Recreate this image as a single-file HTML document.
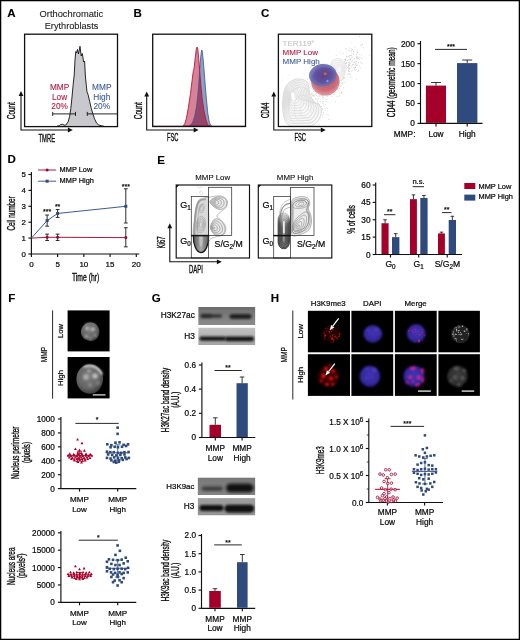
<!DOCTYPE html>
<html><head><meta charset="utf-8"><title>Figure</title>
<style>
html,body{margin:0;padding:0;background:#fff;}
body{width:520px;height:640px;overflow:hidden;font-family:"Liberation Sans", sans-serif;}
svg{display:block;font-family:"Liberation Sans", sans-serif;will-change:transform;}
</style></head><body>
<svg width="520" height="640" viewBox="0 0 520 640">
<defs>
<filter id="blur05" x="-10%" y="-10%" width="120%" height="120%"><feGaussianBlur stdDeviation="0.35"/></filter>
<filter id="blur06" x="-10%" y="-10%" width="120%" height="120%"><feGaussianBlur stdDeviation="0.55"/></filter>
<filter id="blur1" x="-20%" y="-20%" width="140%" height="140%"><feGaussianBlur stdDeviation="0.8"/></filter>
<filter id="blur2" x="-20%" y="-20%" width="140%" height="140%"><feGaussianBlur stdDeviation="1.4"/></filter>
<filter id="blur3" x="-30%" y="-30%" width="160%" height="160%"><feGaussianBlur stdDeviation="2.2"/></filter>
<filter id="blurb" x="-10%" y="-60%" width="120%" height="220%"><feGaussianBlur stdDeviation="1.0"/></filter>
<filter id="blurb2" x="-10%" y="-60%" width="120%" height="220%"><feGaussianBlur stdDeviation="1.5"/></filter>
<radialGradient id="nucg" cx="45%" cy="40%" r="60%">
 <stop offset="0" stop-color="#7c7c7c"/><stop offset="0.7" stop-color="#646464"/><stop offset="1" stop-color="#3c3c3c"/>
</radialGradient>
<radialGradient id="nucb" cx="50%" cy="45%" r="55%">
 <stop offset="0" stop-color="#4234b0"/><stop offset="0.75" stop-color="#3628a0"/><stop offset="1" stop-color="#1e1668"/>
</radialGradient>
<radialGradient id="nucgr" cx="50%" cy="45%" r="55%">
 <stop offset="0" stop-color="#3e3e3e"/><stop offset="0.8" stop-color="#2e2e2e"/><stop offset="1" stop-color="#161616"/>
</radialGradient>
</defs>
<rect x="0" y="0" width="520" height="640" fill="#fff"/>

<text transform="translate(7.20,17.00) scale(1.1,1)" font-size="10.5" fill="#000" stroke="#000" stroke-width="0.12" font-weight="bold">A</text><text x="71.40" y="16.90" font-size="9.3" text-anchor="middle" fill="#222" stroke="#222" stroke-width="0.1" font-weight="normal" >Orthochromatic</text><text x="71.50" y="28.90" font-size="9.2" text-anchor="middle" fill="#222" stroke="#222" stroke-width="0.1" font-weight="normal" >Erythroblasts</text><path d="M57,126.2 L59.5,125.6 L60.6,124.5 L62.7,124.2 L64.2,125.2 L65.8,125 L68.1,121.9 L69.6,116.5 L70.8,108.8 L71.9,98.1 L73.2,84.2 L74.2,75 L75,60 L75.8,51.5 L76.6,53 L77.5,49.5 L78.5,54 L80,46.3 L81.2,56 L82.3,53.5 L83.6,62 L84.6,61 L85.3,75 L86.2,84.2 L87,91.9 L88.1,94.7 L89.6,101.2 L91.2,108.1 L93,114.2 L94.5,118.8 L96.5,123 L98.8,125 L101.9,125.9 L104,126.2 L104,126.6 L57,126.6 Z" fill="#c9c9cd" stroke="none"/><path d="M57,126.2 L59.5,125.6 L60.6,124.5 L62.7,124.2 L64.2,125.2 L65.8,125 L68.1,121.9 L69.6,116.5 L70.8,108.8 L71.9,98.1 L73.2,84.2 L74.2,75 L75,60 L75.8,51.5 L76.6,53 L77.5,49.5 L78.5,54 L80,46.3 L81.2,56 L82.3,53.5 L83.6,62 L84.6,61 L85.3,75 L86.2,84.2 L87,91.9 L88.1,94.7 L89.6,101.2 L91.2,108.1 L93,114.2 L94.5,118.8 L96.5,123 L98.8,125 L101.9,125.9 L104,126.2" fill="none" stroke="#111" stroke-width="0.9" stroke-linejoin="round"/><rect x="24.60" y="34.20" width="92.90" height="92.40" fill="none" stroke="#111" stroke-width="1.3" /><line x1="52.70" y1="113.90" x2="75.50" y2="113.90" stroke="#111" stroke-width="0.9" /><line x1="52.70" y1="111.90" x2="52.70" y2="115.90" stroke="#111" stroke-width="0.9" /><line x1="75.50" y1="111.90" x2="75.50" y2="115.90" stroke="#111" stroke-width="0.9" /><line x1="87.30" y1="113.90" x2="117.50" y2="113.90" stroke="#111" stroke-width="0.9" /><line x1="87.30" y1="111.90" x2="87.30" y2="115.90" stroke="#111" stroke-width="0.9" /><text x="59.60" y="90.00" font-size="8.3" text-anchor="middle" fill="#b5173e" stroke="#b5173e" stroke-width="0.1" font-weight="normal" >MMP</text><text x="101.80" y="90.00" font-size="8.3" text-anchor="middle" fill="#3d5a96" stroke="#3d5a96" stroke-width="0.1" font-weight="normal" >MMP</text><text x="59.60" y="99.70" font-size="8.3" text-anchor="middle" fill="#b5173e" stroke="#b5173e" stroke-width="0.1" font-weight="normal" >Low</text><text x="101.80" y="99.70" font-size="8.3" text-anchor="middle" fill="#3d5a96" stroke="#3d5a96" stroke-width="0.1" font-weight="normal" >High</text><text x="59.60" y="109.40" font-size="8.3" text-anchor="middle" fill="#b5173e" stroke="#b5173e" stroke-width="0.1" font-weight="normal" >20%</text><text x="101.80" y="109.40" font-size="8.3" text-anchor="middle" fill="#3d5a96" stroke="#3d5a96" stroke-width="0.1" font-weight="normal" >20%</text><path d="M21.00,94.00 L21.00,130.00 L69.80,130.00" fill="none" stroke="#111" stroke-width="1.1"/><path d="M21.00,91.00 l-2.4,4.9 l4.8,0 z" fill="#111"/><path d="M72.80,130.00 l-4.9,-2.4 l0,4.8 z" fill="#111"/><text transform="translate(15.40,110.70) rotate(-90) scale(0.613,1)" font-size="10.4" text-anchor="middle" fill="#0a0a0a" stroke="#0a0a0a" stroke-width="0.34" font-weight="normal">Count</text><text transform="translate(46.80,141.60) rotate(0) scale(0.563,1)" font-size="10.4" text-anchor="middle" fill="#0a0a0a" stroke="#0a0a0a" stroke-width="0.34" font-weight="normal">TMRE</text>
<text transform="translate(133.60,17.00) scale(1.1,1)" font-size="10.5" fill="#000" stroke="#000" stroke-width="0.12" font-weight="bold">B</text><clipPath id="clipB"><path d="M189.1,126 L191,124.6 L192.7,122.3 L194.8,116 L196.6,106.1 L198,93.4 L199,80.8 L199.8,68.1 L200.7,56.9 L201.5,50.6 L201.9,50 L202.3,51.3 L202.9,56.9 L203.9,68.1 L205,82.2 L206.4,99.1 L207.8,113.1 L209.3,122.3 L210.7,125.3 L211.8,126 Z"/></clipPath><path d="M189.1,126 L191,124.6 L192.7,122.3 L194.8,116 L196.6,106.1 L198,93.4 L199,80.8 L199.8,68.1 L200.7,56.9 L201.5,50.6 L201.9,50 L202.3,51.3 L202.9,56.9 L203.9,68.1 L205,82.2 L206.4,99.1 L207.8,113.1 L209.3,122.3 L210.7,125.3 L211.8,126 Z" fill="#8ca0c3" stroke="none"/><path d="M183.3,126 L184.8,123.5 L186.3,118.8 L188.4,107.5 L190.5,93.4 L192.4,78 L193.4,70.4 L194,68.6 L195.2,58.3 L196.2,49.8 L196.7,47.4 L197.1,47 L197.5,47.6 L197.9,49.8 L198.7,58.3 L199.7,71 L200.8,85 L202.2,99 L203.9,110.3 L206,120.2 L207.4,124.2 L208.8,125.7 L209.5,126 Z" fill="#d78296" stroke="none"/><path d="M183.3,126 L184.8,123.5 L186.3,118.8 L188.4,107.5 L190.5,93.4 L192.4,78 L193.4,70.4 L194,68.6 L195.2,58.3 L196.2,49.8 L196.7,47.4 L197.1,47 L197.5,47.6 L197.9,49.8 L198.7,58.3 L199.7,71 L200.8,85 L202.2,99 L203.9,110.3 L206,120.2 L207.4,124.2 L208.8,125.7 L209.5,126 Z" fill="#964669" stroke="none" clip-path="url(#clipB)"/><path d="M189.1,126 L191,124.6 L192.7,122.3 L194.8,116 L196.6,106.1 L198,93.4 L199,80.8 L199.8,68.1 L200.7,56.9 L201.5,50.6 L201.9,50 L202.3,51.3 L202.9,56.9 L203.9,68.1 L205,82.2 L206.4,99.1 L207.8,113.1 L209.3,122.3 L210.7,125.3 L211.8,126 Z" fill="none" stroke="#3a5590" stroke-width="0.8" stroke-linejoin="round"/><path d="M183.3,126 L184.8,123.5 L186.3,118.8 L188.4,107.5 L190.5,93.4 L192.4,78 L193.4,70.4 L194,68.6 L195.2,58.3 L196.2,49.8 L196.7,47.4 L197.1,47 L197.5,47.6 L197.9,49.8 L198.7,58.3 L199.7,71 L200.8,85 L202.2,99 L203.9,110.3 L206,120.2 L207.4,124.2 L208.8,125.7 L209.5,126 Z" fill="none" stroke="#b5173e" stroke-width="0.9" stroke-linejoin="round"/><line x1="153.00" y1="126.20" x2="245.50" y2="126.20" stroke="#8a2040" stroke-width="0.8" /><rect x="152.70" y="34.20" width="92.80" height="92.30" fill="none" stroke="#111" stroke-width="1.3" /><path d="M146.70,94.50 L146.70,130.00 L195.60,130.00" fill="none" stroke="#111" stroke-width="1.1"/><path d="M146.70,91.50 l-2.4,4.9 l4.8,0 z" fill="#111"/><path d="M198.60,130.00 l-4.9,-2.4 l0,4.8 z" fill="#111"/><text transform="translate(141.50,110.70) rotate(-90) scale(0.613,1)" font-size="10.4" text-anchor="middle" fill="#0a0a0a" stroke="#0a0a0a" stroke-width="0.34" font-weight="normal">Count</text><text transform="translate(172.70,141.30) rotate(0) scale(0.553,1)" font-size="10.4" text-anchor="middle" fill="#0a0a0a" stroke="#0a0a0a" stroke-width="0.34" font-weight="normal">FSC</text>
<text transform="translate(261.00,17.00) scale(1.1,1)" font-size="10.5" fill="#000" stroke="#000" stroke-width="0.12" font-weight="bold">C</text><rect x="340.8" y="85.2" width="0.55" height="0.55" fill="#969696"/><rect x="322.6" y="84.0" width="0.55" height="0.55" fill="#969696"/><rect x="326.1" y="85.9" width="0.55" height="0.55" fill="#969696"/><rect x="341.4" y="74.6" width="0.55" height="0.55" fill="#969696"/><rect x="340.2" y="70.4" width="0.55" height="0.55" fill="#969696"/><rect x="322.5" y="68.2" width="0.55" height="0.55" fill="#969696"/><rect x="330.2" y="80.0" width="0.55" height="0.55" fill="#969696"/><rect x="330.5" y="81.9" width="0.55" height="0.55" fill="#969696"/><rect x="334.1" y="87.1" width="0.55" height="0.55" fill="#969696"/><rect x="353.8" y="68.6" width="0.55" height="0.55" fill="#969696"/><rect x="339.9" y="72.6" width="0.55" height="0.55" fill="#969696"/><rect x="331.7" y="87.6" width="0.55" height="0.55" fill="#969696"/><rect x="341.7" y="67.5" width="0.55" height="0.55" fill="#969696"/><rect x="338.7" y="69.8" width="0.55" height="0.55" fill="#969696"/><rect x="348.4" y="56.0" width="0.55" height="0.55" fill="#969696"/><rect x="331.1" y="66.2" width="0.55" height="0.55" fill="#969696"/><rect x="343.9" y="82.2" width="0.55" height="0.55" fill="#969696"/><rect x="320.8" y="89.8" width="0.55" height="0.55" fill="#969696"/><rect x="328.9" y="83.0" width="0.55" height="0.55" fill="#969696"/><rect x="346.8" y="56.2" width="0.55" height="0.55" fill="#969696"/><rect x="348.7" y="68.2" width="0.55" height="0.55" fill="#969696"/><rect x="338.0" y="64.1" width="0.55" height="0.55" fill="#969696"/><rect x="357.6" y="56.7" width="0.55" height="0.55" fill="#969696"/><rect x="354.6" y="69.5" width="0.55" height="0.55" fill="#969696"/><rect x="356.5" y="65.4" width="0.55" height="0.55" fill="#969696"/><rect x="327.8" y="85.2" width="0.55" height="0.55" fill="#969696"/><rect x="323.1" y="88.2" width="0.55" height="0.55" fill="#969696"/><rect x="339.1" y="88.4" width="0.55" height="0.55" fill="#969696"/><rect x="330.0" y="90.6" width="0.55" height="0.55" fill="#969696"/><rect x="357.9" y="62.1" width="0.55" height="0.55" fill="#969696"/><rect x="350.7" y="60.7" width="0.55" height="0.55" fill="#969696"/><rect x="350.8" y="65.8" width="0.55" height="0.55" fill="#969696"/><rect x="348.0" y="64.1" width="0.55" height="0.55" fill="#969696"/><rect x="332.5" y="87.4" width="0.55" height="0.55" fill="#969696"/><rect x="325.0" y="80.9" width="0.55" height="0.55" fill="#969696"/><rect x="340.1" y="79.3" width="0.55" height="0.55" fill="#969696"/><rect x="323.5" y="68.4" width="0.55" height="0.55" fill="#969696"/><rect x="338.4" y="63.6" width="0.55" height="0.55" fill="#969696"/><rect x="358.4" y="70.0" width="0.55" height="0.55" fill="#969696"/><rect x="357.0" y="52.6" width="0.55" height="0.55" fill="#969696"/><rect x="335.5" y="76.6" width="0.55" height="0.55" fill="#969696"/><rect x="347.1" y="67.4" width="0.55" height="0.55" fill="#969696"/><rect x="335.1" y="86.3" width="0.55" height="0.55" fill="#969696"/><rect x="331.0" y="86.2" width="0.55" height="0.55" fill="#969696"/><rect x="328.2" y="85.8" width="0.55" height="0.55" fill="#969696"/><rect x="349.7" y="55.7" width="0.55" height="0.55" fill="#969696"/><rect x="330.3" y="84.9" width="0.55" height="0.55" fill="#969696"/><rect x="340.7" y="65.9" width="0.55" height="0.55" fill="#969696"/><rect x="337.5" y="72.5" width="0.55" height="0.55" fill="#969696"/><rect x="326.5" y="89.1" width="0.55" height="0.55" fill="#969696"/><rect x="351.6" y="61.1" width="0.55" height="0.55" fill="#969696"/><rect x="351.2" y="55.0" width="0.55" height="0.55" fill="#969696"/><rect x="349.5" y="71.0" width="0.55" height="0.55" fill="#969696"/><rect x="361.4" y="46.6" width="0.55" height="0.55" fill="#969696"/><rect x="331.4" y="82.3" width="0.55" height="0.55" fill="#969696"/><rect x="338.9" y="59.3" width="0.55" height="0.55" fill="#969696"/><rect x="337.7" y="89.4" width="0.55" height="0.55" fill="#969696"/><rect x="362.1" y="44.4" width="0.55" height="0.55" fill="#969696"/><rect x="350.3" y="55.2" width="0.55" height="0.55" fill="#969696"/><rect x="340.6" y="71.7" width="0.55" height="0.55" fill="#969696"/><rect x="326.0" y="92.4" width="0.55" height="0.55" fill="#969696"/><rect x="353.1" y="62.4" width="0.55" height="0.55" fill="#969696"/><rect x="369.0" y="54.8" width="0.55" height="0.55" fill="#969696"/><rect x="337.7" y="80.5" width="0.55" height="0.55" fill="#969696"/><rect x="334.3" y="90.7" width="0.55" height="0.55" fill="#969696"/><rect x="356.7" y="50.6" width="0.55" height="0.55" fill="#969696"/><rect x="346.4" y="63.0" width="0.55" height="0.55" fill="#969696"/><rect x="354.7" y="59.0" width="0.55" height="0.55" fill="#969696"/><rect x="344.8" y="63.1" width="0.55" height="0.55" fill="#969696"/><rect x="344.3" y="72.1" width="0.55" height="0.55" fill="#969696"/><rect x="350.3" y="59.3" width="0.55" height="0.55" fill="#969696"/><rect x="353.8" y="51.6" width="0.55" height="0.55" fill="#969696"/><rect x="337.4" y="96.0" width="0.55" height="0.55" fill="#969696"/><rect x="357.0" y="71.0" width="0.55" height="0.55" fill="#969696"/><rect x="352.3" y="49.2" width="0.55" height="0.55" fill="#969696"/><rect x="343.2" y="70.2" width="0.55" height="0.55" fill="#969696"/><rect x="350.8" y="48.1" width="0.55" height="0.55" fill="#969696"/><rect x="342.9" y="62.0" width="0.55" height="0.55" fill="#969696"/><rect x="351.9" y="65.1" width="0.55" height="0.55" fill="#969696"/><rect x="335.3" y="87.3" width="0.55" height="0.55" fill="#969696"/><rect x="331.0" y="81.0" width="0.55" height="0.55" fill="#969696"/><rect x="349.3" y="63.2" width="0.55" height="0.55" fill="#969696"/><rect x="348.7" y="64.0" width="0.55" height="0.55" fill="#969696"/><rect x="346.1" y="56.7" width="0.55" height="0.55" fill="#969696"/><rect x="348.1" y="71.1" width="0.55" height="0.55" fill="#969696"/><rect x="342.2" y="82.1" width="0.55" height="0.55" fill="#969696"/><rect x="321.7" y="84.0" width="0.55" height="0.55" fill="#969696"/><rect x="339.4" y="76.6" width="0.55" height="0.55" fill="#969696"/><rect x="343.3" y="65.9" width="0.55" height="0.55" fill="#969696"/><rect x="342.9" y="74.6" width="0.55" height="0.55" fill="#969696"/><rect x="341.5" y="61.3" width="0.55" height="0.55" fill="#969696"/><rect x="354.3" y="58.2" width="0.55" height="0.55" fill="#969696"/><rect x="337.2" y="66.9" width="0.55" height="0.55" fill="#969696"/><rect x="339.7" y="67.0" width="0.55" height="0.55" fill="#969696"/><rect x="349.0" y="67.8" width="0.55" height="0.55" fill="#969696"/><rect x="356.6" y="56.3" width="0.55" height="0.55" fill="#969696"/><rect x="353.6" y="64.3" width="0.55" height="0.55" fill="#969696"/><rect x="334.8" y="88.6" width="0.55" height="0.55" fill="#969696"/><rect x="328.3" y="88.3" width="0.55" height="0.55" fill="#969696"/><rect x="348.8" y="50.7" width="0.55" height="0.55" fill="#969696"/><rect x="328.8" y="72.7" width="0.55" height="0.55" fill="#969696"/><rect x="341.9" y="70.8" width="0.55" height="0.55" fill="#969696"/><rect x="338.4" y="78.5" width="0.55" height="0.55" fill="#969696"/><rect x="351.9" y="70.6" width="0.55" height="0.55" fill="#969696"/><rect x="324.3" y="86.0" width="0.55" height="0.55" fill="#969696"/><rect x="337.9" y="82.2" width="0.55" height="0.55" fill="#969696"/><rect x="355.2" y="64.5" width="0.55" height="0.55" fill="#969696"/><rect x="344.6" y="73.7" width="0.55" height="0.55" fill="#969696"/><rect x="342.5" y="66.6" width="0.55" height="0.55" fill="#969696"/><rect x="359.4" y="36.4" width="0.55" height="0.55" fill="#969696"/><rect x="329.0" y="86.4" width="0.55" height="0.55" fill="#969696"/><rect x="349.0" y="65.2" width="0.55" height="0.55" fill="#969696"/><rect x="348.1" y="66.8" width="0.55" height="0.55" fill="#969696"/><rect x="341.7" y="91.9" width="0.55" height="0.55" fill="#969696"/><rect x="342.3" y="65.7" width="0.55" height="0.55" fill="#969696"/><rect x="325.3" y="79.2" width="0.55" height="0.55" fill="#969696"/><rect x="336.1" y="81.8" width="0.55" height="0.55" fill="#969696"/><rect x="360.3" y="67.7" width="0.55" height="0.55" fill="#969696"/><rect x="332.3" y="79.9" width="0.55" height="0.55" fill="#969696"/><rect x="323.2" y="71.2" width="0.55" height="0.55" fill="#969696"/><rect x="339.1" y="85.1" width="0.55" height="0.55" fill="#969696"/><rect x="335.9" y="82.5" width="0.55" height="0.55" fill="#969696"/><rect x="329.1" y="92.1" width="0.55" height="0.55" fill="#969696"/><rect x="335.4" y="71.8" width="0.55" height="0.55" fill="#969696"/><rect x="343.4" y="76.8" width="0.55" height="0.55" fill="#969696"/><rect x="326.5" y="88.6" width="0.55" height="0.55" fill="#969696"/><rect x="344.3" y="61.6" width="0.55" height="0.55" fill="#969696"/><rect x="342.9" y="70.5" width="0.55" height="0.55" fill="#969696"/><rect x="344.2" y="63.5" width="0.55" height="0.55" fill="#969696"/><rect x="345.5" y="64.8" width="0.55" height="0.55" fill="#969696"/><rect x="352.1" y="63.9" width="0.55" height="0.55" fill="#969696"/><rect x="348.7" y="50.1" width="0.55" height="0.55" fill="#969696"/><rect x="337.0" y="76.2" width="0.55" height="0.55" fill="#969696"/><rect x="338.8" y="88.5" width="0.55" height="0.55" fill="#969696"/><rect x="335.0" y="81.8" width="0.55" height="0.55" fill="#969696"/><rect x="357.4" y="51.8" width="0.55" height="0.55" fill="#969696"/><rect x="334.7" y="84.2" width="0.55" height="0.55" fill="#969696"/><rect x="343.4" y="78.7" width="0.55" height="0.55" fill="#969696"/><rect x="349.5" y="74.6" width="0.55" height="0.55" fill="#969696"/><rect x="343.0" y="87.6" width="0.55" height="0.55" fill="#969696"/><rect x="335.1" y="77.7" width="0.55" height="0.55" fill="#969696"/><rect x="330.4" y="76.3" width="0.55" height="0.55" fill="#969696"/><rect x="331.4" y="81.1" width="0.55" height="0.55" fill="#969696"/><rect x="339.0" y="82.8" width="0.55" height="0.55" fill="#969696"/><rect x="332.3" y="87.4" width="0.55" height="0.55" fill="#969696"/><rect x="326.7" y="75.7" width="0.55" height="0.55" fill="#969696"/><rect x="343.3" y="53.2" width="0.55" height="0.55" fill="#969696"/><rect x="348.3" y="62.1" width="0.55" height="0.55" fill="#969696"/><rect x="361.2" y="63.6" width="0.55" height="0.55" fill="#969696"/><rect x="356.3" y="69.7" width="0.55" height="0.55" fill="#969696"/><rect x="346.0" y="49.5" width="0.55" height="0.55" fill="#969696"/><rect x="355.0" y="66.9" width="0.55" height="0.55" fill="#969696"/><rect x="346.6" y="60.0" width="0.55" height="0.55" fill="#969696"/><rect x="339.8" y="52.4" width="0.55" height="0.55" fill="#969696"/><rect x="345.0" y="60.0" width="0.55" height="0.55" fill="#969696"/><rect x="330.7" y="91.9" width="0.55" height="0.55" fill="#969696"/><rect x="333.1" y="76.8" width="0.55" height="0.55" fill="#969696"/><rect x="338.5" y="59.1" width="0.55" height="0.55" fill="#969696"/><rect x="351.4" y="71.6" width="0.55" height="0.55" fill="#969696"/><rect x="341.0" y="62.4" width="0.55" height="0.55" fill="#969696"/><rect x="354.8" y="70.2" width="0.55" height="0.55" fill="#969696"/><rect x="337.8" y="81.9" width="0.55" height="0.55" fill="#969696"/><rect x="350.6" y="74.2" width="0.55" height="0.55" fill="#969696"/><rect x="349.4" y="55.1" width="0.55" height="0.55" fill="#969696"/><rect x="336.2" y="60.8" width="0.55" height="0.55" fill="#969696"/><rect x="343.0" y="64.8" width="0.55" height="0.55" fill="#969696"/><rect x="330.2" y="94.5" width="0.55" height="0.55" fill="#969696"/><rect x="334.3" y="77.2" width="0.55" height="0.55" fill="#969696"/><rect x="326.8" y="96.3" width="0.55" height="0.55" fill="#969696"/><rect x="344.5" y="59.3" width="0.55" height="0.55" fill="#969696"/><rect x="334.9" y="72.2" width="0.55" height="0.55" fill="#969696"/><rect x="332.7" y="81.1" width="0.55" height="0.55" fill="#969696"/><rect x="356.4" y="54.2" width="0.55" height="0.55" fill="#969696"/><rect x="346.5" y="55.8" width="0.55" height="0.55" fill="#969696"/><rect x="339.0" y="77.5" width="0.55" height="0.55" fill="#969696"/><rect x="356.3" y="64.8" width="0.55" height="0.55" fill="#969696"/><rect x="315.6" y="80.6" width="0.55" height="0.55" fill="#969696"/><rect x="333.0" y="75.9" width="0.55" height="0.55" fill="#969696"/><rect x="351.3" y="53.0" width="0.55" height="0.55" fill="#969696"/><rect x="351.6" y="57.6" width="0.55" height="0.55" fill="#969696"/><rect x="319.5" y="88.3" width="0.55" height="0.55" fill="#969696"/><rect x="338.6" y="82.7" width="0.55" height="0.55" fill="#969696"/><rect x="335.7" y="76.9" width="0.55" height="0.55" fill="#969696"/><rect x="350.1" y="59.5" width="0.55" height="0.55" fill="#969696"/><rect x="350.8" y="41.8" width="0.55" height="0.55" fill="#969696"/><rect x="330.5" y="83.2" width="0.55" height="0.55" fill="#969696"/><rect x="351.2" y="50.5" width="0.55" height="0.55" fill="#969696"/><rect x="338.5" y="75.6" width="0.55" height="0.55" fill="#969696"/><rect x="331.5" y="79.6" width="0.55" height="0.55" fill="#969696"/><rect x="354.1" y="61.7" width="0.55" height="0.55" fill="#969696"/><rect x="343.5" y="76.9" width="0.55" height="0.55" fill="#969696"/><rect x="362.9" y="47.0" width="0.55" height="0.55" fill="#969696"/><rect x="357.1" y="57.9" width="0.55" height="0.55" fill="#969696"/><rect x="342.1" y="67.1" width="0.55" height="0.55" fill="#969696"/><rect x="338.4" y="66.7" width="0.55" height="0.55" fill="#969696"/><rect x="344.9" y="68.2" width="0.55" height="0.55" fill="#969696"/><rect x="358.5" y="62.2" width="0.55" height="0.55" fill="#969696"/><rect x="333.4" y="87.3" width="0.55" height="0.55" fill="#969696"/><rect x="354.7" y="65.0" width="0.55" height="0.55" fill="#969696"/><rect x="329.4" y="75.3" width="0.55" height="0.55" fill="#969696"/><rect x="333.2" y="86.4" width="0.55" height="0.55" fill="#969696"/><rect x="348.9" y="57.3" width="0.55" height="0.55" fill="#969696"/><rect x="359.7" y="57.0" width="0.55" height="0.55" fill="#969696"/><rect x="331.1" y="86.1" width="0.55" height="0.55" fill="#969696"/><rect x="340.0" y="79.2" width="0.55" height="0.55" fill="#969696"/><rect x="322.4" y="73.0" width="0.55" height="0.55" fill="#969696"/><rect x="343.2" y="66.3" width="0.55" height="0.55" fill="#969696"/><rect x="337.8" y="74.6" width="0.55" height="0.55" fill="#969696"/><rect x="325.2" y="104.0" width="0.55" height="0.55" fill="#969696"/><rect x="321.3" y="83.5" width="0.55" height="0.55" fill="#969696"/><rect x="352.9" y="64.1" width="0.55" height="0.55" fill="#969696"/><rect x="328.2" y="84.0" width="0.55" height="0.55" fill="#969696"/><rect x="361.7" y="44.0" width="0.55" height="0.55" fill="#969696"/><rect x="335.9" y="89.5" width="0.55" height="0.55" fill="#969696"/><rect x="345.0" y="59.1" width="0.55" height="0.55" fill="#969696"/><rect x="315.3" y="98.1" width="0.55" height="0.55" fill="#969696"/><rect x="360.7" y="45.2" width="0.55" height="0.55" fill="#969696"/><rect x="336.1" y="82.1" width="0.55" height="0.55" fill="#969696"/><rect x="335.8" y="55.1" width="0.55" height="0.55" fill="#969696"/><rect x="341.5" y="53.9" width="0.55" height="0.55" fill="#969696"/><rect x="338.1" y="71.8" width="0.55" height="0.55" fill="#969696"/><rect x="350.9" y="77.0" width="0.55" height="0.55" fill="#969696"/><rect x="344.3" y="69.5" width="0.55" height="0.55" fill="#969696"/><rect x="327.5" y="71.2" width="0.55" height="0.55" fill="#969696"/><rect x="336.0" y="87.8" width="0.55" height="0.55" fill="#969696"/><rect x="340.2" y="71.4" width="0.55" height="0.55" fill="#969696"/><rect x="349.1" y="68.0" width="0.55" height="0.55" fill="#969696"/><rect x="348.2" y="69.8" width="0.55" height="0.55" fill="#969696"/><rect x="348.2" y="58.7" width="0.55" height="0.55" fill="#969696"/><rect x="342.5" y="76.9" width="0.55" height="0.55" fill="#969696"/><rect x="342.2" y="78.7" width="0.55" height="0.55" fill="#969696"/><rect x="342.2" y="67.7" width="0.55" height="0.55" fill="#969696"/><rect x="349.9" y="63.0" width="0.55" height="0.55" fill="#969696"/><rect x="323.7" y="93.1" width="0.55" height="0.55" fill="#969696"/><rect x="349.9" y="76.6" width="0.55" height="0.55" fill="#969696"/><rect x="344.1" y="62.7" width="0.55" height="0.55" fill="#969696"/><rect x="350.9" y="67.0" width="0.55" height="0.55" fill="#969696"/><rect x="334.7" y="91.8" width="0.55" height="0.55" fill="#969696"/><rect x="341.6" y="75.5" width="0.55" height="0.55" fill="#969696"/><rect x="332.7" y="88.8" width="0.55" height="0.55" fill="#969696"/><rect x="349.2" y="64.1" width="0.55" height="0.55" fill="#969696"/><rect x="341.5" y="93.0" width="0.55" height="0.55" fill="#969696"/><rect x="332.3" y="84.0" width="0.55" height="0.55" fill="#969696"/><rect x="347.8" y="66.0" width="0.55" height="0.55" fill="#969696"/><rect x="361.9" y="62.8" width="0.55" height="0.55" fill="#969696"/><rect x="341.4" y="91.9" width="0.55" height="0.55" fill="#969696"/><rect x="357.1" y="64.7" width="0.55" height="0.55" fill="#969696"/><rect x="333.6" y="79.6" width="0.55" height="0.55" fill="#969696"/><rect x="335.9" y="82.3" width="0.55" height="0.55" fill="#969696"/><rect x="339.5" y="75.1" width="0.55" height="0.55" fill="#969696"/><rect x="356.4" y="61.6" width="0.55" height="0.55" fill="#969696"/><rect x="353.4" y="53.4" width="0.55" height="0.55" fill="#969696"/><rect x="321.8" y="87.4" width="0.55" height="0.55" fill="#969696"/><rect x="355.6" y="63.0" width="0.55" height="0.55" fill="#969696"/><rect x="359.0" y="58.9" width="0.55" height="0.55" fill="#969696"/><rect x="350.5" y="58.4" width="0.55" height="0.55" fill="#969696"/><rect x="339.5" y="92.8" width="0.55" height="0.55" fill="#969696"/><rect x="333.5" y="64.3" width="0.55" height="0.55" fill="#969696"/><rect x="334.1" y="93.9" width="0.55" height="0.55" fill="#969696"/><rect x="343.8" y="78.1" width="0.55" height="0.55" fill="#969696"/><rect x="335.4" y="77.8" width="0.55" height="0.55" fill="#969696"/><rect x="356.0" y="57.3" width="0.55" height="0.55" fill="#969696"/><rect x="358.6" y="56.7" width="0.55" height="0.55" fill="#969696"/><rect x="354.6" y="67.2" width="0.55" height="0.55" fill="#969696"/><rect x="337.6" y="82.3" width="0.55" height="0.55" fill="#969696"/><rect x="344.2" y="69.3" width="0.55" height="0.55" fill="#969696"/><rect x="349.3" y="47.7" width="0.55" height="0.55" fill="#969696"/><rect x="345.0" y="57.8" width="0.55" height="0.55" fill="#969696"/><rect x="328.8" y="86.5" width="0.55" height="0.55" fill="#969696"/><rect x="331.6" y="96.4" width="0.55" height="0.55" fill="#969696"/><rect x="334.9" y="80.3" width="0.55" height="0.55" fill="#969696"/><rect x="334.9" y="86.6" width="0.55" height="0.55" fill="#969696"/><rect x="357.2" y="57.5" width="0.55" height="0.55" fill="#969696"/><rect x="334.3" y="89.8" width="0.55" height="0.55" fill="#969696"/><rect x="343.2" y="65.5" width="0.55" height="0.55" fill="#969696"/><rect x="332.0" y="66.6" width="0.55" height="0.55" fill="#969696"/><rect x="353.5" y="54.1" width="0.55" height="0.55" fill="#969696"/><rect x="332.3" y="79.0" width="0.55" height="0.55" fill="#969696"/><rect x="336.2" y="76.9" width="0.55" height="0.55" fill="#969696"/><rect x="332.0" y="86.5" width="0.55" height="0.55" fill="#969696"/><rect x="336.5" y="76.7" width="0.55" height="0.55" fill="#969696"/><rect x="320.9" y="90.2" width="0.55" height="0.55" fill="#969696"/><rect x="342.5" y="83.4" width="0.55" height="0.55" fill="#969696"/><rect x="348.4" y="65.6" width="0.55" height="0.55" fill="#969696"/><rect x="345.1" y="59.7" width="0.55" height="0.55" fill="#969696"/><rect x="358.3" y="58.4" width="0.55" height="0.55" fill="#969696"/><rect x="335.6" y="101.4" width="0.55" height="0.55" fill="#969696"/><rect x="348.7" y="65.3" width="0.55" height="0.55" fill="#969696"/><rect x="347.6" y="60.3" width="0.55" height="0.55" fill="#969696"/><rect x="352.0" y="60.4" width="0.55" height="0.55" fill="#969696"/><rect x="340.8" y="64.4" width="0.55" height="0.55" fill="#969696"/><rect x="339.6" y="79.1" width="0.55" height="0.55" fill="#969696"/><rect x="326.6" y="73.4" width="0.55" height="0.55" fill="#969696"/><rect x="337.4" y="81.5" width="0.55" height="0.55" fill="#969696"/><rect x="348.4" y="70.5" width="0.55" height="0.55" fill="#969696"/><rect x="334.2" y="72.6" width="0.55" height="0.55" fill="#969696"/><rect x="332.7" y="90.0" width="0.55" height="0.55" fill="#969696"/><rect x="340.8" y="66.9" width="0.55" height="0.55" fill="#969696"/><rect x="328.8" y="75.7" width="0.55" height="0.55" fill="#969696"/><rect x="329.2" y="94.6" width="0.55" height="0.55" fill="#969696"/><rect x="330.2" y="74.7" width="0.55" height="0.55" fill="#969696"/><rect x="351.8" y="56.1" width="0.55" height="0.55" fill="#969696"/><rect x="340.1" y="86.3" width="0.55" height="0.55" fill="#969696"/><rect x="345.0" y="81.6" width="0.55" height="0.55" fill="#969696"/><rect x="341.3" y="67.1" width="0.55" height="0.55" fill="#969696"/><rect x="349.0" y="59.0" width="0.55" height="0.55" fill="#969696"/><rect x="318.3" y="84.3" width="0.55" height="0.55" fill="#969696"/><rect x="360.4" y="62.3" width="0.55" height="0.55" fill="#969696"/><rect x="333.8" y="75.3" width="0.55" height="0.55" fill="#969696"/><rect x="320.9" y="76.3" width="0.55" height="0.55" fill="#969696"/><rect x="318.4" y="85.1" width="0.55" height="0.55" fill="#969696"/><rect x="356.0" y="58.6" width="0.55" height="0.55" fill="#969696"/><rect x="361.1" y="54.7" width="0.55" height="0.55" fill="#969696"/><rect x="332.9" y="83.1" width="0.55" height="0.55" fill="#969696"/><rect x="345.0" y="48.3" width="0.55" height="0.55" fill="#969696"/><rect x="331.8" y="77.7" width="0.55" height="0.55" fill="#969696"/><rect x="344.6" y="63.4" width="0.55" height="0.55" fill="#969696"/><rect x="332.7" y="88.7" width="0.55" height="0.55" fill="#969696"/><rect x="339.2" y="72.8" width="0.55" height="0.55" fill="#969696"/><rect x="331.4" y="64.9" width="0.55" height="0.55" fill="#969696"/><rect x="317.9" y="82.1" width="0.55" height="0.55" fill="#969696"/><rect x="328.7" y="83.7" width="0.55" height="0.55" fill="#969696"/><rect x="336.0" y="64.6" width="0.55" height="0.55" fill="#969696"/><rect x="328.2" y="82.0" width="0.55" height="0.55" fill="#969696"/><rect x="335.2" y="67.1" width="0.55" height="0.55" fill="#969696"/><rect x="347.4" y="74.5" width="0.55" height="0.55" fill="#969696"/><rect x="341.6" y="83.2" width="0.55" height="0.55" fill="#969696"/><rect x="345.8" y="62.6" width="0.55" height="0.55" fill="#969696"/><rect x="342.7" y="74.2" width="0.55" height="0.55" fill="#969696"/><rect x="344.4" y="77.5" width="0.55" height="0.55" fill="#969696"/><rect x="349.6" y="73.2" width="0.55" height="0.55" fill="#969696"/><rect x="327.4" y="73.1" width="0.55" height="0.55" fill="#969696"/><rect x="348.0" y="73.4" width="0.55" height="0.55" fill="#969696"/><rect x="340.4" y="74.0" width="0.55" height="0.55" fill="#969696"/><rect x="361.4" y="58.6" width="0.55" height="0.55" fill="#969696"/><rect x="356.3" y="78.9" width="0.55" height="0.55" fill="#969696"/><rect x="353.6" y="67.1" width="0.55" height="0.55" fill="#969696"/><rect x="334.3" y="66.7" width="0.55" height="0.55" fill="#969696"/><rect x="322.0" y="95.2" width="0.55" height="0.55" fill="#969696"/><rect x="334.6" y="79.2" width="0.55" height="0.55" fill="#969696"/><rect x="354.9" y="66.8" width="0.55" height="0.55" fill="#969696"/><rect x="354.8" y="62.0" width="0.55" height="0.55" fill="#969696"/><rect x="340.5" y="72.5" width="0.55" height="0.55" fill="#969696"/><rect x="338.9" y="95.8" width="0.55" height="0.55" fill="#969696"/><rect x="349.3" y="62.3" width="0.55" height="0.55" fill="#969696"/><rect x="355.1" y="67.0" width="0.55" height="0.55" fill="#969696"/><rect x="337.3" y="77.3" width="0.55" height="0.55" fill="#969696"/><rect x="331.8" y="62.1" width="0.55" height="0.55" fill="#969696"/><rect x="337.6" y="84.0" width="0.55" height="0.55" fill="#969696"/><rect x="339.2" y="69.3" width="0.55" height="0.55" fill="#969696"/><rect x="350.7" y="51.2" width="0.55" height="0.55" fill="#969696"/><rect x="345.4" y="63.6" width="0.55" height="0.55" fill="#969696"/><rect x="358.9" y="66.6" width="0.55" height="0.55" fill="#969696"/><rect x="322.5" y="63.9" width="0.55" height="0.55" fill="#969696"/><rect x="340.9" y="62.9" width="0.55" height="0.55" fill="#969696"/><rect x="329.4" y="88.8" width="0.55" height="0.55" fill="#969696"/><rect x="337.9" y="70.5" width="0.55" height="0.55" fill="#969696"/><rect x="355.8" y="61.3" width="0.55" height="0.55" fill="#969696"/><rect x="346.0" y="65.9" width="0.55" height="0.55" fill="#969696"/><rect x="341.1" y="80.0" width="0.55" height="0.55" fill="#969696"/><rect x="325.8" y="75.7" width="0.55" height="0.55" fill="#969696"/><rect x="327.3" y="75.5" width="0.55" height="0.55" fill="#969696"/><rect x="334.2" y="81.4" width="0.55" height="0.55" fill="#969696"/><rect x="337.5" y="88.6" width="0.55" height="0.55" fill="#969696"/><rect x="353.4" y="51.4" width="0.55" height="0.55" fill="#969696"/><rect x="342.5" y="79.7" width="0.55" height="0.55" fill="#969696"/><rect x="337.8" y="77.0" width="0.55" height="0.55" fill="#969696"/><rect x="348.3" y="68.5" width="0.55" height="0.55" fill="#969696"/><rect x="334.9" y="78.4" width="0.55" height="0.55" fill="#969696"/><rect x="338.3" y="72.8" width="0.55" height="0.55" fill="#969696"/><rect x="327.9" y="84.9" width="0.55" height="0.55" fill="#969696"/><rect x="345.6" y="67.9" width="0.55" height="0.55" fill="#969696"/><rect x="326.4" y="76.0" width="0.55" height="0.55" fill="#969696"/><rect x="346.7" y="62.2" width="0.55" height="0.55" fill="#969696"/><rect x="334.7" y="79.6" width="0.55" height="0.55" fill="#969696"/><rect x="354.6" y="46.9" width="0.55" height="0.55" fill="#969696"/><rect x="331.7" y="78.2" width="0.55" height="0.55" fill="#969696"/><rect x="339.6" y="64.5" width="0.55" height="0.55" fill="#969696"/><rect x="336.2" y="83.4" width="0.55" height="0.55" fill="#969696"/><rect x="322.1" y="96.7" width="0.55" height="0.55" fill="#969696"/><rect x="312.1" y="84.6" width="0.55" height="0.55" fill="#a4a4a4"/><rect x="314.9" y="94.1" width="0.55" height="0.55" fill="#a4a4a4"/><rect x="309.9" y="97.8" width="0.55" height="0.55" fill="#a4a4a4"/><rect x="317.7" y="90.4" width="0.55" height="0.55" fill="#a4a4a4"/><rect x="315.2" y="113.8" width="0.55" height="0.55" fill="#a4a4a4"/><rect x="320.1" y="99.6" width="0.55" height="0.55" fill="#a4a4a4"/><rect x="316.8" y="99.9" width="0.55" height="0.55" fill="#a4a4a4"/><rect x="315.7" y="107.6" width="0.55" height="0.55" fill="#a4a4a4"/><rect x="315.4" y="79.4" width="0.55" height="0.55" fill="#a4a4a4"/><rect x="315.9" y="93.0" width="0.55" height="0.55" fill="#a4a4a4"/><rect x="319.9" y="95.5" width="0.55" height="0.55" fill="#a4a4a4"/><rect x="316.9" y="120.6" width="0.55" height="0.55" fill="#a4a4a4"/><rect x="309.7" y="90.9" width="0.55" height="0.55" fill="#a4a4a4"/><rect x="307.5" y="79.4" width="0.55" height="0.55" fill="#a4a4a4"/><rect x="304.7" y="104.3" width="0.55" height="0.55" fill="#a4a4a4"/><rect x="312.2" y="84.2" width="0.55" height="0.55" fill="#a4a4a4"/><rect x="307.1" y="106.6" width="0.55" height="0.55" fill="#a4a4a4"/><rect x="311.3" y="97.7" width="0.55" height="0.55" fill="#a4a4a4"/><rect x="318.0" y="113.2" width="0.55" height="0.55" fill="#a4a4a4"/><rect x="327.6" y="110.3" width="0.55" height="0.55" fill="#a4a4a4"/><rect x="316.9" y="102.7" width="0.55" height="0.55" fill="#a4a4a4"/><rect x="326.8" y="113.9" width="0.55" height="0.55" fill="#a4a4a4"/><rect x="314.1" y="105.1" width="0.55" height="0.55" fill="#a4a4a4"/><rect x="317.7" y="101.5" width="0.55" height="0.55" fill="#a4a4a4"/><rect x="313.0" y="89.1" width="0.55" height="0.55" fill="#a4a4a4"/><rect x="312.8" y="87.1" width="0.55" height="0.55" fill="#a4a4a4"/><rect x="323.3" y="105.8" width="0.55" height="0.55" fill="#a4a4a4"/><rect x="308.8" y="113.6" width="0.55" height="0.55" fill="#a4a4a4"/><rect x="321.4" y="83.8" width="0.55" height="0.55" fill="#a4a4a4"/><rect x="327.0" y="108.3" width="0.55" height="0.55" fill="#a4a4a4"/><rect x="328.4" y="89.9" width="0.55" height="0.55" fill="#a4a4a4"/><rect x="319.2" y="104.8" width="0.55" height="0.55" fill="#a4a4a4"/><rect x="317.2" y="102.5" width="0.55" height="0.55" fill="#a4a4a4"/><rect x="322.3" y="87.6" width="0.55" height="0.55" fill="#a4a4a4"/><rect x="308.5" y="88.5" width="0.55" height="0.55" fill="#a4a4a4"/><rect x="312.7" y="95.6" width="0.55" height="0.55" fill="#a4a4a4"/><rect x="318.2" y="103.4" width="0.55" height="0.55" fill="#a4a4a4"/><rect x="316.2" y="94.9" width="0.55" height="0.55" fill="#a4a4a4"/><rect x="313.3" y="109.6" width="0.55" height="0.55" fill="#a4a4a4"/><rect x="320.6" y="101.9" width="0.55" height="0.55" fill="#a4a4a4"/><rect x="314.1" y="115.0" width="0.55" height="0.55" fill="#a4a4a4"/><rect x="312.4" y="106.8" width="0.55" height="0.55" fill="#a4a4a4"/><rect x="322.9" y="98.6" width="0.55" height="0.55" fill="#a4a4a4"/><rect x="321.0" y="91.0" width="0.55" height="0.55" fill="#a4a4a4"/><rect x="322.1" y="102.8" width="0.55" height="0.55" fill="#a4a4a4"/><rect x="306.5" y="107.0" width="0.55" height="0.55" fill="#a4a4a4"/><rect x="310.6" y="112.5" width="0.55" height="0.55" fill="#a4a4a4"/><rect x="311.9" y="99.5" width="0.55" height="0.55" fill="#a4a4a4"/><rect x="317.7" y="98.0" width="0.55" height="0.55" fill="#a4a4a4"/><rect x="317.6" y="96.0" width="0.55" height="0.55" fill="#a4a4a4"/><rect x="320.0" y="101.0" width="0.55" height="0.55" fill="#a4a4a4"/><rect x="317.3" y="76.2" width="0.55" height="0.55" fill="#a4a4a4"/><rect x="323.0" y="101.3" width="0.55" height="0.55" fill="#a4a4a4"/><rect x="305.3" y="101.9" width="0.55" height="0.55" fill="#a4a4a4"/><rect x="318.8" y="110.6" width="0.55" height="0.55" fill="#a4a4a4"/><rect x="309.5" y="114.9" width="0.55" height="0.55" fill="#a4a4a4"/><rect x="315.0" y="122.6" width="0.55" height="0.55" fill="#a4a4a4"/><rect x="315.1" y="107.1" width="0.55" height="0.55" fill="#a4a4a4"/><rect x="313.8" y="91.0" width="0.55" height="0.55" fill="#a4a4a4"/><rect x="322.6" y="109.2" width="0.55" height="0.55" fill="#a4a4a4"/><rect x="325.2" y="108.7" width="0.55" height="0.55" fill="#a4a4a4"/><rect x="312.6" y="86.0" width="0.55" height="0.55" fill="#a4a4a4"/><rect x="312.1" y="94.9" width="0.55" height="0.55" fill="#a4a4a4"/><rect x="311.1" y="106.2" width="0.55" height="0.55" fill="#a4a4a4"/><rect x="318.0" y="98.6" width="0.55" height="0.55" fill="#a4a4a4"/><rect x="317.0" y="99.7" width="0.55" height="0.55" fill="#a4a4a4"/><rect x="317.3" y="107.8" width="0.55" height="0.55" fill="#a4a4a4"/><rect x="321.8" y="94.8" width="0.55" height="0.55" fill="#a4a4a4"/><rect x="307.0" y="113.8" width="0.55" height="0.55" fill="#a4a4a4"/><rect x="316.7" y="111.0" width="0.55" height="0.55" fill="#a4a4a4"/><rect x="306.1" y="98.0" width="0.55" height="0.55" fill="#a4a4a4"/><rect x="316.2" y="88.0" width="0.55" height="0.55" fill="#a4a4a4"/><rect x="312.9" y="107.5" width="0.55" height="0.55" fill="#a4a4a4"/><rect x="322.5" y="115.3" width="0.55" height="0.55" fill="#a4a4a4"/><rect x="310.8" y="88.4" width="0.55" height="0.55" fill="#a4a4a4"/><rect x="319.1" y="109.5" width="0.55" height="0.55" fill="#a4a4a4"/><rect x="317.2" y="89.3" width="0.55" height="0.55" fill="#a4a4a4"/><rect x="320.7" y="108.1" width="0.55" height="0.55" fill="#a4a4a4"/><rect x="319.3" y="96.6" width="0.55" height="0.55" fill="#a4a4a4"/><rect x="317.8" y="108.1" width="0.55" height="0.55" fill="#a4a4a4"/><rect x="312.6" y="84.4" width="0.55" height="0.55" fill="#a4a4a4"/><rect x="318.0" y="105.3" width="0.55" height="0.55" fill="#a4a4a4"/><rect x="316.1" y="109.0" width="0.55" height="0.55" fill="#a4a4a4"/><rect x="312.5" y="100.3" width="0.55" height="0.55" fill="#a4a4a4"/><rect x="314.2" y="106.1" width="0.55" height="0.55" fill="#a4a4a4"/><rect x="325.6" y="98.7" width="0.55" height="0.55" fill="#a4a4a4"/><rect x="328.3" y="114.8" width="0.55" height="0.55" fill="#a4a4a4"/><rect x="320.7" y="106.3" width="0.55" height="0.55" fill="#a4a4a4"/><rect x="326.6" y="99.4" width="0.55" height="0.55" fill="#a4a4a4"/><rect x="315.3" y="91.4" width="0.55" height="0.55" fill="#a4a4a4"/><rect x="318.8" y="113.1" width="0.55" height="0.55" fill="#a4a4a4"/><rect x="319.2" y="104.8" width="0.55" height="0.55" fill="#a4a4a4"/><rect x="314.8" y="102.5" width="0.55" height="0.55" fill="#a4a4a4"/><rect x="307.4" y="110.4" width="0.55" height="0.55" fill="#a4a4a4"/><rect x="313.5" y="91.1" width="0.55" height="0.55" fill="#a4a4a4"/><rect x="311.5" y="93.6" width="0.55" height="0.55" fill="#a4a4a4"/><rect x="321.1" y="110.5" width="0.55" height="0.55" fill="#a4a4a4"/><rect x="307.9" y="109.3" width="0.55" height="0.55" fill="#a4a4a4"/><rect x="321.3" y="95.8" width="0.55" height="0.55" fill="#a4a4a4"/><rect x="307.1" y="94.3" width="0.55" height="0.55" fill="#a4a4a4"/><rect x="312.2" y="104.1" width="0.55" height="0.55" fill="#a4a4a4"/><rect x="313.9" y="82.7" width="0.55" height="0.55" fill="#a4a4a4"/><rect x="317.4" y="87.2" width="0.55" height="0.55" fill="#a4a4a4"/><rect x="321.4" y="90.1" width="0.55" height="0.55" fill="#a4a4a4"/><rect x="311.8" y="93.3" width="0.55" height="0.55" fill="#a4a4a4"/><rect x="312.7" y="112.7" width="0.55" height="0.55" fill="#a4a4a4"/><rect x="321.1" y="106.4" width="0.55" height="0.55" fill="#a4a4a4"/><rect x="317.9" y="87.1" width="0.55" height="0.55" fill="#a4a4a4"/><rect x="312.9" y="96.0" width="0.55" height="0.55" fill="#a4a4a4"/><rect x="310.1" y="105.6" width="0.55" height="0.55" fill="#a4a4a4"/><rect x="311.6" y="94.6" width="0.55" height="0.55" fill="#a4a4a4"/><rect x="309.7" y="82.5" width="0.55" height="0.55" fill="#a4a4a4"/><rect x="319.6" y="113.0" width="0.55" height="0.55" fill="#a4a4a4"/><rect x="317.0" y="92.2" width="0.55" height="0.55" fill="#a4a4a4"/><rect x="299.8" y="102.6" width="0.55" height="0.55" fill="#a4a4a4"/><rect x="323.3" y="103.7" width="0.55" height="0.55" fill="#a4a4a4"/><rect x="321.6" y="114.3" width="0.55" height="0.55" fill="#a4a4a4"/><rect x="322.8" y="97.0" width="0.55" height="0.55" fill="#a4a4a4"/><rect x="322.3" y="108.0" width="0.55" height="0.55" fill="#a4a4a4"/><rect x="306.8" y="97.4" width="0.55" height="0.55" fill="#a4a4a4"/><rect x="307.5" y="100.0" width="0.55" height="0.55" fill="#a4a4a4"/><rect x="319.5" y="91.4" width="0.55" height="0.55" fill="#a4a4a4"/><rect x="303.7" y="112.7" width="0.55" height="0.55" fill="#a4a4a4"/><rect x="318.3" y="114.2" width="0.55" height="0.55" fill="#a4a4a4"/><rect x="308.1" y="110.5" width="0.55" height="0.55" fill="#a4a4a4"/><rect x="328.4" y="119.1" width="0.55" height="0.55" fill="#a4a4a4"/><rect x="314.7" y="103.4" width="0.55" height="0.55" fill="#a4a4a4"/><rect x="315.1" y="110.0" width="0.55" height="0.55" fill="#a4a4a4"/><rect x="322.2" y="101.8" width="0.55" height="0.55" fill="#a4a4a4"/><rect x="307.8" y="107.7" width="0.55" height="0.55" fill="#a4a4a4"/><rect x="313.2" y="106.7" width="0.55" height="0.55" fill="#a4a4a4"/><rect x="317.6" y="115.6" width="0.55" height="0.55" fill="#a4a4a4"/><rect x="322.8" y="96.9" width="0.55" height="0.55" fill="#a4a4a4"/><rect x="318.1" y="116.9" width="0.55" height="0.55" fill="#a4a4a4"/><rect x="312.8" y="104.9" width="0.55" height="0.55" fill="#a4a4a4"/><rect x="323.1" y="112.3" width="0.55" height="0.55" fill="#a4a4a4"/><rect x="319.1" y="89.1" width="0.55" height="0.55" fill="#a4a4a4"/><rect x="308.4" y="103.2" width="0.55" height="0.55" fill="#a4a4a4"/><rect x="318.3" y="123.9" width="0.55" height="0.55" fill="#a4a4a4"/><rect x="310.8" y="111.2" width="0.55" height="0.55" fill="#a4a4a4"/><rect x="320.6" y="86.0" width="0.55" height="0.55" fill="#a4a4a4"/><rect x="311.1" y="102.5" width="0.55" height="0.55" fill="#a4a4a4"/><rect x="313.0" y="99.6" width="0.55" height="0.55" fill="#a4a4a4"/><rect x="318.8" y="93.7" width="0.55" height="0.55" fill="#a4a4a4"/><rect x="318.8" y="95.3" width="0.55" height="0.55" fill="#a4a4a4"/><rect x="312.7" y="105.8" width="0.55" height="0.55" fill="#a4a4a4"/><rect x="312.6" y="103.6" width="0.55" height="0.55" fill="#a4a4a4"/><rect x="325.6" y="101.2" width="0.55" height="0.55" fill="#a4a4a4"/><rect x="315.1" y="107.6" width="0.55" height="0.55" fill="#a4a4a4"/><rect x="313.8" y="110.7" width="0.55" height="0.55" fill="#a4a4a4"/><rect x="308.3" y="106.6" width="0.55" height="0.55" fill="#a4a4a4"/><rect x="312.9" y="93.8" width="0.55" height="0.55" fill="#a4a4a4"/><rect x="326.6" y="93.3" width="0.55" height="0.55" fill="#a4a4a4"/><rect x="326.5" y="106.9" width="0.55" height="0.55" fill="#a4a4a4"/><rect x="324.7" y="92.2" width="0.55" height="0.55" fill="#a4a4a4"/><rect x="323.2" y="114.1" width="0.55" height="0.55" fill="#a4a4a4"/><rect x="315.3" y="99.8" width="0.55" height="0.55" fill="#a4a4a4"/><rect x="330.7" y="102.6" width="0.55" height="0.55" fill="#a4a4a4"/><rect x="313.5" y="95.3" width="0.55" height="0.55" fill="#a4a4a4"/><rect x="318.7" y="104.0" width="0.55" height="0.55" fill="#a4a4a4"/><rect x="317.1" y="116.5" width="0.55" height="0.55" fill="#a4a4a4"/><rect x="314.0" y="105.3" width="0.55" height="0.55" fill="#a4a4a4"/><rect x="324.8" y="92.0" width="0.55" height="0.55" fill="#a4a4a4"/><rect x="322.2" y="117.5" width="0.55" height="0.55" fill="#a4a4a4"/><rect x="307.9" y="91.1" width="0.55" height="0.55" fill="#a4a4a4"/><rect x="309.8" y="84.4" width="0.55" height="0.55" fill="#a4a4a4"/><rect x="318.7" y="84.3" width="0.55" height="0.55" fill="#a4a4a4"/><rect x="319.0" y="114.1" width="0.55" height="0.55" fill="#a4a4a4"/><rect x="306.3" y="98.2" width="0.55" height="0.55" fill="#a4a4a4"/><rect x="304.5" y="108.0" width="0.55" height="0.55" fill="#a4a4a4"/><rect x="311.6" y="98.6" width="0.55" height="0.55" fill="#a4a4a4"/><rect x="316.3" y="105.9" width="0.55" height="0.55" fill="#a4a4a4"/><rect x="313.9" y="101.1" width="0.55" height="0.55" fill="#a4a4a4"/><rect x="312.7" y="102.0" width="0.55" height="0.55" fill="#a4a4a4"/><rect x="309.0" y="101.6" width="0.55" height="0.55" fill="#a4a4a4"/><rect x="304.4" y="96.6" width="0.55" height="0.55" fill="#a4a4a4"/><rect x="327.5" y="101.7" width="0.55" height="0.55" fill="#a4a4a4"/><rect x="308.4" y="103.3" width="0.55" height="0.55" fill="#a4a4a4"/><rect x="310.2" y="86.1" width="0.55" height="0.55" fill="#a4a4a4"/><rect x="311.6" y="107.6" width="0.55" height="0.55" fill="#a4a4a4"/><rect x="304.6" y="103.6" width="0.5" height="0.5" fill="#bbb"/><rect x="288.9" y="89.9" width="0.5" height="0.5" fill="#bbb"/><rect x="316.2" y="108.4" width="0.5" height="0.5" fill="#bbb"/><rect x="288.6" y="75.4" width="0.5" height="0.5" fill="#bbb"/><rect x="286.2" y="103.9" width="0.5" height="0.5" fill="#bbb"/><rect x="302.5" y="102.8" width="0.5" height="0.5" fill="#bbb"/><rect x="296.7" y="85.8" width="0.5" height="0.5" fill="#bbb"/><rect x="290.9" y="116.8" width="0.5" height="0.5" fill="#bbb"/><rect x="303.1" y="119.5" width="0.5" height="0.5" fill="#bbb"/><rect x="286.5" y="113.3" width="0.5" height="0.5" fill="#bbb"/><rect x="304.6" y="94.7" width="0.5" height="0.5" fill="#bbb"/><rect x="305.7" y="92.4" width="0.5" height="0.5" fill="#bbb"/><rect x="290.4" y="104.7" width="0.5" height="0.5" fill="#bbb"/><rect x="288.0" y="84.5" width="0.5" height="0.5" fill="#bbb"/><rect x="294.9" y="115.7" width="0.5" height="0.5" fill="#bbb"/><rect x="295.1" y="122.7" width="0.5" height="0.5" fill="#bbb"/><rect x="286.1" y="86.6" width="0.5" height="0.5" fill="#bbb"/><rect x="318.6" y="110.6" width="0.5" height="0.5" fill="#bbb"/><rect x="311.3" y="93.4" width="0.5" height="0.5" fill="#bbb"/><rect x="309.7" y="108.6" width="0.5" height="0.5" fill="#bbb"/><rect x="307.8" y="105.4" width="0.5" height="0.5" fill="#bbb"/><rect x="314.5" y="95.9" width="0.5" height="0.5" fill="#bbb"/><rect x="288.4" y="84.3" width="0.5" height="0.5" fill="#bbb"/><rect x="313.9" y="94.7" width="0.5" height="0.5" fill="#bbb"/><rect x="287.5" y="91.8" width="0.5" height="0.5" fill="#bbb"/><rect x="294.7" y="87.2" width="0.5" height="0.5" fill="#bbb"/><rect x="296.5" y="96.2" width="0.5" height="0.5" fill="#bbb"/><rect x="293.4" y="91.6" width="0.5" height="0.5" fill="#bbb"/><rect x="300.4" y="98.5" width="0.5" height="0.5" fill="#bbb"/><rect x="301.4" y="108.5" width="0.5" height="0.5" fill="#bbb"/><rect x="304.1" y="74.3" width="0.5" height="0.5" fill="#bbb"/><rect x="293.6" y="93.9" width="0.5" height="0.5" fill="#bbb"/><rect x="309.3" y="82.9" width="0.5" height="0.5" fill="#bbb"/><rect x="291.4" y="100.9" width="0.5" height="0.5" fill="#bbb"/><rect x="296.0" y="118.9" width="0.5" height="0.5" fill="#bbb"/><rect x="294.7" y="118.5" width="0.5" height="0.5" fill="#bbb"/><rect x="282.4" y="79.6" width="0.5" height="0.5" fill="#bbb"/><rect x="314.6" y="111.1" width="0.5" height="0.5" fill="#bbb"/><rect x="305.9" y="106.7" width="0.5" height="0.5" fill="#bbb"/><rect x="305.8" y="88.0" width="0.5" height="0.5" fill="#bbb"/><rect x="311.4" y="97.5" width="0.5" height="0.5" fill="#bbb"/><rect x="311.8" y="106.2" width="0.5" height="0.5" fill="#bbb"/><rect x="313.5" y="103.1" width="0.5" height="0.5" fill="#bbb"/><rect x="295.3" y="108.4" width="0.5" height="0.5" fill="#bbb"/><rect x="294.9" y="97.4" width="0.5" height="0.5" fill="#bbb"/><rect x="301.2" y="107.0" width="0.5" height="0.5" fill="#bbb"/><rect x="318.2" y="105.6" width="0.5" height="0.5" fill="#bbb"/><rect x="320.6" y="119.9" width="0.5" height="0.5" fill="#bbb"/><rect x="301.6" y="106.9" width="0.5" height="0.5" fill="#bbb"/><rect x="298.3" y="94.8" width="0.5" height="0.5" fill="#bbb"/><rect x="299.2" y="96.0" width="0.5" height="0.5" fill="#bbb"/><rect x="319.7" y="112.5" width="0.5" height="0.5" fill="#bbb"/><rect x="294.6" y="78.2" width="0.5" height="0.5" fill="#bbb"/><rect x="299.4" y="99.2" width="0.5" height="0.5" fill="#bbb"/><rect x="287.0" y="89.1" width="0.5" height="0.5" fill="#bbb"/><rect x="299.6" y="102.9" width="0.5" height="0.5" fill="#bbb"/><rect x="317.3" y="106.9" width="0.5" height="0.5" fill="#bbb"/><rect x="302.0" y="99.8" width="0.5" height="0.5" fill="#bbb"/><rect x="295.8" y="105.4" width="0.5" height="0.5" fill="#bbb"/><rect x="289.4" y="118.5" width="0.5" height="0.5" fill="#bbb"/><rect x="283.3" y="112.9" width="0.5" height="0.5" fill="#bbb"/><rect x="313.2" y="124.8" width="0.5" height="0.5" fill="#bbb"/><rect x="288.7" y="120.3" width="0.5" height="0.5" fill="#bbb"/><rect x="291.4" y="94.4" width="0.5" height="0.5" fill="#bbb"/><rect x="284.1" y="121.2" width="0.5" height="0.5" fill="#bbb"/><rect x="319.8" y="96.7" width="0.5" height="0.5" fill="#bbb"/><rect x="290.9" y="100.3" width="0.5" height="0.5" fill="#bbb"/><rect x="330.1" y="119.1" width="0.5" height="0.5" fill="#bbb"/><rect x="293.5" y="79.9" width="0.5" height="0.5" fill="#bbb"/><rect x="291.9" y="121.6" width="0.5" height="0.5" fill="#bbb"/><rect x="322.4" y="101.3" width="0.5" height="0.5" fill="#bbb"/><rect x="291.7" y="97.9" width="0.5" height="0.5" fill="#bbb"/><rect x="287.0" y="119.9" width="0.5" height="0.5" fill="#bbb"/><rect x="303.5" y="94.3" width="0.5" height="0.5" fill="#bbb"/><rect x="309.4" y="105.1" width="0.5" height="0.5" fill="#bbb"/><rect x="285.9" y="113.7" width="0.5" height="0.5" fill="#bbb"/><rect x="310.1" y="78.2" width="0.5" height="0.5" fill="#bbb"/><rect x="321.9" y="112.0" width="0.5" height="0.5" fill="#bbb"/><path d="M333.00,60.00 C334.25,59.08 336.75,58.33 338.50,58.50 C340.25,58.67 342.25,59.58 343.50,61.00 C344.75,62.42 345.75,64.83 346.00,67.00 C346.25,69.17 345.83,71.83 345.00,74.00 C344.17,76.17 342.50,78.67 341.00,80.00 C339.50,81.33 337.67,82.33 336.00,82.00 C334.33,81.67 332.00,80.00 331.00,78.00 C330.00,76.00 330.00,72.33 330.00,70.00 C330.00,67.67 330.50,65.67 331.00,64.00 C331.50,62.33 331.75,60.92 333.00,60.00 Z" fill="#f8f8f8" fill-opacity="1" stroke="none"/><path d="M333.00,60.00 C334.25,59.08 336.75,58.33 338.50,58.50 C340.25,58.67 342.25,59.58 343.50,61.00 C344.75,62.42 345.75,64.83 346.00,67.00 C346.25,69.17 345.83,71.83 345.00,74.00 C344.17,76.17 342.50,78.67 341.00,80.00 C339.50,81.33 337.67,82.33 336.00,82.00 C334.33,81.67 332.00,80.00 331.00,78.00 C330.00,76.00 330.00,72.33 330.00,70.00 C330.00,67.67 330.50,65.67 331.00,64.00 C331.50,62.33 331.75,60.92 333.00,60.00 Z" transform="translate(340.00,69.00) scale(1.000) translate(-340.00,-69.00)" fill="none" stroke="#cccccc" stroke-width="0.4" vector-effect="non-scaling-stroke"/><path d="M333.00,60.00 C334.25,59.08 336.75,58.33 338.50,58.50 C340.25,58.67 342.25,59.58 343.50,61.00 C344.75,62.42 345.75,64.83 346.00,67.00 C346.25,69.17 345.83,71.83 345.00,74.00 C344.17,76.17 342.50,78.67 341.00,80.00 C339.50,81.33 337.67,82.33 336.00,82.00 C334.33,81.67 332.00,80.00 331.00,78.00 C330.00,76.00 330.00,72.33 330.00,70.00 C330.00,67.67 330.50,65.67 331.00,64.00 C331.50,62.33 331.75,60.92 333.00,60.00 Z" transform="translate(340.00,69.00) scale(0.825) translate(-340.00,-69.00)" fill="none" stroke="#cccccc" stroke-width="0.4" vector-effect="non-scaling-stroke"/><path d="M333.00,60.00 C334.25,59.08 336.75,58.33 338.50,58.50 C340.25,58.67 342.25,59.58 343.50,61.00 C344.75,62.42 345.75,64.83 346.00,67.00 C346.25,69.17 345.83,71.83 345.00,74.00 C344.17,76.17 342.50,78.67 341.00,80.00 C339.50,81.33 337.67,82.33 336.00,82.00 C334.33,81.67 332.00,80.00 331.00,78.00 C330.00,76.00 330.00,72.33 330.00,70.00 C330.00,67.67 330.50,65.67 331.00,64.00 C331.50,62.33 331.75,60.92 333.00,60.00 Z" transform="translate(340.00,69.00) scale(0.650) translate(-340.00,-69.00)" fill="none" stroke="#cccccc" stroke-width="0.4" vector-effect="non-scaling-stroke"/><path d="M333.00,60.00 C334.25,59.08 336.75,58.33 338.50,58.50 C340.25,58.67 342.25,59.58 343.50,61.00 C344.75,62.42 345.75,64.83 346.00,67.00 C346.25,69.17 345.83,71.83 345.00,74.00 C344.17,76.17 342.50,78.67 341.00,80.00 C339.50,81.33 337.67,82.33 336.00,82.00 C334.33,81.67 332.00,80.00 331.00,78.00 C330.00,76.00 330.00,72.33 330.00,70.00 C330.00,67.67 330.50,65.67 331.00,64.00 C331.50,62.33 331.75,60.92 333.00,60.00 Z" transform="translate(340.00,69.00) scale(0.475) translate(-340.00,-69.00)" fill="none" stroke="#cccccc" stroke-width="0.4" vector-effect="non-scaling-stroke"/><path d="M333.00,60.00 C334.25,59.08 336.75,58.33 338.50,58.50 C340.25,58.67 342.25,59.58 343.50,61.00 C344.75,62.42 345.75,64.83 346.00,67.00 C346.25,69.17 345.83,71.83 345.00,74.00 C344.17,76.17 342.50,78.67 341.00,80.00 C339.50,81.33 337.67,82.33 336.00,82.00 C334.33,81.67 332.00,80.00 331.00,78.00 C330.00,76.00 330.00,72.33 330.00,70.00 C330.00,67.67 330.50,65.67 331.00,64.00 C331.50,62.33 331.75,60.92 333.00,60.00 Z" transform="translate(340.00,69.00) scale(0.300) translate(-340.00,-69.00)" fill="none" stroke="#cccccc" stroke-width="0.4" vector-effect="non-scaling-stroke"/><path d="M290.10,81.90 C291.82,80.80 294.33,79.40 296.70,79.10 C299.07,78.80 302.42,79.32 304.30,80.10 C306.18,80.88 307.07,81.45 308.00,83.80 C308.93,86.15 308.95,91.22 309.90,94.20 C310.85,97.18 312.28,99.97 313.70,101.70 C315.12,103.43 317.15,103.33 318.40,104.60 C319.65,105.87 320.88,107.27 321.20,109.30 C321.52,111.33 321.08,114.60 320.30,116.80 C319.52,119.00 317.92,121.08 316.50,122.50 C315.08,123.92 314.78,124.73 311.80,125.30 C308.82,125.87 302.37,125.90 298.60,125.90 C294.83,125.90 291.55,126.50 289.20,125.30 C286.85,124.10 285.60,121.68 284.50,118.70 C283.40,115.72 282.77,111.48 282.60,107.40 C282.43,103.32 282.87,97.82 283.50,94.20 C284.13,90.58 285.30,87.75 286.40,85.70 C287.50,83.65 288.38,83.00 290.10,81.90 Z" fill="#f8f8f8" fill-opacity="1" stroke="none"/><path d="M290.10,81.90 C291.82,80.80 294.33,79.40 296.70,79.10 C299.07,78.80 302.42,79.32 304.30,80.10 C306.18,80.88 307.07,81.45 308.00,83.80 C308.93,86.15 308.95,91.22 309.90,94.20 C310.85,97.18 312.28,99.97 313.70,101.70 C315.12,103.43 317.15,103.33 318.40,104.60 C319.65,105.87 320.88,107.27 321.20,109.30 C321.52,111.33 321.08,114.60 320.30,116.80 C319.52,119.00 317.92,121.08 316.50,122.50 C315.08,123.92 314.78,124.73 311.80,125.30 C308.82,125.87 302.37,125.90 298.60,125.90 C294.83,125.90 291.55,126.50 289.20,125.30 C286.85,124.10 285.60,121.68 284.50,118.70 C283.40,115.72 282.77,111.48 282.60,107.40 C282.43,103.32 282.87,97.82 283.50,94.20 C284.13,90.58 285.30,87.75 286.40,85.70 C287.50,83.65 288.38,83.00 290.10,81.90 Z" transform="translate(293.00,97.00) scale(1.000) translate(-293.00,-97.00)" fill="none" stroke="#bcbcbc" stroke-width="0.4" vector-effect="non-scaling-stroke"/><path d="M290.10,81.90 C291.82,80.80 294.33,79.40 296.70,79.10 C299.07,78.80 302.42,79.32 304.30,80.10 C306.18,80.88 307.07,81.45 308.00,83.80 C308.93,86.15 308.95,91.22 309.90,94.20 C310.85,97.18 312.28,99.97 313.70,101.70 C315.12,103.43 317.15,103.33 318.40,104.60 C319.65,105.87 320.88,107.27 321.20,109.30 C321.52,111.33 321.08,114.60 320.30,116.80 C319.52,119.00 317.92,121.08 316.50,122.50 C315.08,123.92 314.78,124.73 311.80,125.30 C308.82,125.87 302.37,125.90 298.60,125.90 C294.83,125.90 291.55,126.50 289.20,125.30 C286.85,124.10 285.60,121.68 284.50,118.70 C283.40,115.72 282.77,111.48 282.60,107.40 C282.43,103.32 282.87,97.82 283.50,94.20 C284.13,90.58 285.30,87.75 286.40,85.70 C287.50,83.65 288.38,83.00 290.10,81.90 Z" transform="translate(293.00,97.00) scale(0.912) translate(-293.00,-97.00)" fill="none" stroke="#bcbcbc" stroke-width="0.4" vector-effect="non-scaling-stroke"/><path d="M290.10,81.90 C291.82,80.80 294.33,79.40 296.70,79.10 C299.07,78.80 302.42,79.32 304.30,80.10 C306.18,80.88 307.07,81.45 308.00,83.80 C308.93,86.15 308.95,91.22 309.90,94.20 C310.85,97.18 312.28,99.97 313.70,101.70 C315.12,103.43 317.15,103.33 318.40,104.60 C319.65,105.87 320.88,107.27 321.20,109.30 C321.52,111.33 321.08,114.60 320.30,116.80 C319.52,119.00 317.92,121.08 316.50,122.50 C315.08,123.92 314.78,124.73 311.80,125.30 C308.82,125.87 302.37,125.90 298.60,125.90 C294.83,125.90 291.55,126.50 289.20,125.30 C286.85,124.10 285.60,121.68 284.50,118.70 C283.40,115.72 282.77,111.48 282.60,107.40 C282.43,103.32 282.87,97.82 283.50,94.20 C284.13,90.58 285.30,87.75 286.40,85.70 C287.50,83.65 288.38,83.00 290.10,81.90 Z" transform="translate(293.00,97.00) scale(0.824) translate(-293.00,-97.00)" fill="none" stroke="#bcbcbc" stroke-width="0.4" vector-effect="non-scaling-stroke"/><path d="M290.10,81.90 C291.82,80.80 294.33,79.40 296.70,79.10 C299.07,78.80 302.42,79.32 304.30,80.10 C306.18,80.88 307.07,81.45 308.00,83.80 C308.93,86.15 308.95,91.22 309.90,94.20 C310.85,97.18 312.28,99.97 313.70,101.70 C315.12,103.43 317.15,103.33 318.40,104.60 C319.65,105.87 320.88,107.27 321.20,109.30 C321.52,111.33 321.08,114.60 320.30,116.80 C319.52,119.00 317.92,121.08 316.50,122.50 C315.08,123.92 314.78,124.73 311.80,125.30 C308.82,125.87 302.37,125.90 298.60,125.90 C294.83,125.90 291.55,126.50 289.20,125.30 C286.85,124.10 285.60,121.68 284.50,118.70 C283.40,115.72 282.77,111.48 282.60,107.40 C282.43,103.32 282.87,97.82 283.50,94.20 C284.13,90.58 285.30,87.75 286.40,85.70 C287.50,83.65 288.38,83.00 290.10,81.90 Z" transform="translate(293.00,97.00) scale(0.736) translate(-293.00,-97.00)" fill="none" stroke="#bcbcbc" stroke-width="0.4" vector-effect="non-scaling-stroke"/><path d="M290.10,81.90 C291.82,80.80 294.33,79.40 296.70,79.10 C299.07,78.80 302.42,79.32 304.30,80.10 C306.18,80.88 307.07,81.45 308.00,83.80 C308.93,86.15 308.95,91.22 309.90,94.20 C310.85,97.18 312.28,99.97 313.70,101.70 C315.12,103.43 317.15,103.33 318.40,104.60 C319.65,105.87 320.88,107.27 321.20,109.30 C321.52,111.33 321.08,114.60 320.30,116.80 C319.52,119.00 317.92,121.08 316.50,122.50 C315.08,123.92 314.78,124.73 311.80,125.30 C308.82,125.87 302.37,125.90 298.60,125.90 C294.83,125.90 291.55,126.50 289.20,125.30 C286.85,124.10 285.60,121.68 284.50,118.70 C283.40,115.72 282.77,111.48 282.60,107.40 C282.43,103.32 282.87,97.82 283.50,94.20 C284.13,90.58 285.30,87.75 286.40,85.70 C287.50,83.65 288.38,83.00 290.10,81.90 Z" transform="translate(293.00,97.00) scale(0.648) translate(-293.00,-97.00)" fill="none" stroke="#bcbcbc" stroke-width="0.4" vector-effect="non-scaling-stroke"/><path d="M290.10,81.90 C291.82,80.80 294.33,79.40 296.70,79.10 C299.07,78.80 302.42,79.32 304.30,80.10 C306.18,80.88 307.07,81.45 308.00,83.80 C308.93,86.15 308.95,91.22 309.90,94.20 C310.85,97.18 312.28,99.97 313.70,101.70 C315.12,103.43 317.15,103.33 318.40,104.60 C319.65,105.87 320.88,107.27 321.20,109.30 C321.52,111.33 321.08,114.60 320.30,116.80 C319.52,119.00 317.92,121.08 316.50,122.50 C315.08,123.92 314.78,124.73 311.80,125.30 C308.82,125.87 302.37,125.90 298.60,125.90 C294.83,125.90 291.55,126.50 289.20,125.30 C286.85,124.10 285.60,121.68 284.50,118.70 C283.40,115.72 282.77,111.48 282.60,107.40 C282.43,103.32 282.87,97.82 283.50,94.20 C284.13,90.58 285.30,87.75 286.40,85.70 C287.50,83.65 288.38,83.00 290.10,81.90 Z" transform="translate(293.00,97.00) scale(0.560) translate(-293.00,-97.00)" fill="none" stroke="#bcbcbc" stroke-width="0.4" vector-effect="non-scaling-stroke"/><path d="M290.10,81.90 C291.82,80.80 294.33,79.40 296.70,79.10 C299.07,78.80 302.42,79.32 304.30,80.10 C306.18,80.88 307.07,81.45 308.00,83.80 C308.93,86.15 308.95,91.22 309.90,94.20 C310.85,97.18 312.28,99.97 313.70,101.70 C315.12,103.43 317.15,103.33 318.40,104.60 C319.65,105.87 320.88,107.27 321.20,109.30 C321.52,111.33 321.08,114.60 320.30,116.80 C319.52,119.00 317.92,121.08 316.50,122.50 C315.08,123.92 314.78,124.73 311.80,125.30 C308.82,125.87 302.37,125.90 298.60,125.90 C294.83,125.90 291.55,126.50 289.20,125.30 C286.85,124.10 285.60,121.68 284.50,118.70 C283.40,115.72 282.77,111.48 282.60,107.40 C282.43,103.32 282.87,97.82 283.50,94.20 C284.13,90.58 285.30,87.75 286.40,85.70 C287.50,83.65 288.38,83.00 290.10,81.90 Z" transform="translate(293.00,97.00) scale(0.472) translate(-293.00,-97.00)" fill="none" stroke="#bcbcbc" stroke-width="0.4" vector-effect="non-scaling-stroke"/><path d="M290.10,81.90 C291.82,80.80 294.33,79.40 296.70,79.10 C299.07,78.80 302.42,79.32 304.30,80.10 C306.18,80.88 307.07,81.45 308.00,83.80 C308.93,86.15 308.95,91.22 309.90,94.20 C310.85,97.18 312.28,99.97 313.70,101.70 C315.12,103.43 317.15,103.33 318.40,104.60 C319.65,105.87 320.88,107.27 321.20,109.30 C321.52,111.33 321.08,114.60 320.30,116.80 C319.52,119.00 317.92,121.08 316.50,122.50 C315.08,123.92 314.78,124.73 311.80,125.30 C308.82,125.87 302.37,125.90 298.60,125.90 C294.83,125.90 291.55,126.50 289.20,125.30 C286.85,124.10 285.60,121.68 284.50,118.70 C283.40,115.72 282.77,111.48 282.60,107.40 C282.43,103.32 282.87,97.82 283.50,94.20 C284.13,90.58 285.30,87.75 286.40,85.70 C287.50,83.65 288.38,83.00 290.10,81.90 Z" transform="translate(293.00,97.00) scale(0.384) translate(-293.00,-97.00)" fill="none" stroke="#bcbcbc" stroke-width="0.4" vector-effect="non-scaling-stroke"/><path d="M290.10,81.90 C291.82,80.80 294.33,79.40 296.70,79.10 C299.07,78.80 302.42,79.32 304.30,80.10 C306.18,80.88 307.07,81.45 308.00,83.80 C308.93,86.15 308.95,91.22 309.90,94.20 C310.85,97.18 312.28,99.97 313.70,101.70 C315.12,103.43 317.15,103.33 318.40,104.60 C319.65,105.87 320.88,107.27 321.20,109.30 C321.52,111.33 321.08,114.60 320.30,116.80 C319.52,119.00 317.92,121.08 316.50,122.50 C315.08,123.92 314.78,124.73 311.80,125.30 C308.82,125.87 302.37,125.90 298.60,125.90 C294.83,125.90 291.55,126.50 289.20,125.30 C286.85,124.10 285.60,121.68 284.50,118.70 C283.40,115.72 282.77,111.48 282.60,107.40 C282.43,103.32 282.87,97.82 283.50,94.20 C284.13,90.58 285.30,87.75 286.40,85.70 C287.50,83.65 288.38,83.00 290.10,81.90 Z" transform="translate(293.00,97.00) scale(0.296) translate(-293.00,-97.00)" fill="none" stroke="#bcbcbc" stroke-width="0.4" vector-effect="non-scaling-stroke"/><path d="M290.10,81.90 C291.82,80.80 294.33,79.40 296.70,79.10 C299.07,78.80 302.42,79.32 304.30,80.10 C306.18,80.88 307.07,81.45 308.00,83.80 C308.93,86.15 308.95,91.22 309.90,94.20 C310.85,97.18 312.28,99.97 313.70,101.70 C315.12,103.43 317.15,103.33 318.40,104.60 C319.65,105.87 320.88,107.27 321.20,109.30 C321.52,111.33 321.08,114.60 320.30,116.80 C319.52,119.00 317.92,121.08 316.50,122.50 C315.08,123.92 314.78,124.73 311.80,125.30 C308.82,125.87 302.37,125.90 298.60,125.90 C294.83,125.90 291.55,126.50 289.20,125.30 C286.85,124.10 285.60,121.68 284.50,118.70 C283.40,115.72 282.77,111.48 282.60,107.40 C282.43,103.32 282.87,97.82 283.50,94.20 C284.13,90.58 285.30,87.75 286.40,85.70 C287.50,83.65 288.38,83.00 290.10,81.90 Z" transform="translate(293.00,97.00) scale(0.208) translate(-293.00,-97.00)" fill="none" stroke="#bcbcbc" stroke-width="0.4" vector-effect="non-scaling-stroke"/><path d="M290.10,81.90 C291.82,80.80 294.33,79.40 296.70,79.10 C299.07,78.80 302.42,79.32 304.30,80.10 C306.18,80.88 307.07,81.45 308.00,83.80 C308.93,86.15 308.95,91.22 309.90,94.20 C310.85,97.18 312.28,99.97 313.70,101.70 C315.12,103.43 317.15,103.33 318.40,104.60 C319.65,105.87 320.88,107.27 321.20,109.30 C321.52,111.33 321.08,114.60 320.30,116.80 C319.52,119.00 317.92,121.08 316.50,122.50 C315.08,123.92 314.78,124.73 311.80,125.30 C308.82,125.87 302.37,125.90 298.60,125.90 C294.83,125.90 291.55,126.50 289.20,125.30 C286.85,124.10 285.60,121.68 284.50,118.70 C283.40,115.72 282.77,111.48 282.60,107.40 C282.43,103.32 282.87,97.82 283.50,94.20 C284.13,90.58 285.30,87.75 286.40,85.70 C287.50,83.65 288.38,83.00 290.10,81.90 Z" transform="translate(293.00,97.00) scale(0.120) translate(-293.00,-97.00)" fill="none" stroke="#bcbcbc" stroke-width="0.4" vector-effect="non-scaling-stroke"/><path d="M290.10,81.90 C291.82,80.80 294.33,79.40 296.70,79.10 C299.07,78.80 302.42,79.32 304.30,80.10 C306.18,80.88 307.07,81.45 308.00,83.80 C308.93,86.15 308.95,91.22 309.90,94.20 C310.85,97.18 312.28,99.97 313.70,101.70 C315.12,103.43 317.15,103.33 318.40,104.60 C319.65,105.87 320.88,107.27 321.20,109.30 C321.52,111.33 321.08,114.60 320.30,116.80 C319.52,119.00 317.92,121.08 316.50,122.50 C315.08,123.92 314.78,124.73 311.80,125.30 C308.82,125.87 302.37,125.90 298.60,125.90 C294.83,125.90 291.55,126.50 289.20,125.30 C286.85,124.10 285.60,121.68 284.50,118.70 C283.40,115.72 282.77,111.48 282.60,107.40 C282.43,103.32 282.87,97.82 283.50,94.20 C284.13,90.58 285.30,87.75 286.40,85.70 C287.50,83.65 288.38,83.00 290.10,81.90 Z" transform="translate(308.00,114.00) scale(1.000) translate(-308.00,-114.00)" fill="none" stroke="#d0d0d0" stroke-width="0.3" vector-effect="non-scaling-stroke"/><path d="M290.10,81.90 C291.82,80.80 294.33,79.40 296.70,79.10 C299.07,78.80 302.42,79.32 304.30,80.10 C306.18,80.88 307.07,81.45 308.00,83.80 C308.93,86.15 308.95,91.22 309.90,94.20 C310.85,97.18 312.28,99.97 313.70,101.70 C315.12,103.43 317.15,103.33 318.40,104.60 C319.65,105.87 320.88,107.27 321.20,109.30 C321.52,111.33 321.08,114.60 320.30,116.80 C319.52,119.00 317.92,121.08 316.50,122.50 C315.08,123.92 314.78,124.73 311.80,125.30 C308.82,125.87 302.37,125.90 298.60,125.90 C294.83,125.90 291.55,126.50 289.20,125.30 C286.85,124.10 285.60,121.68 284.50,118.70 C283.40,115.72 282.77,111.48 282.60,107.40 C282.43,103.32 282.87,97.82 283.50,94.20 C284.13,90.58 285.30,87.75 286.40,85.70 C287.50,83.65 288.38,83.00 290.10,81.90 Z" transform="translate(308.00,114.00) scale(0.767) translate(-308.00,-114.00)" fill="none" stroke="#d0d0d0" stroke-width="0.3" vector-effect="non-scaling-stroke"/><path d="M290.10,81.90 C291.82,80.80 294.33,79.40 296.70,79.10 C299.07,78.80 302.42,79.32 304.30,80.10 C306.18,80.88 307.07,81.45 308.00,83.80 C308.93,86.15 308.95,91.22 309.90,94.20 C310.85,97.18 312.28,99.97 313.70,101.70 C315.12,103.43 317.15,103.33 318.40,104.60 C319.65,105.87 320.88,107.27 321.20,109.30 C321.52,111.33 321.08,114.60 320.30,116.80 C319.52,119.00 317.92,121.08 316.50,122.50 C315.08,123.92 314.78,124.73 311.80,125.30 C308.82,125.87 302.37,125.90 298.60,125.90 C294.83,125.90 291.55,126.50 289.20,125.30 C286.85,124.10 285.60,121.68 284.50,118.70 C283.40,115.72 282.77,111.48 282.60,107.40 C282.43,103.32 282.87,97.82 283.50,94.20 C284.13,90.58 285.30,87.75 286.40,85.70 C287.50,83.65 288.38,83.00 290.10,81.90 Z" transform="translate(308.00,114.00) scale(0.533) translate(-308.00,-114.00)" fill="none" stroke="#d0d0d0" stroke-width="0.3" vector-effect="non-scaling-stroke"/><path d="M290.10,81.90 C291.82,80.80 294.33,79.40 296.70,79.10 C299.07,78.80 302.42,79.32 304.30,80.10 C306.18,80.88 307.07,81.45 308.00,83.80 C308.93,86.15 308.95,91.22 309.90,94.20 C310.85,97.18 312.28,99.97 313.70,101.70 C315.12,103.43 317.15,103.33 318.40,104.60 C319.65,105.87 320.88,107.27 321.20,109.30 C321.52,111.33 321.08,114.60 320.30,116.80 C319.52,119.00 317.92,121.08 316.50,122.50 C315.08,123.92 314.78,124.73 311.80,125.30 C308.82,125.87 302.37,125.90 298.60,125.90 C294.83,125.90 291.55,126.50 289.20,125.30 C286.85,124.10 285.60,121.68 284.50,118.70 C283.40,115.72 282.77,111.48 282.60,107.40 C282.43,103.32 282.87,97.82 283.50,94.20 C284.13,90.58 285.30,87.75 286.40,85.70 C287.50,83.65 288.38,83.00 290.10,81.90 Z" transform="translate(308.00,114.00) scale(0.300) translate(-308.00,-114.00)" fill="none" stroke="#d0d0d0" stroke-width="0.3" vector-effect="non-scaling-stroke"/><ellipse cx="293.00" cy="96.50" rx="1.60" ry="4.20" transform="rotate(-10 293.00 96.50)" fill="#fff"/><radialGradient id="gcr" cx="50%" cy="40%" r="60%"><stop offset="0" stop-color="#b8485a"/><stop offset="0.7" stop-color="#cc6670"/><stop offset="1" stop-color="#e3a3a3"/></radialGradient><radialGradient id="gcb" cx="52%" cy="50%" r="55%"><stop offset="0" stop-color="#54408f"/><stop offset="0.55" stop-color="#5a52a4"/><stop offset="1" stop-color="#7a88c0"/></radialGradient><g filter="url(#blur05)"><circle cx="325.3" cy="81.4" r="14.2" fill="url(#gcr)" fill-opacity="0.92"/><circle cx="325.3" cy="81.4" r="14.0" fill="none" stroke="#b02045" stroke-opacity="0.35" stroke-width="0.4"/><circle cx="325.3" cy="81.0" r="12.5" fill="none" stroke="#b02045" stroke-opacity="0.35" stroke-width="0.4"/><circle cx="325.3" cy="80.6" r="10.9" fill="none" stroke="#b02045" stroke-opacity="0.35" stroke-width="0.4"/><circle cx="325.3" cy="80.2" r="9.4" fill="none" stroke="#b02045" stroke-opacity="0.35" stroke-width="0.4"/><circle cx="325.3" cy="79.8" r="7.8" fill="none" stroke="#b02045" stroke-opacity="0.35" stroke-width="0.4"/><circle cx="325.3" cy="79.4" r="6.3" fill="none" stroke="#b02045" stroke-opacity="0.35" stroke-width="0.4"/><circle cx="325.3" cy="79.0" r="4.8" fill="none" stroke="#b02045" stroke-opacity="0.35" stroke-width="0.4"/><ellipse cx="322.80" cy="75.20" rx="13.80" ry="11.20" transform="rotate(-8 322.80 75.20)" fill="url(#gcb)" fill-opacity="0.9"/><ellipse cx="322.80" cy="75.20" rx="13.60" ry="11.00" transform="rotate(-8 322.80 75.20)" fill="none" stroke="#3a3f90" stroke-opacity="0.4" stroke-width="0.4"/><ellipse cx="322.95" cy="75.10" rx="12.10" ry="9.79" transform="rotate(-8 322.95 75.10)" fill="none" stroke="#3a3f90" stroke-opacity="0.4" stroke-width="0.4"/><ellipse cx="323.10" cy="75.00" rx="10.61" ry="8.58" transform="rotate(-8 323.10 75.00)" fill="none" stroke="#3a3f90" stroke-opacity="0.4" stroke-width="0.4"/><ellipse cx="323.25" cy="74.90" rx="9.11" ry="7.37" transform="rotate(-8 323.25 74.90)" fill="none" stroke="#3a3f90" stroke-opacity="0.4" stroke-width="0.4"/><ellipse cx="323.40" cy="74.80" rx="7.62" ry="6.16" transform="rotate(-8 323.40 74.80)" fill="none" stroke="#3a3f90" stroke-opacity="0.4" stroke-width="0.4"/><ellipse cx="323.55" cy="74.70" rx="6.12" ry="4.95" transform="rotate(-8 323.55 74.70)" fill="none" stroke="#3a3f90" stroke-opacity="0.4" stroke-width="0.4"/><ellipse cx="323.70" cy="74.60" rx="4.62" ry="3.74" transform="rotate(-8 323.70 74.60)" fill="none" stroke="#3a3f90" stroke-opacity="0.4" stroke-width="0.4"/><ellipse cx="323.85" cy="74.50" rx="3.13" ry="2.53" transform="rotate(-8 323.85 74.50)" fill="none" stroke="#3a3f90" stroke-opacity="0.4" stroke-width="0.4"/><circle cx="325.2" cy="73.8" r="1.5" fill="#e0603a" fill-opacity="0.9"/><circle cx="327.4" cy="81" r="1.2" fill="#8aa8e0" fill-opacity="0.8"/></g><rect x="278.40" y="34.20" width="93.40" height="92.30" fill="none" stroke="#111" stroke-width="1.3" /><text x="282.60" y="45.60" font-size="8.0" text-anchor="start" fill="#c4c4c4" stroke="#c4c4c4" stroke-width="0.1" font-weight="normal" >TER119<tspan dy="-2.6" font-size="5.5">+</tspan></text><text x="282.60" y="55.00" font-size="8.0" text-anchor="start" fill="#b5173e" stroke="#b5173e" stroke-width="0.1" font-weight="normal" >MMP Low</text><text x="282.60" y="64.40" font-size="8.0" text-anchor="start" fill="#3d5a96" stroke="#3d5a96" stroke-width="0.1" font-weight="normal" >MMP High</text><path d="M273.80,94.50 L273.80,130.00 L322.70,130.00" fill="none" stroke="#111" stroke-width="1.1"/><path d="M273.80,91.50 l-2.4,4.9 l4.8,0 z" fill="#111"/><path d="M325.70,130.00 l-4.9,-2.4 l0,4.8 z" fill="#111"/><text transform="translate(268.80,110.40) rotate(-90) scale(0.579,1)" font-size="10.4" text-anchor="middle" fill="#0a0a0a" stroke="#0a0a0a" stroke-width="0.34" font-weight="normal">CD44</text><text transform="translate(300.20,141.30) rotate(0) scale(0.553,1)" font-size="10.4" text-anchor="middle" fill="#0a0a0a" stroke="#0a0a0a" stroke-width="0.34" font-weight="normal">FSC</text><line x1="420.50" y1="41.00" x2="420.50" y2="123.90" stroke="#111" stroke-width="1.15" /><line x1="420.00" y1="123.40" x2="482.50" y2="123.40" stroke="#111" stroke-width="1.15" /><line x1="417.50" y1="123.40" x2="420.50" y2="123.40" stroke="#111" stroke-width="1.15" /><text x="414.80" y="126.40" font-size="8.3" text-anchor="end" fill="#0a0a0a" stroke="#0a0a0a" stroke-width="0.22" font-weight="normal" >0</text><line x1="417.50" y1="103.48" x2="420.50" y2="103.48" stroke="#111" stroke-width="1.15" /><text x="414.80" y="106.48" font-size="8.3" text-anchor="end" fill="#0a0a0a" stroke="#0a0a0a" stroke-width="0.22" font-weight="normal" >50</text><line x1="417.50" y1="83.55" x2="420.50" y2="83.55" stroke="#111" stroke-width="1.15" /><text x="414.80" y="86.55" font-size="8.3" text-anchor="end" fill="#0a0a0a" stroke="#0a0a0a" stroke-width="0.22" font-weight="normal" >100</text><line x1="417.50" y1="63.62" x2="420.50" y2="63.62" stroke="#111" stroke-width="1.15" /><text x="414.80" y="66.62" font-size="8.3" text-anchor="end" fill="#0a0a0a" stroke="#0a0a0a" stroke-width="0.22" font-weight="normal" >150</text><line x1="417.50" y1="43.70" x2="420.50" y2="43.70" stroke="#111" stroke-width="1.15" /><text x="414.80" y="46.70" font-size="8.3" text-anchor="end" fill="#0a0a0a" stroke="#0a0a0a" stroke-width="0.22" font-weight="normal" >200</text><rect x="425.90" y="85.60" width="20.10" height="37.30" fill="#a50029" stroke="none" stroke-width="1" /><rect x="457.00" y="63.10" width="20.40" height="59.80" fill="#2f4b7d" stroke="none" stroke-width="1" /><line x1="436.00" y1="82.50" x2="436.00" y2="85.60" stroke="#222" stroke-width="0.9" /><line x1="431.00" y1="82.50" x2="441.00" y2="82.50" stroke="#222" stroke-width="0.9" /><line x1="467.20" y1="60.00" x2="467.20" y2="63.10" stroke="#222" stroke-width="0.9" /><line x1="462.20" y1="60.00" x2="472.20" y2="60.00" stroke="#222" stroke-width="0.9" /><line x1="436.00" y1="123.40" x2="436.00" y2="126.40" stroke="#111" stroke-width="1.15" /><line x1="467.20" y1="123.40" x2="467.20" y2="126.40" stroke="#111" stroke-width="1.15" /><line x1="435.00" y1="49.40" x2="467.00" y2="49.40" stroke="#111" stroke-width="0.9" /><text x="451.00" y="48.60" font-size="7" text-anchor="middle" fill="#0a0a0a" stroke="#0a0a0a" stroke-width="0.22" font-weight="normal" >***</text><text x="393.80" y="137.00" font-size="8.3" text-anchor="start" fill="#0a0a0a" stroke="#0a0a0a" stroke-width="0.22" font-weight="normal" >MMP:</text><text x="436.00" y="137.00" font-size="8.3" text-anchor="middle" fill="#0a0a0a" stroke="#0a0a0a" stroke-width="0.22" font-weight="normal" >Low</text><text x="467.20" y="137.00" font-size="8.3" text-anchor="middle" fill="#0a0a0a" stroke="#0a0a0a" stroke-width="0.22" font-weight="normal" >High</text><text transform="translate(395.20,82.30) rotate(-90) scale(0.633,1)" font-size="10.4" text-anchor="middle" fill="#0a0a0a" stroke="#0a0a0a" stroke-width="0.34" font-weight="normal">CD44 (geometric mean)</text>
<text transform="translate(7.50,163.00) scale(1.1,1)" font-size="10.5" fill="#000" stroke="#000" stroke-width="0.12" font-weight="bold">D</text><line x1="31.40" y1="172.00" x2="31.40" y2="254.50" stroke="#111" stroke-width="1.15" /><line x1="30.90" y1="254.00" x2="139.30" y2="254.00" stroke="#111" stroke-width="1.15" /><line x1="28.40" y1="254.00" x2="31.40" y2="254.00" stroke="#111" stroke-width="1.15" /><text x="25.80" y="256.90" font-size="7.9" text-anchor="end" fill="#0a0a0a" stroke="#0a0a0a" stroke-width="0.22" font-weight="normal" >0</text><line x1="28.40" y1="238.10" x2="31.40" y2="238.10" stroke="#111" stroke-width="1.15" /><text x="25.80" y="241.00" font-size="7.9" text-anchor="end" fill="#0a0a0a" stroke="#0a0a0a" stroke-width="0.22" font-weight="normal" >1</text><line x1="28.40" y1="222.20" x2="31.40" y2="222.20" stroke="#111" stroke-width="1.15" /><text x="25.80" y="225.10" font-size="7.9" text-anchor="end" fill="#0a0a0a" stroke="#0a0a0a" stroke-width="0.22" font-weight="normal" >2</text><line x1="28.40" y1="206.30" x2="31.40" y2="206.30" stroke="#111" stroke-width="1.15" /><text x="25.80" y="209.20" font-size="7.9" text-anchor="end" fill="#0a0a0a" stroke="#0a0a0a" stroke-width="0.22" font-weight="normal" >3</text><line x1="28.40" y1="190.40" x2="31.40" y2="190.40" stroke="#111" stroke-width="1.15" /><text x="25.80" y="193.30" font-size="7.9" text-anchor="end" fill="#0a0a0a" stroke="#0a0a0a" stroke-width="0.22" font-weight="normal" >4</text><line x1="28.40" y1="174.50" x2="31.40" y2="174.50" stroke="#111" stroke-width="1.15" /><text x="25.80" y="177.40" font-size="7.9" text-anchor="end" fill="#0a0a0a" stroke="#0a0a0a" stroke-width="0.22" font-weight="normal" >5</text><line x1="31.40" y1="254.00" x2="31.40" y2="257.00" stroke="#111" stroke-width="1.15" /><text x="31.40" y="267.30" font-size="8.0" text-anchor="middle" fill="#0a0a0a" stroke="#0a0a0a" stroke-width="0.22" font-weight="normal" >0</text><line x1="57.62" y1="254.00" x2="57.62" y2="257.00" stroke="#111" stroke-width="1.15" /><text x="57.62" y="267.30" font-size="8.0" text-anchor="middle" fill="#0a0a0a" stroke="#0a0a0a" stroke-width="0.22" font-weight="normal" >5</text><line x1="83.85" y1="254.00" x2="83.85" y2="257.00" stroke="#111" stroke-width="1.15" /><text x="83.85" y="267.30" font-size="8.0" text-anchor="middle" fill="#0a0a0a" stroke="#0a0a0a" stroke-width="0.22" font-weight="normal" >10</text><line x1="110.07" y1="254.00" x2="110.07" y2="257.00" stroke="#111" stroke-width="1.15" /><text x="110.07" y="267.30" font-size="8.0" text-anchor="middle" fill="#0a0a0a" stroke="#0a0a0a" stroke-width="0.22" font-weight="normal" >15</text><line x1="136.30" y1="254.00" x2="136.30" y2="257.00" stroke="#111" stroke-width="1.15" /><text x="136.30" y="267.30" font-size="8.0" text-anchor="middle" fill="#0a0a0a" stroke="#0a0a0a" stroke-width="0.22" font-weight="normal" >20</text><line x1="47.13" y1="234.12" x2="47.13" y2="240.49" stroke="#222" stroke-width="0.95" /><line x1="45.23" y1="234.12" x2="49.03" y2="234.12" stroke="#222" stroke-width="0.95" /><line x1="45.23" y1="240.49" x2="49.03" y2="240.49" stroke="#222" stroke-width="0.95" /><line x1="57.62" y1="234.12" x2="57.62" y2="240.49" stroke="#222" stroke-width="0.95" /><line x1="55.73" y1="234.12" x2="59.52" y2="234.12" stroke="#222" stroke-width="0.95" /><line x1="55.73" y1="240.49" x2="59.52" y2="240.49" stroke="#222" stroke-width="0.95" /><line x1="125.81" y1="227.76" x2="125.81" y2="246.84" stroke="#222" stroke-width="0.95" /><line x1="123.91" y1="227.76" x2="127.71" y2="227.76" stroke="#222" stroke-width="0.95" /><line x1="123.91" y1="246.84" x2="127.71" y2="246.84" stroke="#222" stroke-width="0.95" /><line x1="47.13" y1="215.04" x2="47.13" y2="226.18" stroke="#222" stroke-width="0.95" /><line x1="45.23" y1="215.04" x2="49.03" y2="215.04" stroke="#222" stroke-width="0.95" /><line x1="45.23" y1="226.18" x2="49.03" y2="226.18" stroke="#222" stroke-width="0.95" /><line x1="57.62" y1="209.48" x2="57.62" y2="217.43" stroke="#222" stroke-width="0.95" /><line x1="55.73" y1="209.48" x2="59.52" y2="209.48" stroke="#222" stroke-width="0.95" /><line x1="55.73" y1="217.43" x2="59.52" y2="217.43" stroke="#222" stroke-width="0.95" /><line x1="125.81" y1="188.81" x2="125.81" y2="223.00" stroke="#222" stroke-width="0.95" /><line x1="123.91" y1="188.81" x2="127.71" y2="188.81" stroke="#222" stroke-width="0.95" /><line x1="123.91" y1="223.00" x2="127.71" y2="223.00" stroke="#222" stroke-width="0.95" /><polyline points="31.40,238.10 47.13,237.31 57.62,237.31 125.81,237.62" fill="none" stroke="#b5173e" stroke-width="1"/><polyline points="31.40,238.10 47.13,220.61 57.62,213.46 125.81,206.30" fill="none" stroke="#3d5a96" stroke-width="1"/><circle cx="47.13" cy="237.31" r="1.5" fill="#a50029"/><circle cx="57.62" cy="237.31" r="1.5" fill="#a50029"/><circle cx="125.81" cy="237.62" r="1.5" fill="#a50029"/><rect x="45.63" y="219.11" width="3.00" height="3.00" fill="#2f4b7d" stroke="none" stroke-width="1" /><rect x="56.12" y="211.96" width="3.00" height="3.00" fill="#2f4b7d" stroke="none" stroke-width="1" /><rect x="124.31" y="204.80" width="3.00" height="3.00" fill="#2f4b7d" stroke="none" stroke-width="1" /><text x="47.13" y="214.40" font-size="7" text-anchor="middle" fill="#0a0a0a" stroke="#0a0a0a" stroke-width="0.22" font-weight="normal" >***</text><text x="57.62" y="209.10" font-size="7" text-anchor="middle" fill="#0a0a0a" stroke="#0a0a0a" stroke-width="0.22" font-weight="normal" >**</text><text x="125.81" y="188.60" font-size="7" text-anchor="middle" fill="#0a0a0a" stroke="#0a0a0a" stroke-width="0.22" font-weight="normal" >***</text><line x1="38.10" y1="170.00" x2="56.20" y2="170.00" stroke="#b5173e" stroke-width="1" /><circle cx="47.1" cy="170" r="1.5" fill="#a50029"/><line x1="38.10" y1="181.20" x2="56.20" y2="181.20" stroke="#3d5a96" stroke-width="1" /><rect x="45.60" y="179.70" width="3.00" height="3.00" fill="#2f4b7d" stroke="none" stroke-width="1" /><text x="59.60" y="172.40" font-size="7.4" text-anchor="start" fill="#0a0a0a" stroke="#0a0a0a" stroke-width="0.22" font-weight="normal" >MMP Low</text><text x="59.60" y="183.20" font-size="7.4" text-anchor="start" fill="#0a0a0a" stroke="#0a0a0a" stroke-width="0.22" font-weight="normal" >MMP High</text><text transform="translate(15.00,213.40) rotate(-90) scale(0.614,1)" font-size="10.4" text-anchor="middle" fill="#0a0a0a" stroke="#0a0a0a" stroke-width="0.34" font-weight="normal">Cell number</text><text transform="translate(85.60,280.60) rotate(0) scale(0.656,1)" font-size="10.4" text-anchor="middle" fill="#0a0a0a" stroke="#0a0a0a" stroke-width="0.34" font-weight="normal">Time (hr)</text>
<text transform="translate(157.20,164.00) scale(1.1,1)" font-size="10.5" fill="#000" stroke="#000" stroke-width="0.12" font-weight="bold">E</text><text x="212.70" y="179.70" font-size="7.85" text-anchor="middle" fill="#0a0a0a" stroke="#0a0a0a" stroke-width="0.1" font-weight="normal" >MMP Low</text><path d="M193.36,235.31 C193.52,232.69 193.86,224.42 194.31,219.63 C194.77,214.84 195.40,209.73 196.10,206.57 C196.79,203.40 197.38,202.01 198.47,200.63 C199.56,199.24 200.75,198.85 202.63,198.25 C204.51,197.66 207.18,197.46 209.75,197.06 C212.33,196.67 215.69,195.88 218.07,195.88 C220.44,195.88 222.42,196.07 224.00,197.06 C225.59,198.05 227.27,200.03 227.57,201.81 C227.86,203.60 226.97,206.07 225.79,207.75 C224.60,209.44 221.93,210.52 220.44,211.91 C218.96,213.30 216.88,214.78 216.88,216.07 C216.88,217.35 219.16,218.24 220.44,219.63 C221.73,221.02 223.71,222.60 224.60,224.38 C225.49,226.16 226.08,228.54 225.79,230.32 C225.49,232.10 224.50,233.98 222.82,235.07 C221.13,236.16 217.87,236.06 215.69,236.85 C213.51,237.64 210.94,238.33 209.75,239.82 C208.57,241.30 208.76,244.77 208.57,245.76" fill="none" stroke="#808080" stroke-width="0.5"/><path d="M196.69,185.78 C196.99,186.12 197.72,187.54 198.47,187.80 C199.22,188.06 200.67,187.72 201.20,187.33 C201.74,186.93 201.60,185.74 201.68,185.43" fill="none" stroke="#bbb" stroke-width="0.4"/><path d="M200.01,190.89 C200.33,190.57 201.24,190.83 201.68,191.36 C202.11,191.90 202.71,193.50 202.63,194.10 C202.55,194.69 201.68,195.06 201.20,194.93 C200.73,194.79 199.97,193.94 199.78,193.26 C199.58,192.59 199.70,191.21 200.01,190.89 Z" fill="none" stroke="#bbb" stroke-width="0.4"/><path d="M193.36,235.31 C190.99,232.69 193.68,224.22 194.08,219.63 C194.47,215.04 195.01,210.92 195.74,207.75 C196.47,204.59 197.12,202.11 198.47,200.63 C199.82,199.14 202.17,198.94 203.81,198.85 C205.46,198.75 207.58,193.96 208.33,200.03 C209.08,206.11 210.82,229.43 208.33,235.31 C205.83,241.19 195.74,237.92 193.36,235.31 Z" fill="#8c8c8c" fill-opacity="0.33"/><path d="M209.75,201.81 C209.75,200.23 212.52,198.45 214.50,197.66 C216.48,196.87 219.65,196.57 221.63,197.06 C223.61,197.56 225.69,199.04 226.38,200.63 C227.07,202.21 226.78,205.08 225.79,206.57 C224.80,208.05 222.32,209.44 220.44,209.53 C218.56,209.63 216.29,208.45 214.50,207.16 C212.72,205.87 209.75,203.40 209.75,201.81 Z" fill="#999" fill-opacity="0.22" stroke="none"/><path d="M209.75,201.81 C209.75,200.23 212.52,198.45 214.50,197.66 C216.48,196.87 219.65,196.57 221.63,197.06 C223.61,197.56 225.69,199.04 226.38,200.63 C227.07,202.21 226.78,205.08 225.79,206.57 C224.80,208.05 222.32,209.44 220.44,209.53 C218.56,209.63 216.29,208.45 214.50,207.16 C212.72,205.87 209.75,203.40 209.75,201.81 Z" transform="translate(214.50,202.40) scale(1.000) translate(-214.50,-202.40)" fill="none" stroke="#6e6e6e" stroke-width="0.5" vector-effect="non-scaling-stroke"/><path d="M209.75,201.81 C209.75,200.23 212.52,198.45 214.50,197.66 C216.48,196.87 219.65,196.57 221.63,197.06 C223.61,197.56 225.69,199.04 226.38,200.63 C227.07,202.21 226.78,205.08 225.79,206.57 C224.80,208.05 222.32,209.44 220.44,209.53 C218.56,209.63 216.29,208.45 214.50,207.16 C212.72,205.87 209.75,203.40 209.75,201.81 Z" transform="translate(214.50,202.40) scale(0.780) translate(-214.50,-202.40)" fill="none" stroke="#6e6e6e" stroke-width="0.5" vector-effect="non-scaling-stroke"/><path d="M209.75,201.81 C209.75,200.23 212.52,198.45 214.50,197.66 C216.48,196.87 219.65,196.57 221.63,197.06 C223.61,197.56 225.69,199.04 226.38,200.63 C227.07,202.21 226.78,205.08 225.79,206.57 C224.80,208.05 222.32,209.44 220.44,209.53 C218.56,209.63 216.29,208.45 214.50,207.16 C212.72,205.87 209.75,203.40 209.75,201.81 Z" transform="translate(214.50,202.40) scale(0.560) translate(-214.50,-202.40)" fill="none" stroke="#6e6e6e" stroke-width="0.5" vector-effect="non-scaling-stroke"/><path d="M209.75,201.81 C209.75,200.23 212.52,198.45 214.50,197.66 C216.48,196.87 219.65,196.57 221.63,197.06 C223.61,197.56 225.69,199.04 226.38,200.63 C227.07,202.21 226.78,205.08 225.79,206.57 C224.80,208.05 222.32,209.44 220.44,209.53 C218.56,209.63 216.29,208.45 214.50,207.16 C212.72,205.87 209.75,203.40 209.75,201.81 Z" transform="translate(214.50,202.40) scale(0.340) translate(-214.50,-202.40)" fill="none" stroke="#6e6e6e" stroke-width="0.5" vector-effect="non-scaling-stroke"/><path d="M209.75,201.81 C209.75,200.23 212.52,198.45 214.50,197.66 C216.48,196.87 219.65,196.57 221.63,197.06 C223.61,197.56 225.69,199.04 226.38,200.63 C227.07,202.21 226.78,205.08 225.79,206.57 C224.80,208.05 222.32,209.44 220.44,209.53 C218.56,209.63 216.29,208.45 214.50,207.16 C212.72,205.87 209.75,203.40 209.75,201.81 Z" transform="translate(214.50,202.40) scale(0.120) translate(-214.50,-202.40)" fill="none" stroke="#6e6e6e" stroke-width="0.5" vector-effect="non-scaling-stroke"/><path d="M210.35,227.94 C210.15,225.37 212.43,221.02 213.91,219.63 C215.39,218.24 217.57,218.74 219.25,219.63 C220.94,220.52 223.05,223.09 224.00,224.97 C224.95,226.85 225.35,229.23 224.95,230.91 C224.56,232.59 223.27,234.38 221.63,235.07 C219.99,235.76 216.98,236.26 215.10,235.07 C213.22,233.88 210.54,230.52 210.35,227.94 Z" fill="#999" fill-opacity="0.22" stroke="none"/><path d="M210.35,227.94 C210.15,225.37 212.43,221.02 213.91,219.63 C215.39,218.24 217.57,218.74 219.25,219.63 C220.94,220.52 223.05,223.09 224.00,224.97 C224.95,226.85 225.35,229.23 224.95,230.91 C224.56,232.59 223.27,234.38 221.63,235.07 C219.99,235.76 216.98,236.26 215.10,235.07 C213.22,233.88 210.54,230.52 210.35,227.94 Z" transform="translate(213.50,228.00) scale(1.000) translate(-213.50,-228.00)" fill="none" stroke="#6e6e6e" stroke-width="0.5" vector-effect="non-scaling-stroke"/><path d="M210.35,227.94 C210.15,225.37 212.43,221.02 213.91,219.63 C215.39,218.24 217.57,218.74 219.25,219.63 C220.94,220.52 223.05,223.09 224.00,224.97 C224.95,226.85 225.35,229.23 224.95,230.91 C224.56,232.59 223.27,234.38 221.63,235.07 C219.99,235.76 216.98,236.26 215.10,235.07 C213.22,233.88 210.54,230.52 210.35,227.94 Z" transform="translate(213.50,228.00) scale(0.780) translate(-213.50,-228.00)" fill="none" stroke="#6e6e6e" stroke-width="0.5" vector-effect="non-scaling-stroke"/><path d="M210.35,227.94 C210.15,225.37 212.43,221.02 213.91,219.63 C215.39,218.24 217.57,218.74 219.25,219.63 C220.94,220.52 223.05,223.09 224.00,224.97 C224.95,226.85 225.35,229.23 224.95,230.91 C224.56,232.59 223.27,234.38 221.63,235.07 C219.99,235.76 216.98,236.26 215.10,235.07 C213.22,233.88 210.54,230.52 210.35,227.94 Z" transform="translate(213.50,228.00) scale(0.560) translate(-213.50,-228.00)" fill="none" stroke="#6e6e6e" stroke-width="0.5" vector-effect="non-scaling-stroke"/><path d="M210.35,227.94 C210.15,225.37 212.43,221.02 213.91,219.63 C215.39,218.24 217.57,218.74 219.25,219.63 C220.94,220.52 223.05,223.09 224.00,224.97 C224.95,226.85 225.35,229.23 224.95,230.91 C224.56,232.59 223.27,234.38 221.63,235.07 C219.99,235.76 216.98,236.26 215.10,235.07 C213.22,233.88 210.54,230.52 210.35,227.94 Z" transform="translate(213.50,228.00) scale(0.340) translate(-213.50,-228.00)" fill="none" stroke="#6e6e6e" stroke-width="0.5" vector-effect="non-scaling-stroke"/><path d="M210.35,227.94 C210.15,225.37 212.43,221.02 213.91,219.63 C215.39,218.24 217.57,218.74 219.25,219.63 C220.94,220.52 223.05,223.09 224.00,224.97 C224.95,226.85 225.35,229.23 224.95,230.91 C224.56,232.59 223.27,234.38 221.63,235.07 C219.99,235.76 216.98,236.26 215.10,235.07 C213.22,233.88 210.54,230.52 210.35,227.94 Z" transform="translate(213.50,228.00) scale(0.120) translate(-213.50,-228.00)" fill="none" stroke="#6e6e6e" stroke-width="0.5" vector-effect="non-scaling-stroke"/><path d="M194.55,235.31 C194.59,233.29 194.55,227.19 194.79,223.19 C195.03,219.19 195.46,214.58 195.98,211.32 C196.49,208.05 197.06,205.48 197.88,203.60 C198.69,201.72 199.56,200.77 200.85,200.03 C202.13,199.30 204.80,199.34 205.60,199.20" fill="none" stroke="#8c8c8c" stroke-opacity="0.75" stroke-width="1.8"/><path d="M197.28,235.31 C197.30,233.49 197.22,227.98 197.40,224.38 C197.58,220.78 197.88,216.66 198.35,213.69 C198.83,210.72 199.34,208.25 200.25,206.57 C201.16,204.88 203.22,204.09 203.81,203.60" fill="none" stroke="#b0b0b0" stroke-opacity="0.7" stroke-width="1.2"/><ellipse cx="200.80" cy="224.60" rx="4.60" ry="8.50" transform="rotate(5 200.80 224.60)" fill="none" stroke="#888" stroke-width="0.45"/><ellipse cx="200.80" cy="224.60" rx="3.59" ry="6.63" transform="rotate(5 200.80 224.60)" fill="none" stroke="#888" stroke-width="0.45"/><ellipse cx="200.80" cy="224.60" rx="2.58" ry="4.76" transform="rotate(5 200.80 224.60)" fill="none" stroke="#888" stroke-width="0.45"/><ellipse cx="200.80" cy="224.60" rx="1.56" ry="2.89" transform="rotate(5 200.80 224.60)" fill="none" stroke="#888" stroke-width="0.45"/><ellipse cx="201.60" cy="208.50" rx="2.60" ry="4.50" transform="rotate(15 201.60 208.50)" fill="none" stroke="#999" stroke-width="0.45"/><ellipse cx="201.60" cy="208.50" rx="1.56" ry="2.70" transform="rotate(15 201.60 208.50)" fill="none" stroke="#999" stroke-width="0.45"/><linearGradient id="g0g" x1="0" x2="1" y1="0" y2="0"><stop offset="0" stop-color="#606060"/><stop offset="0.3" stop-color="#9a9a9a"/><stop offset="0.5" stop-color="#c8c8c8"/><stop offset="0.7" stop-color="#9a9a9a"/><stop offset="1" stop-color="#666"/></linearGradient><path d="M193.40,235.4 C192.95,244.50 196.35,252.50 200.95,252.50 C205.55,252.50 209.05,244.50 208.60,235.4 Z" fill="url(#g0g)"/><path d="M194.38,235.4 C193.99,244.50 196.95,251.40 200.95,251.40 C204.95,251.40 208.00,244.50 207.61,235.4" fill="none" stroke="#555" stroke-opacity="0.7" stroke-width="0.4"/><path d="M195.36,235.4 C195.03,244.50 197.55,250.29 200.95,250.29 C204.35,250.29 206.94,244.50 206.61,235.4" fill="none" stroke="#555" stroke-opacity="0.7" stroke-width="0.4"/><path d="M196.34,235.4 C196.07,244.50 198.14,249.19 200.95,249.19 C203.76,249.19 205.89,244.50 205.62,235.4" fill="none" stroke="#555" stroke-opacity="0.7" stroke-width="0.4"/><path d="M197.33,235.4 C197.11,244.50 198.74,248.08 200.95,248.08 C203.16,248.08 204.84,244.50 204.62,235.4" fill="none" stroke="#555" stroke-opacity="0.7" stroke-width="0.4"/><path d="M198.31,235.4 C198.15,244.50 199.34,246.97 200.95,246.97 C202.56,246.97 203.78,244.50 203.63,235.4" fill="none" stroke="#555" stroke-opacity="0.7" stroke-width="0.4"/><path d="M193.40,235.4 C192.95,244.50 196.35,252.50 200.95,252.50 C205.55,252.50 209.05,244.50 208.60,235.4" fill="none" stroke="#1a1a1a" stroke-width="1.3"/><rect x="191.30" y="196.50" width="17.20" height="38.90" fill="none" stroke="#333" stroke-width="0.75" /><rect x="191.30" y="235.40" width="17.20" height="22.60" fill="none" stroke="#333" stroke-width="0.75" /><rect x="208.50" y="187.30" width="23.20" height="48.10" fill="none" stroke="#333" stroke-width="0.75" /><line x1="191.00" y1="235.60" x2="208.80" y2="235.60" stroke="#111" stroke-width="1.5" /><rect x="176.20" y="185.00" width="73.30" height="73.00" fill="none" stroke="#111" stroke-width="1.15" /><path d="M176,185 l3.2,0 l-3.2,3.2 z" fill="#111"/><text x="180.20" y="208.20" font-size="9" text-anchor="start" fill="#0a0a0a" stroke="#0a0a0a" stroke-width="0.22" font-weight="normal" >G<tspan dy="2" font-size="6.3">1</tspan><tspan dy="-2"></tspan></text><text x="180.20" y="244.40" font-size="9" text-anchor="start" fill="#0a0a0a" stroke="#0a0a0a" stroke-width="0.22" font-weight="normal" >G<tspan dy="2" font-size="6.3">0</tspan><tspan dy="-2"></tspan></text><text x="214.60" y="247.00" font-size="8.7" text-anchor="start" fill="#0a0a0a" stroke="#0a0a0a" stroke-width="0.22" font-weight="normal" >S/G<tspan dy="2" font-size="6.3">2</tspan><tspan dy="-2">/M</tspan></text><path d="M169.80,226.30 L169.80,261.80 L218.80,261.80" fill="none" stroke="#111" stroke-width="1.1"/><path d="M169.80,223.30 l-2.4,4.9 l4.8,0 z" fill="#111"/><path d="M221.80,261.80 l-4.9,-2.4 l0,4.8 z" fill="#111"/><text transform="translate(164.80,242.40) rotate(-90) scale(0.586,1)" font-size="10.4" text-anchor="middle" fill="#0a0a0a" stroke="#0a0a0a" stroke-width="0.34" font-weight="normal">Ki67</text><text transform="translate(196.00,272.80) rotate(0) scale(0.573,1)" font-size="10.4" text-anchor="middle" fill="#0a0a0a" stroke="#0a0a0a" stroke-width="0.34" font-weight="normal">DAPI</text><text x="295.10" y="179.70" font-size="7.85" text-anchor="middle" fill="#0a0a0a" stroke="#0a0a0a" stroke-width="0.1" font-weight="normal" >MMP High</text><path d="M291.75,200.63 C292.98,198.21 296.31,197.32 298.88,196.83 C301.45,196.33 305.37,196.63 307.19,197.66 C309.01,198.69 309.61,201.12 309.81,203.00 C310.00,204.88 308.22,206.96 308.38,208.94 C308.54,210.92 310.26,212.50 310.76,214.88 C311.25,217.25 311.75,220.62 311.35,223.19 C310.95,225.77 310.26,228.44 308.38,230.32 C306.50,232.20 302.74,233.64 300.07,234.48 C297.39,235.31 293.81,237.19 292.35,235.31 C290.88,233.43 291.42,227.19 291.28,223.19 C291.14,219.19 291.44,215.08 291.52,211.32 C291.59,207.56 290.53,203.04 291.75,200.63 Z" fill="#999" fill-opacity="0.2" stroke="none"/><path d="M291.75,200.63 C292.98,198.21 296.31,197.32 298.88,196.83 C301.45,196.33 305.37,196.63 307.19,197.66 C309.01,198.69 309.61,201.12 309.81,203.00 C310.00,204.88 308.22,206.96 308.38,208.94 C308.54,210.92 310.26,212.50 310.76,214.88 C311.25,217.25 311.75,220.62 311.35,223.19 C310.95,225.77 310.26,228.44 308.38,230.32 C306.50,232.20 302.74,233.64 300.07,234.48 C297.39,235.31 293.81,237.19 292.35,235.31 C290.88,233.43 291.42,227.19 291.28,223.19 C291.14,219.19 291.44,215.08 291.52,211.32 C291.59,207.56 290.53,203.04 291.75,200.63 Z" transform="translate(299.00,214.00) scale(1.000) translate(-299.00,-214.00)" fill="none" stroke="#707070" stroke-width="0.5" vector-effect="non-scaling-stroke"/><path d="M291.75,200.63 C292.98,198.21 296.31,197.32 298.88,196.83 C301.45,196.33 305.37,196.63 307.19,197.66 C309.01,198.69 309.61,201.12 309.81,203.00 C310.00,204.88 308.22,206.96 308.38,208.94 C308.54,210.92 310.26,212.50 310.76,214.88 C311.25,217.25 311.75,220.62 311.35,223.19 C310.95,225.77 310.26,228.44 308.38,230.32 C306.50,232.20 302.74,233.64 300.07,234.48 C297.39,235.31 293.81,237.19 292.35,235.31 C290.88,233.43 291.42,227.19 291.28,223.19 C291.14,219.19 291.44,215.08 291.52,211.32 C291.59,207.56 290.53,203.04 291.75,200.63 Z" transform="translate(299.00,214.00) scale(0.890) translate(-299.00,-214.00)" fill="none" stroke="#707070" stroke-width="0.5" vector-effect="non-scaling-stroke"/><path d="M291.75,200.63 C292.98,198.21 296.31,197.32 298.88,196.83 C301.45,196.33 305.37,196.63 307.19,197.66 C309.01,198.69 309.61,201.12 309.81,203.00 C310.00,204.88 308.22,206.96 308.38,208.94 C308.54,210.92 310.26,212.50 310.76,214.88 C311.25,217.25 311.75,220.62 311.35,223.19 C310.95,225.77 310.26,228.44 308.38,230.32 C306.50,232.20 302.74,233.64 300.07,234.48 C297.39,235.31 293.81,237.19 292.35,235.31 C290.88,233.43 291.42,227.19 291.28,223.19 C291.14,219.19 291.44,215.08 291.52,211.32 C291.59,207.56 290.53,203.04 291.75,200.63 Z" transform="translate(299.00,214.00) scale(0.780) translate(-299.00,-214.00)" fill="none" stroke="#707070" stroke-width="0.5" vector-effect="non-scaling-stroke"/><path d="M293.53,203.60 C294.48,202.41 296.70,200.73 298.88,200.03 C301.06,199.34 305.02,198.75 306.60,199.44 C308.18,200.13 308.87,202.80 308.38,204.19 C307.89,205.58 305.61,207.06 303.63,207.75 C301.65,208.45 298.25,208.45 296.50,208.35 C294.76,208.25 293.67,207.95 293.18,207.16 C292.68,206.37 292.58,204.78 293.53,203.60 Z" transform="translate(301.50,203.80) scale(1.000) translate(-301.50,-203.80)" fill="none" stroke="#747474" stroke-width="0.5" vector-effect="non-scaling-stroke"/><path d="M293.53,203.60 C294.48,202.41 296.70,200.73 298.88,200.03 C301.06,199.34 305.02,198.75 306.60,199.44 C308.18,200.13 308.87,202.80 308.38,204.19 C307.89,205.58 305.61,207.06 303.63,207.75 C301.65,208.45 298.25,208.45 296.50,208.35 C294.76,208.25 293.67,207.95 293.18,207.16 C292.68,206.37 292.58,204.78 293.53,203.60 Z" transform="translate(301.50,203.80) scale(0.675) translate(-301.50,-203.80)" fill="none" stroke="#747474" stroke-width="0.5" vector-effect="non-scaling-stroke"/><path d="M293.53,203.60 C294.48,202.41 296.70,200.73 298.88,200.03 C301.06,199.34 305.02,198.75 306.60,199.44 C308.18,200.13 308.87,202.80 308.38,204.19 C307.89,205.58 305.61,207.06 303.63,207.75 C301.65,208.45 298.25,208.45 296.50,208.35 C294.76,208.25 293.67,207.95 293.18,207.16 C292.68,206.37 292.58,204.78 293.53,203.60 Z" transform="translate(301.50,203.80) scale(0.350) translate(-301.50,-203.80)" fill="none" stroke="#747474" stroke-width="0.5" vector-effect="non-scaling-stroke"/><path d="M292.35,231.51 C291.65,229.82 292.45,225.77 293.53,223.19 C294.62,220.62 296.80,217.95 298.88,216.07 C300.96,214.19 304.32,212.01 306.00,211.91 C307.69,211.81 308.68,213.39 308.97,215.47 C309.27,217.55 308.68,221.91 307.79,224.38 C306.90,226.85 305.31,228.83 303.63,230.32 C301.95,231.80 299.57,233.09 297.69,233.29 C295.81,233.49 293.04,233.19 292.35,231.51 Z" transform="translate(298.00,226.50) scale(1.000) translate(-298.00,-226.50)" fill="none" stroke="#707070" stroke-width="0.5" vector-effect="non-scaling-stroke"/><path d="M292.35,231.51 C291.65,229.82 292.45,225.77 293.53,223.19 C294.62,220.62 296.80,217.95 298.88,216.07 C300.96,214.19 304.32,212.01 306.00,211.91 C307.69,211.81 308.68,213.39 308.97,215.47 C309.27,217.55 308.68,221.91 307.79,224.38 C306.90,226.85 305.31,228.83 303.63,230.32 C301.95,231.80 299.57,233.09 297.69,233.29 C295.81,233.49 293.04,233.19 292.35,231.51 Z" transform="translate(298.00,226.50) scale(0.780) translate(-298.00,-226.50)" fill="none" stroke="#707070" stroke-width="0.5" vector-effect="non-scaling-stroke"/><path d="M292.35,231.51 C291.65,229.82 292.45,225.77 293.53,223.19 C294.62,220.62 296.80,217.95 298.88,216.07 C300.96,214.19 304.32,212.01 306.00,211.91 C307.69,211.81 308.68,213.39 308.97,215.47 C309.27,217.55 308.68,221.91 307.79,224.38 C306.90,226.85 305.31,228.83 303.63,230.32 C301.95,231.80 299.57,233.09 297.69,233.29 C295.81,233.49 293.04,233.19 292.35,231.51 Z" transform="translate(298.00,226.50) scale(0.560) translate(-298.00,-226.50)" fill="none" stroke="#707070" stroke-width="0.5" vector-effect="non-scaling-stroke"/><path d="M292.35,231.51 C291.65,229.82 292.45,225.77 293.53,223.19 C294.62,220.62 296.80,217.95 298.88,216.07 C300.96,214.19 304.32,212.01 306.00,211.91 C307.69,211.81 308.68,213.39 308.97,215.47 C309.27,217.55 308.68,221.91 307.79,224.38 C306.90,226.85 305.31,228.83 303.63,230.32 C301.95,231.80 299.57,233.09 297.69,233.29 C295.81,233.49 293.04,233.19 292.35,231.51 Z" transform="translate(298.00,226.50) scale(0.340) translate(-298.00,-226.50)" fill="none" stroke="#707070" stroke-width="0.5" vector-effect="non-scaling-stroke"/><path d="M292.35,231.51 C291.65,229.82 292.45,225.77 293.53,223.19 C294.62,220.62 296.80,217.95 298.88,216.07 C300.96,214.19 304.32,212.01 306.00,211.91 C307.69,211.81 308.68,213.39 308.97,215.47 C309.27,217.55 308.68,221.91 307.79,224.38 C306.90,226.85 305.31,228.83 303.63,230.32 C301.95,231.80 299.57,233.09 297.69,233.29 C295.81,233.49 293.04,233.19 292.35,231.51 Z" transform="translate(298.00,226.50) scale(0.120) translate(-298.00,-226.50)" fill="none" stroke="#707070" stroke-width="0.5" vector-effect="non-scaling-stroke"/><path d="M278.69,236.26 C278.65,234.08 278.25,227.35 278.45,223.19 C278.65,219.04 279.05,214.68 279.88,211.32 C280.71,207.95 281.66,205.02 283.44,203.00 C285.22,200.98 289.38,199.84 290.57,199.20" fill="none" stroke="#999" stroke-width="0.5"/><path d="M279.64,231.51 C279.68,229.53 279.60,223.09 279.88,219.63 C280.15,216.17 280.51,213.10 281.30,210.72 C282.09,208.35 283.08,206.66 284.63,205.38 C286.17,204.09 289.58,203.40 290.57,203.00" fill="none" stroke="#777" stroke-opacity="0.8" stroke-width="1.2"/><path d="M281.06,223.19 C281.22,221.91 281.42,217.75 282.01,215.47 C282.61,213.20 283.30,210.92 284.63,209.53 C285.95,208.15 289.08,207.56 289.97,207.16" fill="none" stroke="#999" stroke-opacity="0.8" stroke-width="0.9"/><linearGradient id="stg" x1="0" y1="0" x2="0" y2="1"><stop offset="0" stop-color="#777" stop-opacity="0.15"/><stop offset="0.3" stop-color="#777" stop-opacity="0.75"/><stop offset="1" stop-color="#707070" stop-opacity="0.8"/></linearGradient><linearGradient id="stl" x1="0" y1="0" x2="0" y2="1"><stop offset="0" stop-color="#2c2c2c" stop-opacity="0.25"/><stop offset="0.3" stop-color="#2c2c2c" stop-opacity="0.9"/><stop offset="1" stop-color="#222" stop-opacity="0.95"/></linearGradient><rect x="278.10" y="213.00" width="11.40" height="35.80" rx="5.70" ry="6.55" fill="url(#stg)"/><rect x="278.10" y="213.00" width="11.40" height="35.80" rx="5.70" ry="6.55" fill="none" stroke="url(#stl)" stroke-width="0.85"/><rect x="278.95" y="214.90" width="9.70" height="32.60" rx="4.85" ry="5.58" fill="none" stroke="url(#stl)" stroke-width="0.78"/><rect x="279.80" y="216.80" width="8.00" height="29.40" rx="4.00" ry="4.60" fill="none" stroke="url(#stl)" stroke-width="0.71"/><rect x="280.65" y="218.70" width="6.30" height="26.20" rx="3.15" ry="3.62" fill="none" stroke="url(#stl)" stroke-width="0.64"/><rect x="281.50" y="220.60" width="4.60" height="23.00" rx="2.30" ry="2.65" fill="none" stroke="url(#stl)" stroke-width="0.57"/><rect x="282.35" y="222.50" width="2.90" height="19.80" rx="1.45" ry="1.67" fill="none" stroke="url(#stl)" stroke-width="0.50"/><rect x="283.10" y="221.00" width="1.60" height="12.50" rx="0.80" ry="0.92" fill="#fff" fill-opacity="0.9"/><rect x="273.70" y="196.50" width="16.80" height="38.90" fill="none" stroke="#333" stroke-width="0.75" /><rect x="273.70" y="235.40" width="16.80" height="22.60" fill="none" stroke="#333" stroke-width="0.75" /><rect x="290.50" y="187.60" width="23.50" height="47.80" fill="none" stroke="#333" stroke-width="0.75" /><line x1="273.40" y1="235.60" x2="290.80" y2="235.60" stroke="#111" stroke-width="1.5" /><rect x="258.30" y="185.00" width="73.50" height="73.00" fill="none" stroke="#111" stroke-width="1.15" /><path d="M258,185 l3.2,0 l-3.2,3.2 z" fill="#111"/><text x="262.40" y="208.00" font-size="9" text-anchor="start" fill="#0a0a0a" stroke="#0a0a0a" stroke-width="0.22" font-weight="normal" >G<tspan dy="2" font-size="6.3">1</tspan><tspan dy="-2"></tspan></text><text x="262.40" y="244.40" font-size="9" text-anchor="start" fill="#0a0a0a" stroke="#0a0a0a" stroke-width="0.22" font-weight="normal" >G<tspan dy="2" font-size="6.3">0</tspan><tspan dy="-2"></tspan></text><text x="297.00" y="247.00" font-size="8.7" text-anchor="start" fill="#0a0a0a" stroke="#0a0a0a" stroke-width="0.22" font-weight="normal" >S/G<tspan dy="2" font-size="6.3">2</tspan><tspan dy="-2">/M</tspan></text><line x1="375.70" y1="182.50" x2="375.70" y2="255.00" stroke="#111" stroke-width="1.15" /><line x1="375.20" y1="254.50" x2="462.00" y2="254.50" stroke="#111" stroke-width="1.15" /><line x1="372.70" y1="254.50" x2="375.70" y2="254.50" stroke="#111" stroke-width="1.15" /><text x="370.50" y="257.50" font-size="8.3" text-anchor="end" fill="#0a0a0a" stroke="#0a0a0a" stroke-width="0.22" font-weight="normal" >0</text><line x1="372.70" y1="237.13" x2="375.70" y2="237.13" stroke="#111" stroke-width="1.15" /><text x="370.50" y="240.13" font-size="8.3" text-anchor="end" fill="#0a0a0a" stroke="#0a0a0a" stroke-width="0.22" font-weight="normal" >15</text><line x1="372.70" y1="219.76" x2="375.70" y2="219.76" stroke="#111" stroke-width="1.15" /><text x="370.50" y="222.76" font-size="8.3" text-anchor="end" fill="#0a0a0a" stroke="#0a0a0a" stroke-width="0.22" font-weight="normal" >30</text><line x1="372.70" y1="202.39" x2="375.70" y2="202.39" stroke="#111" stroke-width="1.15" /><text x="370.50" y="205.39" font-size="8.3" text-anchor="end" fill="#0a0a0a" stroke="#0a0a0a" stroke-width="0.22" font-weight="normal" >45</text><line x1="372.70" y1="185.02" x2="375.70" y2="185.02" stroke="#111" stroke-width="1.15" /><text x="370.50" y="188.02" font-size="8.3" text-anchor="end" fill="#0a0a0a" stroke="#0a0a0a" stroke-width="0.22" font-weight="normal" >60</text><rect x="381.50" y="223.23" width="7.10" height="30.77" fill="#a50029" stroke="none" stroke-width="1" /><line x1="385.05" y1="219.76" x2="385.05" y2="223.23" stroke="#222" stroke-width="0.9" /><line x1="383.25" y1="219.76" x2="386.85" y2="219.76" stroke="#222" stroke-width="0.9" /><rect x="392.00" y="237.13" width="7.40" height="16.87" fill="#2f4b7d" stroke="none" stroke-width="1" /><line x1="395.70" y1="233.66" x2="395.70" y2="237.13" stroke="#222" stroke-width="0.9" /><line x1="393.90" y1="233.66" x2="397.50" y2="233.66" stroke="#222" stroke-width="0.9" /><rect x="410.00" y="199.15" width="6.90" height="54.85" fill="#a50029" stroke="none" stroke-width="1" /><line x1="413.45" y1="194.86" x2="413.45" y2="199.15" stroke="#222" stroke-width="0.9" /><line x1="411.65" y1="194.86" x2="415.25" y2="194.86" stroke="#222" stroke-width="0.9" /><rect x="420.30" y="197.99" width="7.30" height="56.01" fill="#2f4b7d" stroke="none" stroke-width="1" /><line x1="423.95" y1="195.44" x2="423.95" y2="197.99" stroke="#222" stroke-width="0.9" /><line x1="422.15" y1="195.44" x2="425.75" y2="195.44" stroke="#222" stroke-width="0.9" /><rect x="438.00" y="233.42" width="6.90" height="20.58" fill="#a50029" stroke="none" stroke-width="1" /><line x1="441.45" y1="232.15" x2="441.45" y2="233.42" stroke="#222" stroke-width="0.9" /><line x1="439.65" y1="232.15" x2="443.25" y2="232.15" stroke="#222" stroke-width="0.9" /><rect x="448.70" y="219.99" width="7.30" height="34.01" fill="#2f4b7d" stroke="none" stroke-width="1" /><line x1="452.35" y1="216.29" x2="452.35" y2="219.99" stroke="#222" stroke-width="0.9" /><line x1="450.55" y1="216.29" x2="454.15" y2="216.29" stroke="#222" stroke-width="0.9" /><line x1="390.50" y1="254.50" x2="390.50" y2="257.50" stroke="#111" stroke-width="1.15" /><line x1="418.70" y1="254.50" x2="418.70" y2="257.50" stroke="#111" stroke-width="1.15" /><line x1="447.20" y1="254.50" x2="447.20" y2="257.50" stroke="#111" stroke-width="1.15" /><line x1="384.00" y1="214.70" x2="395.40" y2="214.70" stroke="#111" stroke-width="0.9" /><text x="389.70" y="214.20" font-size="7" text-anchor="middle" fill="#0a0a0a" stroke="#0a0a0a" stroke-width="0.22" font-weight="normal" >**</text><line x1="412.70" y1="186.70" x2="424.00" y2="186.70" stroke="#111" stroke-width="0.9" /><text x="418.50" y="184.20" font-size="7.6" text-anchor="middle" fill="#0a0a0a" stroke="#0a0a0a" stroke-width="0.22" font-weight="normal" >n.s.</text><line x1="442.00" y1="212.60" x2="451.50" y2="212.60" stroke="#111" stroke-width="0.9" /><text x="446.70" y="212.20" font-size="7" text-anchor="middle" fill="#0a0a0a" stroke="#0a0a0a" stroke-width="0.22" font-weight="normal" >**</text><text x="390.50" y="267.20" font-size="8.6" text-anchor="middle" fill="#0a0a0a" stroke="#0a0a0a" stroke-width="0.22" font-weight="normal" >G<tspan dy="2" font-size="6.3">0</tspan><tspan dy="-2"></tspan></text><text x="418.70" y="267.20" font-size="8.6" text-anchor="middle" fill="#0a0a0a" stroke="#0a0a0a" stroke-width="0.22" font-weight="normal" >G<tspan dy="2" font-size="6.3">1</tspan><tspan dy="-2"></tspan></text><text x="447.40" y="267.20" font-size="8.6" text-anchor="middle" fill="#0a0a0a" stroke="#0a0a0a" stroke-width="0.22" font-weight="normal" >S/G<tspan dy="2" font-size="6.3">2</tspan><tspan dy="-2">M</tspan></text><rect x="464.30" y="183.00" width="11.00" height="6.00" fill="#a50029" stroke="none" stroke-width="1" /><rect x="464.30" y="194.60" width="11.00" height="6.00" fill="#2f4b7d" stroke="none" stroke-width="1" /><text x="478.50" y="188.70" font-size="7.4" text-anchor="start" fill="#0a0a0a" stroke="#0a0a0a" stroke-width="0.22" font-weight="normal" >MMP Low</text><text x="478.50" y="199.40" font-size="7.4" text-anchor="start" fill="#0a0a0a" stroke="#0a0a0a" stroke-width="0.22" font-weight="normal" >MMP High</text><text transform="translate(354.60,219.40) rotate(-90) scale(0.645,1)" font-size="10.4" text-anchor="middle" fill="#0a0a0a" stroke="#0a0a0a" stroke-width="0.34" font-weight="normal">% of cells</text>
<text transform="translate(8.20,302.20) scale(1.1,1)" font-size="10.5" fill="#000" stroke="#000" stroke-width="0.12" font-weight="bold">F</text><line x1="52.60" y1="310.40" x2="52.60" y2="398.70" stroke="#111" stroke-width="0.9" /><text transform="translate(46.90,354.60) rotate(-90) scale(0.669,1)" font-size="9.8" text-anchor="middle" fill="#0a0a0a" stroke="#0a0a0a" stroke-width="0.2" font-weight="normal">MMP</text><text transform="translate(63.00,331.00) rotate(-90)" font-size="7.6" text-anchor="middle" fill="#0a0a0a" stroke="#0a0a0a" stroke-width="0.22">Low</text><text transform="translate(63.00,378.00) rotate(-90)" font-size="7.8" text-anchor="middle" fill="#0a0a0a" stroke="#0a0a0a" stroke-width="0.22">High</text><rect x="67.60" y="310.40" width="42.00" height="41.00" fill="#000" stroke="none" stroke-width="1" /><rect x="67.60" y="357.00" width="42.00" height="41.40" fill="#000" stroke="none" stroke-width="1" /><g filter="url(#blur06)"><path d="M90,322.6 C95,322.2 99.6,326.5 99.4,331.8 C99.2,336.8 96,341.2 91,341 C85.8,341 81,337.5 81,332 C81,327 85,322.8 90,322.6 Z" fill="url(#nucg)"/></g><g filter="url(#blur1)"><circle cx="87.3" cy="328.3" r="2.0" fill="#c0c0c0" fill-opacity="0.8"/><circle cx="92.8" cy="329.2" r="2.0" fill="#c8c8c8" fill-opacity="0.85"/><circle cx="86.5" cy="336.5" r="1.7" fill="#b8b8b8" fill-opacity="0.75"/><circle cx="95" cy="335.5" r="1.6" fill="#a8a8a8" fill-opacity="0.7"/><circle cx="90.5" cy="338.5" r="1.5" fill="#a8a8a8" fill-opacity="0.65"/><path d="M84,325 C87,322.5 93,322.5 96,325" fill="none" stroke="#999" stroke-width="1.2" stroke-opacity="0.6"/></g><g filter="url(#blur06)"><path d="M89.5,364.6 C97,364 103.2,370.5 103.1,378.5 C103,386.5 98,394 90,393.8 C82,393.6 76.2,387 76.4,379 C76.6,371 82,365 89.5,364.6 Z" fill="url(#nucg)"/></g><g filter="url(#blur1)"><path d="M84.5,366.8 C90,364.4 97.5,366.2 101.8,373.8" fill="none" stroke="#dcdcdc" stroke-width="2" stroke-linecap="round"/><circle cx="86" cy="377" r="2.9" fill="#b8b8b8" fill-opacity="0.8"/><circle cx="95" cy="376" r="2.8" fill="#c8c8c8" fill-opacity="0.85"/><circle cx="89" cy="371" r="2.1" fill="#b0b0b0" fill-opacity="0.7"/><circle cx="90" cy="385" r="2.3" fill="#989898" fill-opacity="0.6"/><circle cx="98" cy="383" r="1.9" fill="#989898" fill-opacity="0.6"/></g><line x1="92.80" y1="394.90" x2="105.50" y2="394.90" stroke="#d8d8d8" stroke-width="1.3" /><line x1="60.90" y1="417.00" x2="60.90" y2="489.10" stroke="#111" stroke-width="1.15" /><line x1="60.40" y1="488.60" x2="136.30" y2="488.60" stroke="#111" stroke-width="1.15" /><line x1="57.90" y1="488.60" x2="60.90" y2="488.60" stroke="#111" stroke-width="1.15" /><text x="54.90" y="491.55" font-size="8.2" text-anchor="end" fill="#0a0a0a" stroke="#0a0a0a" stroke-width="0.22" font-weight="normal" >0</text><line x1="57.90" y1="474.68" x2="60.90" y2="474.68" stroke="#111" stroke-width="1.15" /><text x="54.90" y="477.63" font-size="8.2" text-anchor="end" fill="#0a0a0a" stroke="#0a0a0a" stroke-width="0.22" font-weight="normal" >200</text><line x1="57.90" y1="460.76" x2="60.90" y2="460.76" stroke="#111" stroke-width="1.15" /><text x="54.90" y="463.71" font-size="8.2" text-anchor="end" fill="#0a0a0a" stroke="#0a0a0a" stroke-width="0.22" font-weight="normal" >400</text><line x1="57.90" y1="446.84" x2="60.90" y2="446.84" stroke="#111" stroke-width="1.15" /><text x="54.90" y="449.79" font-size="8.2" text-anchor="end" fill="#0a0a0a" stroke="#0a0a0a" stroke-width="0.22" font-weight="normal" >600</text><line x1="57.90" y1="432.92" x2="60.90" y2="432.92" stroke="#111" stroke-width="1.15" /><text x="54.90" y="435.87" font-size="8.2" text-anchor="end" fill="#0a0a0a" stroke="#0a0a0a" stroke-width="0.22" font-weight="normal" >800</text><line x1="57.90" y1="419.00" x2="60.90" y2="419.00" stroke="#111" stroke-width="1.15" /><text x="54.90" y="421.95" font-size="8.2" text-anchor="end" fill="#0a0a0a" stroke="#0a0a0a" stroke-width="0.22" font-weight="normal" >1000</text><line x1="79.50" y1="488.60" x2="79.50" y2="491.60" stroke="#111" stroke-width="1.15" /><text x="79.50" y="501.60" font-size="8.1" text-anchor="middle" fill="#0a0a0a" stroke="#0a0a0a" stroke-width="0.22" font-weight="normal" >MMP</text><line x1="117.70" y1="488.60" x2="117.70" y2="491.60" stroke="#111" stroke-width="1.15" /><text x="117.70" y="501.60" font-size="8.1" text-anchor="middle" fill="#0a0a0a" stroke="#0a0a0a" stroke-width="0.22" font-weight="normal" >MMP</text><text x="79.50" y="511.60" font-size="8.0" text-anchor="middle" fill="#0a0a0a" stroke="#0a0a0a" stroke-width="0.22" font-weight="normal" >Low</text><text x="117.70" y="511.60" font-size="8.0" text-anchor="middle" fill="#0a0a0a" stroke="#0a0a0a" stroke-width="0.22" font-weight="normal" >High</text><line x1="75.40" y1="423.40" x2="118.70" y2="423.40" stroke="#111" stroke-width="0.9" /><text x="97.00" y="422.30" font-size="7" text-anchor="middle" fill="#0a0a0a" stroke="#0a0a0a" stroke-width="0.22" font-weight="normal" >*</text><path d="M77.56,437.97 L79.01,440.58 L76.11,440.58 Z" fill="#a50029"/><path d="M81.97,441.57 L83.42,444.18 L80.52,444.18 Z" fill="#a50029"/><path d="M75.43,447.45 L76.88,450.06 L73.98,450.06 Z" fill="#a50029"/><path d="M79.52,448.60 L80.97,451.21 L78.07,451.21 Z" fill="#a50029"/><path d="M84.42,449.09 L85.87,451.70 L82.97,451.70 Z" fill="#a50029"/><path d="M77.88,451.05 L79.33,453.66 L76.43,453.66 Z" fill="#a50029"/><path d="M81.15,451.37 L82.60,453.98 L79.70,453.98 Z" fill="#a50029"/><path d="M69.71,452.27 L71.16,454.88 L68.26,454.88 Z" fill="#a50029"/><path d="M73.80,452.76 L75.25,455.37 L72.35,455.37 Z" fill="#a50029"/><path d="M77.88,452.27 L79.33,454.88 L76.43,454.88 Z" fill="#a50029"/><path d="M81.97,452.76 L83.42,455.37 L80.52,455.37 Z" fill="#a50029"/><path d="M86.06,452.27 L87.51,454.88 L84.61,454.88 Z" fill="#a50029"/><path d="M90.14,452.76 L91.59,455.37 L88.69,455.37 Z" fill="#a50029"/><path d="M68.08,454.07 L69.53,456.68 L66.63,456.68 Z" fill="#a50029"/><path d="M71.04,454.56 L72.49,457.17 L69.59,457.17 Z" fill="#a50029"/><path d="M74.00,454.07 L75.45,456.68 L72.55,456.68 Z" fill="#a50029"/><path d="M76.96,454.56 L78.41,457.17 L75.51,457.17 Z" fill="#a50029"/><path d="M79.93,454.07 L81.38,456.68 L78.48,456.68 Z" fill="#a50029"/><path d="M82.89,454.56 L84.34,457.17 L81.44,457.17 Z" fill="#a50029"/><path d="M85.85,454.07 L87.30,456.68 L84.40,456.68 Z" fill="#a50029"/><path d="M88.81,454.56 L90.26,457.17 L87.36,457.17 Z" fill="#a50029"/><path d="M91.78,454.07 L93.23,456.68 L90.33,456.68 Z" fill="#a50029"/><path d="M69.38,455.87 L70.83,458.48 L67.93,458.48 Z" fill="#a50029"/><path d="M72.33,456.36 L73.78,458.97 L70.88,458.97 Z" fill="#a50029"/><path d="M75.27,455.87 L76.72,458.48 L73.82,458.48 Z" fill="#a50029"/><path d="M78.21,456.36 L79.66,458.97 L76.76,458.97 Z" fill="#a50029"/><path d="M81.15,455.87 L82.60,458.48 L79.70,458.48 Z" fill="#a50029"/><path d="M84.09,456.36 L85.54,458.97 L82.64,458.97 Z" fill="#a50029"/><path d="M87.04,455.87 L88.49,458.48 L85.59,458.48 Z" fill="#a50029"/><path d="M89.98,456.36 L91.43,458.97 L88.53,458.97 Z" fill="#a50029"/><path d="M71.35,457.50 L72.80,460.11 L69.90,460.11 Z" fill="#a50029"/><path d="M74.07,457.99 L75.52,460.60 L72.62,460.60 Z" fill="#a50029"/><path d="M76.79,457.50 L78.24,460.11 L75.34,460.11 Z" fill="#a50029"/><path d="M79.52,457.99 L80.97,460.60 L78.07,460.60 Z" fill="#a50029"/><path d="M82.24,457.50 L83.69,460.11 L80.79,460.11 Z" fill="#a50029"/><path d="M84.97,457.99 L86.42,460.60 L83.52,460.60 Z" fill="#a50029"/><path d="M87.69,457.50 L89.14,460.11 L86.24,460.11 Z" fill="#a50029"/><path d="M74.61,458.97 L76.06,461.58 L73.16,461.58 Z" fill="#a50029"/><path d="M77.27,459.47 L78.72,462.08 L75.82,462.08 Z" fill="#a50029"/><path d="M79.93,458.97 L81.38,461.58 L78.48,461.58 Z" fill="#a50029"/><path d="M82.58,459.47 L84.03,462.08 L81.13,462.08 Z" fill="#a50029"/><path d="M85.24,458.97 L86.69,461.58 L83.79,461.58 Z" fill="#a50029"/><path d="M77.88,460.28 L79.33,462.89 L76.43,462.89 Z" fill="#a50029"/><path d="M81.48,460.77 L82.93,463.38 L80.03,463.38 Z" fill="#a50029"/><line x1="67.26" y1="455.44" x2="92.27" y2="455.44" stroke="#a50029" stroke-width="0.9" /><line x1="79.50" y1="451.19" x2="79.50" y2="459.69" stroke="#a50029" stroke-width="0.8" /><line x1="76.90" y1="451.19" x2="82.10" y2="451.19" stroke="#a50029" stroke-width="0.8" /><line x1="76.90" y1="459.69" x2="82.10" y2="459.69" stroke="#a50029" stroke-width="0.8" /><rect x="116.30" y="426.35" width="2.60" height="2.60" fill="#2f4b7d"/><rect x="116.30" y="432.56" width="2.60" height="2.60" fill="#2f4b7d"/><rect x="114.18" y="441.39" width="2.60" height="2.60" fill="#2f4b7d"/><rect x="118.26" y="441.06" width="2.60" height="2.60" fill="#2f4b7d"/><rect x="106.00" y="443.02" width="2.60" height="2.60" fill="#2f4b7d"/><rect x="110.09" y="443.84" width="2.60" height="2.60" fill="#2f4b7d"/><rect x="122.35" y="443.52" width="2.60" height="2.60" fill="#2f4b7d"/><rect x="126.76" y="443.02" width="2.60" height="2.60" fill="#2f4b7d"/><rect x="109.27" y="445.97" width="2.60" height="2.60" fill="#2f4b7d"/><rect x="113.36" y="445.48" width="2.60" height="2.60" fill="#2f4b7d"/><rect x="116.63" y="445.97" width="2.60" height="2.60" fill="#2f4b7d"/><rect x="120.72" y="445.48" width="2.60" height="2.60" fill="#2f4b7d"/><rect x="124.80" y="444.66" width="2.60" height="2.60" fill="#2f4b7d"/><rect x="105.68" y="450.38" width="2.60" height="2.60" fill="#2f4b7d"/><rect x="108.95" y="450.87" width="2.60" height="2.60" fill="#2f4b7d"/><rect x="112.54" y="450.87" width="2.60" height="2.60" fill="#2f4b7d"/><rect x="116.63" y="451.52" width="2.60" height="2.60" fill="#2f4b7d"/><rect x="119.90" y="451.52" width="2.60" height="2.60" fill="#2f4b7d"/><rect x="123.17" y="450.87" width="2.60" height="2.60" fill="#2f4b7d"/><rect x="127.25" y="450.71" width="2.60" height="2.60" fill="#2f4b7d"/><rect x="106.82" y="453.16" width="2.60" height="2.60" fill="#2f4b7d"/><rect x="110.91" y="453.65" width="2.60" height="2.60" fill="#2f4b7d"/><rect x="114.99" y="454.14" width="2.60" height="2.60" fill="#2f4b7d"/><rect x="119.08" y="453.65" width="2.60" height="2.60" fill="#2f4b7d"/><rect x="123.17" y="453.16" width="2.60" height="2.60" fill="#2f4b7d"/><rect x="105.68" y="456.59" width="2.60" height="2.60" fill="#2f4b7d"/><rect x="109.27" y="457.25" width="2.60" height="2.60" fill="#2f4b7d"/><rect x="112.87" y="456.10" width="2.60" height="2.60" fill="#2f4b7d"/><rect x="116.63" y="456.59" width="2.60" height="2.60" fill="#2f4b7d"/><rect x="120.39" y="456.92" width="2.60" height="2.60" fill="#2f4b7d"/><rect x="123.98" y="456.10" width="2.60" height="2.60" fill="#2f4b7d"/><rect x="127.58" y="456.59" width="2.60" height="2.60" fill="#2f4b7d"/><rect x="110.09" y="459.04" width="2.60" height="2.60" fill="#2f4b7d"/><rect x="113.85" y="459.37" width="2.60" height="2.60" fill="#2f4b7d"/><rect x="117.77" y="459.04" width="2.60" height="2.60" fill="#2f4b7d"/><rect x="121.53" y="458.55" width="2.60" height="2.60" fill="#2f4b7d"/><rect x="125.29" y="457.74" width="2.60" height="2.60" fill="#2f4b7d"/><rect x="112.54" y="460.68" width="2.60" height="2.60" fill="#2f4b7d"/><rect x="114.99" y="461.33" width="2.60" height="2.60" fill="#2f4b7d"/><rect x="117.45" y="460.51" width="2.60" height="2.60" fill="#2f4b7d"/><line x1="105.67" y1="452.82" x2="129.37" y2="452.82" stroke="#2f4b7d" stroke-width="0.9" /><line x1="117.70" y1="444.82" x2="117.70" y2="460.18" stroke="#2f4b7d" stroke-width="0.8" /><line x1="115.10" y1="444.82" x2="120.30" y2="444.82" stroke="#2f4b7d" stroke-width="0.8" /><line x1="115.10" y1="460.18" x2="120.30" y2="460.18" stroke="#2f4b7d" stroke-width="0.8" /><text transform="translate(19.00,452.75) rotate(-90) scale(0.622,1)" font-size="10.4" text-anchor="middle" fill="#0a0a0a" stroke="#0a0a0a" stroke-width="0.34" font-weight="normal">Nucleus perimeter</text><text transform="translate(30.00,452.50) rotate(-90) scale(0.633,1)" font-size="10.4" text-anchor="middle" fill="#0a0a0a" stroke="#0a0a0a" stroke-width="0.34" font-weight="normal">(pixels)</text><line x1="60.90" y1="531.00" x2="60.90" y2="602.80" stroke="#111" stroke-width="1.15" /><line x1="60.40" y1="602.30" x2="136.30" y2="602.30" stroke="#111" stroke-width="1.15" /><line x1="57.90" y1="602.30" x2="60.90" y2="602.30" stroke="#111" stroke-width="1.15" /><text x="54.90" y="605.25" font-size="8.2" text-anchor="end" fill="#0a0a0a" stroke="#0a0a0a" stroke-width="0.22" font-weight="normal" >0</text><line x1="57.90" y1="584.93" x2="60.90" y2="584.93" stroke="#111" stroke-width="1.15" /><text x="54.90" y="587.88" font-size="8.2" text-anchor="end" fill="#0a0a0a" stroke="#0a0a0a" stroke-width="0.22" font-weight="normal" >5000</text><line x1="57.90" y1="567.56" x2="60.90" y2="567.56" stroke="#111" stroke-width="1.15" /><text x="54.90" y="570.51" font-size="8.2" text-anchor="end" fill="#0a0a0a" stroke="#0a0a0a" stroke-width="0.22" font-weight="normal" >10000</text><line x1="57.90" y1="550.19" x2="60.90" y2="550.19" stroke="#111" stroke-width="1.15" /><text x="54.90" y="553.14" font-size="8.2" text-anchor="end" fill="#0a0a0a" stroke="#0a0a0a" stroke-width="0.22" font-weight="normal" >15000</text><line x1="57.90" y1="532.82" x2="60.90" y2="532.82" stroke="#111" stroke-width="1.15" /><text x="54.90" y="535.77" font-size="8.2" text-anchor="end" fill="#0a0a0a" stroke="#0a0a0a" stroke-width="0.22" font-weight="normal" >20000</text><line x1="79.50" y1="602.30" x2="79.50" y2="605.30" stroke="#111" stroke-width="1.15" /><text x="79.50" y="615.60" font-size="8.1" text-anchor="middle" fill="#0a0a0a" stroke="#0a0a0a" stroke-width="0.22" font-weight="normal" >MMP</text><line x1="117.70" y1="602.30" x2="117.70" y2="605.30" stroke="#111" stroke-width="1.15" /><text x="117.70" y="615.60" font-size="8.1" text-anchor="middle" fill="#0a0a0a" stroke="#0a0a0a" stroke-width="0.22" font-weight="normal" >MMP</text><text x="79.50" y="625.40" font-size="8.0" text-anchor="middle" fill="#0a0a0a" stroke="#0a0a0a" stroke-width="0.22" font-weight="normal" >Low</text><text x="117.70" y="625.40" font-size="8.0" text-anchor="middle" fill="#0a0a0a" stroke="#0a0a0a" stroke-width="0.22" font-weight="normal" >High</text><line x1="78.70" y1="540.20" x2="117.90" y2="540.20" stroke="#111" stroke-width="0.9" /><text x="98.30" y="540.40" font-size="7" text-anchor="middle" fill="#0a0a0a" stroke="#0a0a0a" stroke-width="0.22" font-weight="normal" >*</text><path d="M75.43,564.74 L76.88,567.35 L73.98,567.35 Z" fill="#a50029"/><path d="M79.52,567.68 L80.97,570.29 L78.07,570.29 Z" fill="#a50029"/><path d="M84.09,566.86 L85.54,569.47 L82.64,569.47 Z" fill="#a50029"/><path d="M70.53,570.75 L71.98,573.36 L69.08,573.36 Z" fill="#a50029"/><path d="M73.66,571.15 L75.11,573.76 L72.21,573.76 Z" fill="#a50029"/><path d="M76.79,570.75 L78.24,573.36 L75.34,573.36 Z" fill="#a50029"/><path d="M79.93,571.15 L81.38,573.76 L78.48,573.76 Z" fill="#a50029"/><path d="M83.06,570.75 L84.51,573.36 L81.61,573.36 Z" fill="#a50029"/><path d="M86.19,571.15 L87.64,573.76 L84.74,573.76 Z" fill="#a50029"/><path d="M89.32,570.75 L90.77,573.36 L87.87,573.36 Z" fill="#a50029"/><path d="M68.08,572.39 L69.53,575.00 L66.63,575.00 Z" fill="#a50029"/><path d="M70.98,572.78 L72.43,575.39 L69.53,575.39 Z" fill="#a50029"/><path d="M73.88,572.39 L75.33,575.00 L72.43,575.00 Z" fill="#a50029"/><path d="M76.78,572.78 L78.23,575.39 L75.33,575.39 Z" fill="#a50029"/><path d="M79.68,572.39 L81.13,575.00 L78.23,575.00 Z" fill="#a50029"/><path d="M82.58,572.78 L84.03,575.39 L81.13,575.39 Z" fill="#a50029"/><path d="M85.48,572.39 L86.93,575.00 L84.03,575.00 Z" fill="#a50029"/><path d="M88.39,572.78 L89.84,575.39 L86.94,575.39 Z" fill="#a50029"/><path d="M91.29,572.39 L92.74,575.00 L89.84,575.00 Z" fill="#a50029"/><path d="M68.89,574.35 L70.34,576.96 L67.44,576.96 Z" fill="#a50029"/><path d="M71.61,574.74 L73.06,577.35 L70.16,577.35 Z" fill="#a50029"/><path d="M74.33,574.35 L75.78,576.96 L72.88,576.96 Z" fill="#a50029"/><path d="M77.05,574.74 L78.50,577.35 L75.60,577.35 Z" fill="#a50029"/><path d="M79.76,574.35 L81.21,576.96 L78.31,576.96 Z" fill="#a50029"/><path d="M82.48,574.74 L83.93,577.35 L81.03,577.35 Z" fill="#a50029"/><path d="M85.20,574.35 L86.65,576.96 L83.75,576.96 Z" fill="#a50029"/><path d="M87.92,574.74 L89.37,577.35 L86.47,577.35 Z" fill="#a50029"/><path d="M90.63,574.35 L92.08,576.96 L89.18,576.96 Z" fill="#a50029"/><path d="M72.16,575.99 L73.61,578.60 L70.71,578.60 Z" fill="#a50029"/><path d="M74.61,576.38 L76.06,578.99 L73.16,578.99 Z" fill="#a50029"/><path d="M77.07,575.99 L78.52,578.60 L75.62,578.60 Z" fill="#a50029"/><path d="M79.52,576.38 L80.97,578.99 L78.07,578.99 Z" fill="#a50029"/><path d="M81.97,575.99 L83.42,578.60 L80.52,578.60 Z" fill="#a50029"/><path d="M84.42,576.38 L85.87,578.99 L82.97,578.99 Z" fill="#a50029"/><path d="M86.87,575.99 L88.32,578.60 L85.42,578.60 Z" fill="#a50029"/><path d="M76.25,577.29 L77.70,579.90 L74.80,579.90 Z" fill="#a50029"/><path d="M79.52,577.69 L80.97,580.30 L78.07,580.30 Z" fill="#a50029"/><path d="M82.79,577.29 L84.24,579.90 L81.34,579.90 Z" fill="#a50029"/><line x1="67.75" y1="575.02" x2="91.78" y2="575.02" stroke="#a50029" stroke-width="0.9" /><line x1="79.50" y1="572.56" x2="79.50" y2="577.47" stroke="#a50029" stroke-width="0.8" /><line x1="76.90" y1="572.56" x2="82.10" y2="572.56" stroke="#a50029" stroke-width="0.8" /><line x1="76.90" y1="577.47" x2="82.10" y2="577.47" stroke="#a50029" stroke-width="0.8" /><rect x="116.30" y="544.13" width="2.60" height="2.60" fill="#2f4b7d"/><rect x="118.59" y="549.53" width="2.60" height="2.60" fill="#2f4b7d"/><rect x="114.18" y="553.61" width="2.60" height="2.60" fill="#2f4b7d"/><rect x="124.47" y="556.39" width="2.60" height="2.60" fill="#2f4b7d"/><rect x="107.64" y="558.02" width="2.60" height="2.60" fill="#2f4b7d"/><rect x="111.73" y="558.52" width="2.60" height="2.60" fill="#2f4b7d"/><rect x="116.30" y="558.84" width="2.60" height="2.60" fill="#2f4b7d"/><rect x="120.39" y="558.35" width="2.60" height="2.60" fill="#2f4b7d"/><rect x="105.68" y="560.48" width="2.60" height="2.60" fill="#2f4b7d"/><rect x="126.44" y="559.99" width="2.60" height="2.60" fill="#2f4b7d"/><rect x="110.09" y="562.60" width="2.60" height="2.60" fill="#2f4b7d"/><rect x="122.35" y="562.11" width="2.60" height="2.60" fill="#2f4b7d"/><rect x="114.18" y="563.75" width="2.60" height="2.60" fill="#2f4b7d"/><rect x="118.26" y="563.75" width="2.60" height="2.60" fill="#2f4b7d"/><rect x="105.68" y="565.87" width="2.60" height="2.60" fill="#2f4b7d"/><rect x="126.76" y="566.52" width="2.60" height="2.60" fill="#2f4b7d"/><rect x="108.46" y="567.51" width="2.60" height="2.60" fill="#2f4b7d"/><rect x="112.54" y="567.83" width="2.60" height="2.60" fill="#2f4b7d"/><rect x="116.30" y="567.51" width="2.60" height="2.60" fill="#2f4b7d"/><rect x="120.39" y="567.51" width="2.60" height="2.60" fill="#2f4b7d"/><rect x="123.98" y="567.83" width="2.60" height="2.60" fill="#2f4b7d"/><rect x="105.68" y="569.96" width="2.60" height="2.60" fill="#2f4b7d"/><rect x="109.76" y="571.10" width="2.60" height="2.60" fill="#2f4b7d"/><rect x="113.85" y="571.59" width="2.60" height="2.60" fill="#2f4b7d"/><rect x="118.26" y="571.10" width="2.60" height="2.60" fill="#2f4b7d"/><rect x="122.35" y="571.59" width="2.60" height="2.60" fill="#2f4b7d"/><rect x="126.44" y="571.10" width="2.60" height="2.60" fill="#2f4b7d"/><rect x="111.73" y="573.23" width="2.60" height="2.60" fill="#2f4b7d"/><rect x="116.30" y="573.55" width="2.60" height="2.60" fill="#2f4b7d"/><rect x="120.39" y="572.74" width="2.60" height="2.60" fill="#2f4b7d"/><rect x="110.09" y="575.68" width="2.60" height="2.60" fill="#2f4b7d"/><rect x="116.30" y="575.68" width="2.60" height="2.60" fill="#2f4b7d"/><rect x="122.35" y="576.82" width="2.60" height="2.60" fill="#2f4b7d"/><rect x="113.36" y="579.27" width="2.60" height="2.60" fill="#2f4b7d"/><rect x="118.26" y="578.95" width="2.60" height="2.60" fill="#2f4b7d"/><rect x="111.73" y="580.91" width="2.60" height="2.60" fill="#2f4b7d"/><rect x="120.39" y="580.91" width="2.60" height="2.60" fill="#2f4b7d"/><rect x="116.30" y="584.18" width="2.60" height="2.60" fill="#2f4b7d"/><line x1="105.67" y1="568.31" x2="129.37" y2="568.31" stroke="#2f4b7d" stroke-width="0.9" /><line x1="117.70" y1="560.14" x2="117.70" y2="576.98" stroke="#2f4b7d" stroke-width="0.8" /><line x1="115.10" y1="560.14" x2="120.30" y2="560.14" stroke="#2f4b7d" stroke-width="0.8" /><line x1="115.10" y1="576.98" x2="120.30" y2="576.98" stroke="#2f4b7d" stroke-width="0.8" /><text transform="translate(15.30,566.30) rotate(-90) scale(0.612,1)" font-size="10.4" text-anchor="middle" fill="#0a0a0a" stroke="#0a0a0a" stroke-width="0.34" font-weight="normal">Nucleus area</text><text transform="translate(25.40,565.80) rotate(-90) scale(0.674,1)" font-size="10.4" text-anchor="middle" fill="#0a0a0a" stroke="#0a0a0a" stroke-width="0.34" font-weight="normal">(pixels<tspan dy="-3.4" font-size="6.5">2</tspan><tspan dy="3.4">)</tspan></text>
<text transform="translate(151.80,302.20) scale(1.1,1)" font-size="10.5" fill="#000" stroke="#000" stroke-width="0.12" font-weight="bold">G</text><clipPath id="cb1"><rect x="198.2" y="307" width="57.2" height="18"/></clipPath><clipPath id="cb2"><rect x="198.2" y="327.5" width="57.2" height="17.5"/></clipPath><clipPath id="cb3"><rect x="197.6" y="477.4" width="57.8" height="17.6"/></clipPath><clipPath id="cb4"><rect x="197.6" y="498.1" width="57.8" height="17.4"/></clipPath><g clip-path="url(#cb1)"><linearGradient id="bg1" x1="0" y1="0" x2="0" y2="1"><stop offset="0" stop-color="#6c6c6c"/><stop offset="1" stop-color="#8c8c8c"/></linearGradient><rect x="198.20" y="307.00" width="57.20" height="18.00" fill="url(#bg1)" stroke="none" stroke-width="1" /><rect x="200.5" y="314.3" width="21.5" height="3.4" rx="1.7" fill="#262626" fill-opacity="0.8" filter="url(#blurb)"/><rect x="200.5" y="314.2" width="11.5" height="3.6" rx="1.8" fill="#202020" fill-opacity="0.5" filter="url(#blurb)"/><rect x="229.5" y="314.2" width="22.0" height="4.6" rx="2.3" fill="#141414" fill-opacity="0.95" filter="url(#blurb)"/></g><g clip-path="url(#cb2)"><linearGradient id="bg2" x1="0" y1="0" x2="0" y2="1"><stop offset="0" stop-color="#c2c2c2"/><stop offset="1" stop-color="#a4a4a4"/></linearGradient><rect x="198.20" y="327.50" width="57.20" height="17.50" fill="url(#bg2)" stroke="none" stroke-width="1" /><rect x="199.5" y="336.5" width="26.5" height="4.2" rx="2.1" fill="#101010" fill-opacity="0.95" filter="url(#blurb)"/><rect x="225.0" y="336.6" width="29.0" height="4.6" rx="2.3" fill="#101010" fill-opacity="0.95" filter="url(#blurb)"/></g><text x="194.80" y="318.20" font-size="8.3" text-anchor="end" fill="#0a0a0a" stroke="#0a0a0a" stroke-width="0.22" font-weight="normal" >H3K27ac</text><text x="194.80" y="339.30" font-size="8.3" text-anchor="end" fill="#0a0a0a" stroke="#0a0a0a" stroke-width="0.22" font-weight="normal" >H3</text><line x1="201.90" y1="362.40" x2="201.90" y2="438.00" stroke="#111" stroke-width="1.15" /><line x1="201.40" y1="437.50" x2="255.30" y2="437.50" stroke="#111" stroke-width="1.15" /><line x1="198.90" y1="437.50" x2="201.90" y2="437.50" stroke="#111" stroke-width="1.15" /><text x="196.00" y="440.45" font-size="8.2" text-anchor="end" fill="#0a0a0a" stroke="#0a0a0a" stroke-width="0.22" font-weight="normal" >0</text><line x1="198.90" y1="413.33" x2="201.90" y2="413.33" stroke="#111" stroke-width="1.15" /><text x="196.00" y="416.28" font-size="8.2" text-anchor="end" fill="#0a0a0a" stroke="#0a0a0a" stroke-width="0.22" font-weight="normal" >0.2</text><line x1="198.90" y1="389.16" x2="201.90" y2="389.16" stroke="#111" stroke-width="1.15" /><text x="196.00" y="392.11" font-size="8.2" text-anchor="end" fill="#0a0a0a" stroke="#0a0a0a" stroke-width="0.22" font-weight="normal" >0.4</text><line x1="198.90" y1="364.99" x2="201.90" y2="364.99" stroke="#111" stroke-width="1.15" /><text x="196.00" y="367.94" font-size="8.2" text-anchor="end" fill="#0a0a0a" stroke="#0a0a0a" stroke-width="0.22" font-weight="normal" >0.6</text><rect x="209.50" y="424.80" width="11.50" height="12.20" fill="#a50029" stroke="none" stroke-width="1" /><rect x="236.50" y="383.20" width="11.30" height="53.80" fill="#2f4b7d" stroke="none" stroke-width="1" /><line x1="215.30" y1="417.80" x2="215.30" y2="424.80" stroke="#222" stroke-width="0.9" /><line x1="213.00" y1="417.80" x2="217.60" y2="417.80" stroke="#222" stroke-width="0.9" /><line x1="242.10" y1="377.00" x2="242.10" y2="383.20" stroke="#222" stroke-width="0.9" /><line x1="239.80" y1="377.00" x2="244.40" y2="377.00" stroke="#222" stroke-width="0.9" /><line x1="215.30" y1="437.50" x2="215.30" y2="440.50" stroke="#111" stroke-width="1.15" /><text x="215.30" y="450.80" font-size="8.3" text-anchor="middle" fill="#0a0a0a" stroke="#0a0a0a" stroke-width="0.22" font-weight="normal" >MMP</text><line x1="242.10" y1="437.50" x2="242.10" y2="440.50" stroke="#111" stroke-width="1.15" /><text x="242.10" y="450.80" font-size="8.3" text-anchor="middle" fill="#0a0a0a" stroke="#0a0a0a" stroke-width="0.22" font-weight="normal" >MMP</text><text x="215.30" y="460.60" font-size="8.3" text-anchor="middle" fill="#0a0a0a" stroke="#0a0a0a" stroke-width="0.22" font-weight="normal" >Low</text><text x="242.10" y="460.60" font-size="8.3" text-anchor="middle" fill="#0a0a0a" stroke="#0a0a0a" stroke-width="0.22" font-weight="normal" >High</text><line x1="214.50" y1="370.50" x2="241.80" y2="370.50" stroke="#111" stroke-width="0.9" /><text x="228.00" y="370.20" font-size="7" text-anchor="middle" fill="#0a0a0a" stroke="#0a0a0a" stroke-width="0.22" font-weight="normal" >**</text><text transform="translate(168.60,400.00) rotate(-90) scale(0.617,1)" font-size="10.4" text-anchor="middle" fill="#0a0a0a" stroke="#0a0a0a" stroke-width="0.34" font-weight="normal">H3K27ac band density</text><text transform="translate(179.20,399.80) rotate(-90) scale(0.586,1)" font-size="10.4" text-anchor="middle" fill="#0a0a0a" stroke="#0a0a0a" stroke-width="0.34" font-weight="normal">(A.U.)</text><g clip-path="url(#cb3)"><linearGradient id="bg3" x1="0" y1="0" x2="0" y2="1"><stop offset="0" stop-color="#787878"/><stop offset="1" stop-color="#868686"/></linearGradient><rect x="197.60" y="477.40" width="57.80" height="17.60" fill="url(#bg3)" stroke="none" stroke-width="1" /><rect x="201.5" y="486.5" width="21.5" height="4.2" rx="2.1" fill="#282828" fill-opacity="0.8" filter="url(#blurb2)"/><rect x="226.0" y="483.7" width="27.5" height="8.6" rx="4.3" fill="#080808" fill-opacity="0.97" filter="url(#blurb2)"/></g><g clip-path="url(#cb4)"><linearGradient id="bg4" x1="0" y1="0" x2="0" y2="1"><stop offset="0" stop-color="#9e9e9e"/><stop offset="1" stop-color="#949494"/></linearGradient><rect x="197.60" y="498.10" width="57.80" height="17.40" fill="url(#bg4)" stroke="none" stroke-width="1" /><rect x="199.5" y="505.1" width="24.0" height="5.8" rx="2.9" fill="#0a0a0a" fill-opacity="0.97" filter="url(#blurb)"/><rect x="224.5" y="504.8" width="29.5" height="7.6" rx="3.8" fill="#080808" fill-opacity="0.97" filter="url(#blurb)"/></g><text x="194.40" y="489.20" font-size="7.9" text-anchor="end" fill="#0a0a0a" stroke="#0a0a0a" stroke-width="0.22" font-weight="normal" >H3K9ac</text><text x="194.30" y="509.00" font-size="8.3" text-anchor="end" fill="#0a0a0a" stroke="#0a0a0a" stroke-width="0.22" font-weight="normal" >H3</text><line x1="201.50" y1="534.00" x2="201.50" y2="608.80" stroke="#111" stroke-width="1.15" /><line x1="201.00" y1="608.30" x2="255.20" y2="608.30" stroke="#111" stroke-width="1.15" /><line x1="198.50" y1="608.30" x2="201.50" y2="608.30" stroke="#111" stroke-width="1.15" /><text x="196.00" y="611.25" font-size="8.2" text-anchor="end" fill="#0a0a0a" stroke="#0a0a0a" stroke-width="0.22" font-weight="normal" >0</text><line x1="198.50" y1="590.10" x2="201.50" y2="590.10" stroke="#111" stroke-width="1.15" /><text x="196.00" y="593.05" font-size="8.2" text-anchor="end" fill="#0a0a0a" stroke="#0a0a0a" stroke-width="0.22" font-weight="normal" >0.5</text><line x1="198.50" y1="571.90" x2="201.50" y2="571.90" stroke="#111" stroke-width="1.15" /><text x="196.00" y="574.85" font-size="8.2" text-anchor="end" fill="#0a0a0a" stroke="#0a0a0a" stroke-width="0.22" font-weight="normal" >1.0</text><line x1="198.50" y1="553.70" x2="201.50" y2="553.70" stroke="#111" stroke-width="1.15" /><text x="196.00" y="556.65" font-size="8.2" text-anchor="end" fill="#0a0a0a" stroke="#0a0a0a" stroke-width="0.22" font-weight="normal" >1.5</text><line x1="198.50" y1="535.50" x2="201.50" y2="535.50" stroke="#111" stroke-width="1.15" /><text x="196.00" y="538.45" font-size="8.2" text-anchor="end" fill="#0a0a0a" stroke="#0a0a0a" stroke-width="0.22" font-weight="normal" >2.0</text><rect x="209.20" y="591.00" width="11.60" height="16.80" fill="#a50029" stroke="none" stroke-width="1" /><rect x="237.00" y="562.20" width="10.60" height="45.60" fill="#2f4b7d" stroke="none" stroke-width="1" /><line x1="215.00" y1="588.70" x2="215.00" y2="591.00" stroke="#222" stroke-width="0.9" /><line x1="212.70" y1="588.70" x2="217.30" y2="588.70" stroke="#222" stroke-width="0.9" /><line x1="242.30" y1="554.50" x2="242.30" y2="562.20" stroke="#222" stroke-width="0.9" /><line x1="240.00" y1="554.50" x2="244.60" y2="554.50" stroke="#222" stroke-width="0.9" /><line x1="215.00" y1="608.30" x2="215.00" y2="611.30" stroke="#111" stroke-width="1.15" /><text x="215.00" y="621.80" font-size="8.3" text-anchor="middle" fill="#0a0a0a" stroke="#0a0a0a" stroke-width="0.22" font-weight="normal" >MMP</text><line x1="242.30" y1="608.30" x2="242.30" y2="611.30" stroke="#111" stroke-width="1.15" /><text x="242.30" y="621.80" font-size="8.3" text-anchor="middle" fill="#0a0a0a" stroke="#0a0a0a" stroke-width="0.22" font-weight="normal" >MMP</text><text x="215.00" y="631.40" font-size="8.3" text-anchor="middle" fill="#0a0a0a" stroke="#0a0a0a" stroke-width="0.22" font-weight="normal" >Low</text><text x="242.30" y="631.40" font-size="8.3" text-anchor="middle" fill="#0a0a0a" stroke="#0a0a0a" stroke-width="0.22" font-weight="normal" >High</text><line x1="214.20" y1="544.90" x2="241.80" y2="544.90" stroke="#111" stroke-width="0.9" /><text x="228.00" y="544.80" font-size="7" text-anchor="middle" fill="#0a0a0a" stroke="#0a0a0a" stroke-width="0.22" font-weight="normal" >**</text><text transform="translate(168.60,570.70) rotate(-90) scale(0.625,1)" font-size="10.4" text-anchor="middle" fill="#0a0a0a" stroke="#0a0a0a" stroke-width="0.34" font-weight="normal">H3K9ac band density</text><text transform="translate(179.20,570.50) rotate(-90) scale(0.578,1)" font-size="10.4" text-anchor="middle" fill="#0a0a0a" stroke="#0a0a0a" stroke-width="0.34" font-weight="normal">(A.U.)</text>
<text transform="translate(270.80,302.20) scale(1.1,1)" font-size="10.5" fill="#000" stroke="#000" stroke-width="0.12" font-weight="bold">H</text><text x="310.80" y="305.60" font-size="7.85" text-anchor="start" fill="#0a0a0a" stroke="#0a0a0a" stroke-width="0.22" font-weight="normal" >H3K9me3</text><text x="363.00" y="305.60" font-size="7.85" text-anchor="start" fill="#0a0a0a" stroke="#0a0a0a" stroke-width="0.22" font-weight="normal" >DAPI</text><text x="404.50" y="305.60" font-size="7.85" text-anchor="start" fill="#0a0a0a" stroke="#0a0a0a" stroke-width="0.22" font-weight="normal" >Merge</text><line x1="292.80" y1="310.50" x2="292.80" y2="399.50" stroke="#111" stroke-width="0.9" /><text transform="translate(286.90,354.70) rotate(-90) scale(0.674,1)" font-size="9.8" text-anchor="middle" fill="#0a0a0a" stroke="#0a0a0a" stroke-width="0.2" font-weight="normal">MMP</text><text transform="translate(302.50,331.30) rotate(-90)" font-size="7.95" text-anchor="middle" fill="#0a0a0a" stroke="#0a0a0a" stroke-width="0.22">Low</text><text transform="translate(302.50,374.90) rotate(-90)" font-size="7.95" text-anchor="middle" fill="#0a0a0a" stroke="#0a0a0a" stroke-width="0.22">High</text><rect x="307.90" y="310.80" width="42.10" height="41.50" fill="#000" stroke="none" stroke-width="1" /><rect x="307.90" y="354.20" width="42.10" height="41.70" fill="#000" stroke="none" stroke-width="1" /><rect x="351.40" y="310.80" width="41.80" height="41.50" fill="#000" stroke="none" stroke-width="1" /><rect x="351.40" y="354.20" width="41.80" height="41.70" fill="#000" stroke="none" stroke-width="1" /><rect x="394.90" y="310.80" width="41.80" height="41.50" fill="#000" stroke="none" stroke-width="1" /><rect x="394.90" y="354.20" width="41.80" height="41.70" fill="#000" stroke="none" stroke-width="1" /><rect x="438.40" y="310.80" width="41.50" height="41.50" fill="#000" stroke="none" stroke-width="1" /><rect x="438.40" y="354.20" width="41.50" height="41.70" fill="#000" stroke="none" stroke-width="1" /><g filter="url(#blur05)"><circle cx="331" cy="334" r="9" fill="#500400" fill-opacity="0.35"/><circle cx="324.9" cy="335.9" r="0.90" fill="#c81208" fill-opacity="0.85"/><circle cx="325.0" cy="335.3" r="0.70" fill="#c81208" fill-opacity="0.85"/><circle cx="333.5" cy="339.6" r="0.73" fill="#c81208" fill-opacity="0.85"/><circle cx="331.7" cy="331.5" r="0.53" fill="#c81208" fill-opacity="0.85"/><circle cx="337.5" cy="338.2" r="0.77" fill="#c81208" fill-opacity="0.85"/><circle cx="339.2" cy="336.2" r="0.93" fill="#c81208" fill-opacity="0.85"/><circle cx="327.2" cy="328.4" r="0.44" fill="#c81208" fill-opacity="0.85"/><circle cx="337.2" cy="334.6" r="0.39" fill="#c81208" fill-opacity="0.85"/><circle cx="332.6" cy="337.9" r="0.37" fill="#c81208" fill-opacity="0.85"/><circle cx="325.4" cy="335.3" r="0.86" fill="#c81208" fill-opacity="0.85"/><circle cx="324.2" cy="333.2" r="0.65" fill="#c81208" fill-opacity="0.85"/><circle cx="328.0" cy="329.0" r="0.52" fill="#c81208" fill-opacity="0.85"/><circle cx="339.6" cy="333.9" r="0.85" fill="#c81208" fill-opacity="0.85"/><circle cx="329.7" cy="329.3" r="0.49" fill="#c81208" fill-opacity="0.85"/><circle cx="330.4" cy="336.2" r="0.81" fill="#c81208" fill-opacity="0.85"/><circle cx="324.6" cy="338.6" r="0.58" fill="#c81208" fill-opacity="0.85"/><circle cx="338.6" cy="331.9" r="0.35" fill="#c81208" fill-opacity="0.85"/><circle cx="333.1" cy="341.9" r="0.63" fill="#c81208" fill-opacity="0.85"/><circle cx="336.4" cy="333.3" r="0.39" fill="#c81208" fill-opacity="0.85"/><circle cx="325.8" cy="328.5" r="0.51" fill="#c81208" fill-opacity="0.85"/><circle cx="335.2" cy="336.6" r="0.93" fill="#c81208" fill-opacity="0.85"/><circle cx="331.1" cy="331.0" r="0.50" fill="#c81208" fill-opacity="0.85"/><circle cx="332.7" cy="335.2" r="0.83" fill="#c81208" fill-opacity="0.85"/><circle cx="333.8" cy="339.8" r="0.62" fill="#c81208" fill-opacity="0.85"/><circle cx="333.7" cy="340.9" r="0.43" fill="#c81208" fill-opacity="0.85"/><circle cx="329.2" cy="331.7" r="0.60" fill="#c81208" fill-opacity="0.85"/><circle cx="332.0" cy="338.3" r="0.93" fill="#c81208" fill-opacity="0.85"/><circle cx="332.6" cy="329.5" r="0.88" fill="#c81208" fill-opacity="0.85"/><circle cx="332.3" cy="339.2" r="0.86" fill="#c81208" fill-opacity="0.85"/><circle cx="329.3" cy="331.9" r="0.94" fill="#c81208" fill-opacity="0.85"/><circle cx="332.0" cy="338.3" r="0.81" fill="#c81208" fill-opacity="0.85"/><circle cx="328.8" cy="338.1" r="0.39" fill="#c81208" fill-opacity="0.85"/><circle cx="336.5" cy="337.5" r="0.50" fill="#c81208" fill-opacity="0.85"/><circle cx="326.8" cy="330.9" r="0.62" fill="#c81208" fill-opacity="0.85"/></g><g filter="url(#blur1)"><circle cx="328.4" cy="376.4" r="10.2" fill="#7a0802" fill-opacity="0.5"/><circle cx="326" cy="368.5" r="2.0" fill="#e41a0c" fill-opacity="0.92"/><circle cx="333" cy="371" r="1.7" fill="#e41a0c" fill-opacity="0.92"/><circle cx="323.5" cy="376" r="2.2" fill="#e41a0c" fill-opacity="0.92"/><circle cx="331" cy="378.5" r="2.0" fill="#e41a0c" fill-opacity="0.92"/><circle cx="336.5" cy="377" r="1.3" fill="#e41a0c" fill-opacity="0.92"/><circle cx="327" cy="384.5" r="1.7" fill="#e41a0c" fill-opacity="0.92"/><circle cx="333" cy="384.5" r="1.4" fill="#e41a0c" fill-opacity="0.92"/><circle cx="321" cy="381" r="1.3" fill="#e41a0c" fill-opacity="0.92"/><circle cx="330" cy="365" r="1.2" fill="#e41a0c" fill-opacity="0.92"/></g><line x1="338.70" y1="318.40" x2="332.73" y2="326.22" stroke="#fff" stroke-width="1.2" /><path d="M329.70,330.20 L331.14,325.01 L334.32,327.44 Z" fill="#fff"/><line x1="334.80" y1="363.70" x2="328.52" y2="371.59" stroke="#fff" stroke-width="1.2" /><path d="M325.40,375.50 L326.95,370.34 L330.08,372.84 Z" fill="#fff"/><g filter="url(#blur1)"><ellipse cx="372.8" cy="334" rx="9.5" ry="9" fill="url(#nucb)"/><circle cx="376.5" cy="329.5" r="1.8" fill="#5848c8" fill-opacity="0.7"/><circle cx="368" cy="330" r="1.6" fill="#5040c0" fill-opacity="0.7"/><circle cx="379" cy="333" r="1.3" fill="#5040c0" fill-opacity="0.6"/><ellipse cx="369.9" cy="376.4" rx="10.4" ry="10.7" fill="url(#nucb)"/><circle cx="374.5" cy="370" r="2.2" fill="#5848c8" fill-opacity="0.7"/><circle cx="367" cy="368.5" r="1.8" fill="#5040c0" fill-opacity="0.6"/><circle cx="366" cy="379" r="2" fill="#4a3ab8" fill-opacity="0.5"/></g><g filter="url(#blur1)"><circle cx="416.2" cy="333.6" r="9.5" fill="url(#nucb)"/></g><g filter="url(#blur05)"><circle cx="422.0" cy="332.1" r="0.77" fill="#d81a90" fill-opacity="0.75"/><circle cx="418.7" cy="330.9" r="0.53" fill="#d81a90" fill-opacity="0.75"/><circle cx="422.7" cy="329.4" r="0.59" fill="#d81a90" fill-opacity="0.75"/><circle cx="418.9" cy="340.5" r="0.97" fill="#d81a90" fill-opacity="0.75"/><circle cx="419.0" cy="341.5" r="0.94" fill="#d81a90" fill-opacity="0.75"/><circle cx="411.8" cy="330.2" r="0.51" fill="#d81a90" fill-opacity="0.75"/><circle cx="424.4" cy="335.6" r="0.58" fill="#d81a90" fill-opacity="0.75"/><circle cx="415.0" cy="329.4" r="0.90" fill="#d81a90" fill-opacity="0.75"/><circle cx="412.4" cy="330.9" r="0.55" fill="#d81a90" fill-opacity="0.75"/><circle cx="415.8" cy="331.4" r="0.58" fill="#d81a90" fill-opacity="0.75"/><circle cx="408.8" cy="330.7" r="0.79" fill="#d81a90" fill-opacity="0.75"/><circle cx="414.6" cy="341.7" r="0.56" fill="#d81a90" fill-opacity="0.75"/><circle cx="420.6" cy="334.1" r="0.70" fill="#d81a90" fill-opacity="0.75"/><circle cx="419.6" cy="334.9" r="0.65" fill="#d81a90" fill-opacity="0.75"/><circle cx="413.4" cy="332.2" r="0.65" fill="#d81a90" fill-opacity="0.75"/></g><g filter="url(#blur1)"><ellipse cx="414" cy="376.4" rx="10.6" ry="10.7" fill="url(#nucb)"/><ellipse cx="412.8" cy="368.2" rx="2.3" ry="1.5" fill="#f6158c" fill-opacity="0.95"/><ellipse cx="422.8" cy="370.3" rx="1.2" ry="2.6" fill="#f6158c" fill-opacity="0.95"/><ellipse cx="423.2" cy="380" rx="1.1" ry="2.2" fill="#f6158c" fill-opacity="0.95"/><ellipse cx="410.2" cy="377.2" rx="1.5" ry="1.4" fill="#f6158c" fill-opacity="0.95"/><ellipse cx="418.8" cy="377.5" rx="1.4" ry="1.9" fill="#f6158c" fill-opacity="0.95"/><ellipse cx="417.8" cy="385" rx="1.9" ry="1.2" fill="#f6158c" fill-opacity="0.95"/><ellipse cx="407" cy="383" rx="1.0" ry="1.0" fill="#f6158c" fill-opacity="0.95"/><ellipse cx="413" cy="381.5" rx="0.9" ry="0.9" fill="#f6158c" fill-opacity="0.95"/></g><g filter="url(#blur05)"><circle cx="460.4" cy="334" r="9.3" fill="#242424"/><circle cx="466.9" cy="328.7" r="0.60" fill="#e0e0e0" fill-opacity="0.65"/><circle cx="458.1" cy="327.9" r="0.36" fill="#e0e0e0" fill-opacity="0.65"/><circle cx="461.5" cy="334.2" r="0.71" fill="#e0e0e0" fill-opacity="0.65"/><circle cx="457.9" cy="326.1" r="0.31" fill="#e0e0e0" fill-opacity="0.65"/><circle cx="456.5" cy="329.5" r="0.63" fill="#e0e0e0" fill-opacity="0.65"/><circle cx="456.8" cy="341.7" r="0.33" fill="#e0e0e0" fill-opacity="0.65"/><circle cx="453.4" cy="331.9" r="0.71" fill="#e0e0e0" fill-opacity="0.65"/><circle cx="459.8" cy="326.9" r="0.66" fill="#e0e0e0" fill-opacity="0.65"/><circle cx="464.7" cy="331.4" r="0.61" fill="#e0e0e0" fill-opacity="0.65"/><circle cx="466.8" cy="329.4" r="0.49" fill="#e0e0e0" fill-opacity="0.65"/><circle cx="462.4" cy="326.4" r="0.56" fill="#e0e0e0" fill-opacity="0.65"/><circle cx="456.7" cy="330.3" r="0.56" fill="#e0e0e0" fill-opacity="0.65"/><circle cx="458.5" cy="332.5" r="0.59" fill="#e0e0e0" fill-opacity="0.65"/><circle cx="468.4" cy="333.7" r="0.63" fill="#e0e0e0" fill-opacity="0.65"/><circle cx="454.8" cy="338.7" r="0.56" fill="#e0e0e0" fill-opacity="0.65"/><circle cx="453.2" cy="336.8" r="0.34" fill="#e0e0e0" fill-opacity="0.65"/><circle cx="460.4" cy="332.5" r="0.57" fill="#e0e0e0" fill-opacity="0.65"/><circle cx="456.4" cy="334.5" r="0.61" fill="#e0e0e0" fill-opacity="0.65"/><circle cx="453.7" cy="334.1" r="0.71" fill="#e0e0e0" fill-opacity="0.65"/><circle cx="460.4" cy="334.9" r="0.44" fill="#e0e0e0" fill-opacity="0.65"/><circle cx="458.7" cy="330.6" r="0.38" fill="#e0e0e0" fill-opacity="0.65"/><circle cx="466.1" cy="330.1" r="0.50" fill="#e0e0e0" fill-opacity="0.65"/><circle cx="464.2" cy="330.9" r="0.60" fill="#e0e0e0" fill-opacity="0.65"/><circle cx="462.2" cy="339.3" r="0.66" fill="#e0e0e0" fill-opacity="0.65"/><circle cx="467.2" cy="329.9" r="0.47" fill="#e0e0e0" fill-opacity="0.65"/><circle cx="456.3" cy="331.6" r="0.36" fill="#e0e0e0" fill-opacity="0.65"/><circle cx="452.6" cy="334.2" r="0.68" fill="#e0e0e0" fill-opacity="0.65"/><circle cx="458.4" cy="326.0" r="0.42" fill="#e0e0e0" fill-opacity="0.65"/><circle cx="463.2" cy="339.0" r="0.42" fill="#e0e0e0" fill-opacity="0.65"/><circle cx="461.6" cy="339.3" r="0.58" fill="#e0e0e0" fill-opacity="0.65"/><circle cx="455.6" cy="334.2" r="0.68" fill="#e0e0e0" fill-opacity="0.65"/><circle cx="466.1" cy="333.4" r="0.33" fill="#e0e0e0" fill-opacity="0.65"/><circle cx="468.2" cy="335.6" r="0.32" fill="#e0e0e0" fill-opacity="0.65"/><circle cx="458.7" cy="327.8" r="0.44" fill="#e0e0e0" fill-opacity="0.65"/><circle cx="460.7" cy="332.9" r="0.36" fill="#e0e0e0" fill-opacity="0.65"/><circle cx="459.1" cy="334.4" r="0.67" fill="#e0e0e0" fill-opacity="0.65"/><circle cx="460.7" cy="337.2" r="0.32" fill="#e0e0e0" fill-opacity="0.65"/><circle cx="456.5" cy="329.9" r="0.58" fill="#e0e0e0" fill-opacity="0.65"/><circle cx="456.1" cy="327.7" r="0.73" fill="#e0e0e0" fill-opacity="0.65"/><circle cx="458.9" cy="330.5" r="0.51" fill="#e0e0e0" fill-opacity="0.65"/><circle cx="460.8" cy="334.8" r="0.51" fill="#e0e0e0" fill-opacity="0.65"/><circle cx="459.6" cy="330.5" r="0.42" fill="#e0e0e0" fill-opacity="0.65"/><circle cx="456.4" cy="339.9" r="0.53" fill="#e0e0e0" fill-opacity="0.65"/><circle cx="454.8" cy="329.1" r="0.48" fill="#e0e0e0" fill-opacity="0.65"/><circle cx="462.5" cy="326.2" r="0.34" fill="#e0e0e0" fill-opacity="0.65"/><circle cx="467.0" cy="331.0" r="0.36" fill="#e0e0e0" fill-opacity="0.65"/><circle cx="454.0" cy="335.9" r="0.71" fill="#e0e0e0" fill-opacity="0.65"/><circle cx="455.8" cy="338.5" r="0.70" fill="#e0e0e0" fill-opacity="0.65"/><circle cx="462.8" cy="326.1" r="0.51" fill="#e0e0e0" fill-opacity="0.65"/><circle cx="458.2" cy="330.9" r="0.62" fill="#e0e0e0" fill-opacity="0.65"/></g><g filter="url(#blur1)"><ellipse cx="457.4" cy="376.4" rx="10.4" ry="10.6" fill="url(#nucgr)"/><circle cx="456.5" cy="368.5" r="2.3" fill="#707070" fill-opacity="0.6"/><circle cx="464.5" cy="370.5" r="1.8" fill="#707070" fill-opacity="0.6"/><circle cx="455" cy="377.5" r="2.0" fill="#707070" fill-opacity="0.6"/><circle cx="462.5" cy="378" r="2.0" fill="#707070" fill-opacity="0.6"/><circle cx="459" cy="385" r="1.8" fill="#707070" fill-opacity="0.6"/><circle cx="451" cy="381" r="1.4" fill="#707070" fill-opacity="0.6"/></g><line x1="418.00" y1="391.10" x2="430.90" y2="391.10" stroke="#dcdcdc" stroke-width="1.4" /><line x1="461.70" y1="391.10" x2="474.20" y2="391.10" stroke="#dcdcdc" stroke-width="1.4" /><line x1="368.80" y1="418.50" x2="368.80" y2="503.00" stroke="#111" stroke-width="1.15" /><line x1="368.30" y1="502.50" x2="443.00" y2="502.50" stroke="#111" stroke-width="1.15" /><line x1="365.80" y1="502.50" x2="368.80" y2="502.50" stroke="#111" stroke-width="1.15" /><text x="363.40" y="505.50" font-size="8.2" text-anchor="end" fill="#0a0a0a" stroke="#0a0a0a" stroke-width="0.22" font-weight="normal" >0.0</text><line x1="365.80" y1="475.50" x2="368.80" y2="475.50" stroke="#111" stroke-width="1.15" /><text x="363.40" y="479.30" font-size="8.2" text-anchor="end" fill="#0a0a0a" stroke="#0a0a0a" stroke-width="0.22" font-weight="normal" >0.5 X 10<tspan dy="-3.7" font-size="6.4">6</tspan></text><line x1="365.80" y1="448.50" x2="368.80" y2="448.50" stroke="#111" stroke-width="1.15" /><text x="363.40" y="452.30" font-size="8.2" text-anchor="end" fill="#0a0a0a" stroke="#0a0a0a" stroke-width="0.22" font-weight="normal" >1.0 X 10<tspan dy="-3.7" font-size="6.4">6</tspan></text><line x1="365.80" y1="421.50" x2="368.80" y2="421.50" stroke="#111" stroke-width="1.15" /><text x="363.40" y="425.30" font-size="8.2" text-anchor="end" fill="#0a0a0a" stroke="#0a0a0a" stroke-width="0.22" font-weight="normal" >1.5 X 10<tspan dy="-3.7" font-size="6.4">6</tspan></text><line x1="366.80" y1="489.00" x2="368.80" y2="489.00" stroke="#111" stroke-width="0.8" /><line x1="366.80" y1="462.00" x2="368.80" y2="462.00" stroke="#111" stroke-width="0.8" /><line x1="366.80" y1="435.00" x2="368.80" y2="435.00" stroke="#111" stroke-width="0.8" /><line x1="387.40" y1="502.50" x2="387.40" y2="505.50" stroke="#111" stroke-width="1.15" /><text x="387.40" y="515.40" font-size="8.3" text-anchor="middle" fill="#0a0a0a" stroke="#0a0a0a" stroke-width="0.22" font-weight="normal" >MMP</text><line x1="424.60" y1="502.50" x2="424.60" y2="505.50" stroke="#111" stroke-width="1.15" /><text x="424.60" y="515.40" font-size="8.3" text-anchor="middle" fill="#0a0a0a" stroke="#0a0a0a" stroke-width="0.22" font-weight="normal" >MMP</text><text x="387.40" y="525.40" font-size="8.3" text-anchor="middle" fill="#0a0a0a" stroke="#0a0a0a" stroke-width="0.22" font-weight="normal" >Low</text><text x="424.60" y="525.40" font-size="8.3" text-anchor="middle" fill="#0a0a0a" stroke="#0a0a0a" stroke-width="0.22" font-weight="normal" >High</text><line x1="390.60" y1="426.40" x2="424.10" y2="426.40" stroke="#111" stroke-width="0.9" /><text x="407.30" y="426.20" font-size="7" text-anchor="middle" fill="#0a0a0a" stroke="#0a0a0a" stroke-width="0.22" font-weight="normal" >***</text><line x1="375.08" y1="489.31" x2="399.92" y2="489.31" stroke="#a50029" stroke-width="1" /><line x1="387.66" y1="478.69" x2="387.66" y2="501.90" stroke="#a50029" stroke-width="0.8" /><line x1="384.76" y1="478.69" x2="390.56" y2="478.69" stroke="#a50029" stroke-width="0.8" /><circle cx="385.70" cy="469.70" r="1.3" fill="#fff" fill-opacity="0.5" stroke="#a50029" stroke-width="0.8"/><circle cx="389.30" cy="469.70" r="1.3" fill="#fff" fill-opacity="0.5" stroke="#a50029" stroke-width="0.8"/><circle cx="379.98" cy="474.11" r="1.3" fill="#fff" fill-opacity="0.5" stroke="#a50029" stroke-width="0.8"/><circle cx="383.25" cy="474.93" r="1.3" fill="#fff" fill-opacity="0.5" stroke="#a50029" stroke-width="0.8"/><circle cx="391.42" cy="474.44" r="1.3" fill="#fff" fill-opacity="0.5" stroke="#a50029" stroke-width="0.8"/><circle cx="395.18" cy="474.11" r="1.3" fill="#fff" fill-opacity="0.5" stroke="#a50029" stroke-width="0.8"/><circle cx="387.34" cy="477.71" r="1.3" fill="#fff" fill-opacity="0.5" stroke="#a50029" stroke-width="0.8"/><circle cx="384.07" cy="481.47" r="1.3" fill="#fff" fill-opacity="0.5" stroke="#a50029" stroke-width="0.8"/><circle cx="387.66" cy="483.43" r="1.3" fill="#fff" fill-opacity="0.5" stroke="#a50029" stroke-width="0.8"/><circle cx="391.42" cy="483.10" r="1.3" fill="#fff" fill-opacity="0.5" stroke="#a50029" stroke-width="0.8"/><circle cx="381.61" cy="488.01" r="1.3" fill="#fff" fill-opacity="0.5" stroke="#a50029" stroke-width="0.8"/><circle cx="385.37" cy="489.64" r="1.3" fill="#fff" fill-opacity="0.5" stroke="#a50029" stroke-width="0.8"/><circle cx="391.09" cy="489.15" r="1.3" fill="#fff" fill-opacity="0.5" stroke="#a50029" stroke-width="0.8"/><circle cx="395.18" cy="489.64" r="1.3" fill="#fff" fill-opacity="0.5" stroke="#a50029" stroke-width="0.8"/><circle cx="388.97" cy="492.58" r="1.3" fill="#fff" fill-opacity="0.5" stroke="#a50029" stroke-width="0.8"/><circle cx="384.07" cy="493.73" r="1.3" fill="#fff" fill-opacity="0.5" stroke="#a50029" stroke-width="0.8"/><circle cx="382.43" cy="495.69" r="1.3" fill="#fff" fill-opacity="0.5" stroke="#a50029" stroke-width="0.8"/><circle cx="386.52" cy="497.00" r="1.3" fill="#fff" fill-opacity="0.5" stroke="#a50029" stroke-width="0.8"/><circle cx="393.06" cy="497.00" r="1.3" fill="#fff" fill-opacity="0.5" stroke="#a50029" stroke-width="0.8"/><circle cx="377.53" cy="497.32" r="1.3" fill="#fff" fill-opacity="0.5" stroke="#a50029" stroke-width="0.8"/><circle cx="397.14" cy="498.14" r="1.3" fill="#fff" fill-opacity="0.5" stroke="#a50029" stroke-width="0.8"/><circle cx="379.98" cy="499.12" r="1.3" fill="#fff" fill-opacity="0.5" stroke="#a50029" stroke-width="0.8"/><circle cx="389.79" cy="498.63" r="1.3" fill="#fff" fill-opacity="0.5" stroke="#a50029" stroke-width="0.8"/><circle cx="383.25" cy="500.26" r="1.3" fill="#fff" fill-opacity="0.5" stroke="#a50029" stroke-width="0.8"/><circle cx="393.87" cy="499.94" r="1.3" fill="#fff" fill-opacity="0.5" stroke="#a50029" stroke-width="0.8"/><circle cx="386.52" cy="501.08" r="1.3" fill="#fff" fill-opacity="0.5" stroke="#a50029" stroke-width="0.8"/><circle cx="391.42" cy="501.41" r="1.3" fill="#fff" fill-opacity="0.5" stroke="#a50029" stroke-width="0.8"/><circle cx="380.80" cy="500.75" r="1.3" fill="#fff" fill-opacity="0.5" stroke="#a50029" stroke-width="0.8"/><circle cx="388.15" cy="502.23" r="1.3" fill="#fff" fill-opacity="0.5" stroke="#a50029" stroke-width="0.8"/><circle cx="395.51" cy="501.08" r="1.3" fill="#fff" fill-opacity="0.5" stroke="#a50029" stroke-width="0.8"/><circle cx="384.88" cy="498.63" r="1.3" fill="#fff" fill-opacity="0.5" stroke="#a50029" stroke-width="0.8"/><rect x="423.68" y="434.12" width="2.50" height="2.50" fill="#2f4b7d"/><rect x="425.64" y="446.71" width="2.50" height="2.50" fill="#2f4b7d"/><rect x="421.55" y="448.02" width="2.50" height="2.50" fill="#2f4b7d"/><rect x="423.68" y="451.61" width="2.50" height="2.50" fill="#2f4b7d"/><rect x="414.36" y="454.06" width="2.50" height="2.50" fill="#2f4b7d"/><rect x="417.96" y="455.21" width="2.50" height="2.50" fill="#2f4b7d"/><rect x="422.04" y="456.19" width="2.50" height="2.50" fill="#2f4b7d"/><rect x="425.64" y="455.21" width="2.50" height="2.50" fill="#2f4b7d"/><rect x="429.40" y="454.56" width="2.50" height="2.50" fill="#2f4b7d"/><rect x="433.00" y="454.06" width="2.50" height="2.50" fill="#2f4b7d"/><rect x="416.32" y="463.38" width="2.50" height="2.50" fill="#2f4b7d"/><rect x="419.92" y="461.75" width="2.50" height="2.50" fill="#2f4b7d"/><rect x="423.68" y="461.09" width="2.50" height="2.50" fill="#2f4b7d"/><rect x="427.44" y="463.87" width="2.50" height="2.50" fill="#2f4b7d"/><rect x="431.03" y="464.36" width="2.50" height="2.50" fill="#2f4b7d"/><rect x="412.73" y="467.96" width="2.50" height="2.50" fill="#2f4b7d"/><rect x="416.32" y="468.78" width="2.50" height="2.50" fill="#2f4b7d"/><rect x="419.92" y="467.96" width="2.50" height="2.50" fill="#2f4b7d"/><rect x="423.68" y="467.47" width="2.50" height="2.50" fill="#2f4b7d"/><rect x="427.44" y="468.29" width="2.50" height="2.50" fill="#2f4b7d"/><rect x="431.03" y="467.96" width="2.50" height="2.50" fill="#2f4b7d"/><rect x="434.63" y="467.96" width="2.50" height="2.50" fill="#2f4b7d"/><rect x="412.73" y="471.55" width="2.50" height="2.50" fill="#2f4b7d"/><rect x="416.32" y="472.53" width="2.50" height="2.50" fill="#2f4b7d"/><rect x="419.92" y="473.68" width="2.50" height="2.50" fill="#2f4b7d"/><rect x="423.68" y="472.86" width="2.50" height="2.50" fill="#2f4b7d"/><rect x="427.44" y="473.19" width="2.50" height="2.50" fill="#2f4b7d"/><rect x="431.03" y="472.53" width="2.50" height="2.50" fill="#2f4b7d"/><rect x="434.63" y="471.23" width="2.50" height="2.50" fill="#2f4b7d"/><rect x="417.96" y="476.95" width="2.50" height="2.50" fill="#2f4b7d"/><rect x="422.04" y="478.09" width="2.50" height="2.50" fill="#2f4b7d"/><rect x="427.44" y="477.44" width="2.50" height="2.50" fill="#2f4b7d"/><rect x="414.69" y="481.03" width="2.50" height="2.50" fill="#2f4b7d"/><rect x="418.29" y="482.18" width="2.50" height="2.50" fill="#2f4b7d"/><rect x="423.68" y="482.67" width="2.50" height="2.50" fill="#2f4b7d"/><rect x="429.07" y="482.18" width="2.50" height="2.50" fill="#2f4b7d"/><rect x="433.00" y="480.71" width="2.50" height="2.50" fill="#2f4b7d"/><rect x="416.32" y="485.61" width="2.50" height="2.50" fill="#2f4b7d"/><rect x="419.92" y="486.76" width="2.50" height="2.50" fill="#2f4b7d"/><rect x="425.64" y="487.57" width="2.50" height="2.50" fill="#2f4b7d"/><rect x="431.03" y="485.61" width="2.50" height="2.50" fill="#2f4b7d"/><rect x="420.41" y="489.21" width="2.50" height="2.50" fill="#2f4b7d"/><rect x="424.50" y="490.02" width="2.50" height="2.50" fill="#2f4b7d"/><rect x="427.44" y="488.39" width="2.50" height="2.50" fill="#2f4b7d"/><rect x="422.04" y="493.29" width="2.50" height="2.50" fill="#2f4b7d"/><line x1="411.85" y1="471.33" x2="437.19" y2="471.33" stroke="#2f4b7d" stroke-width="1" /><line x1="424.93" y1="458.58" x2="424.93" y2="483.92" stroke="#2f4b7d" stroke-width="0.8" /><line x1="422.03" y1="458.58" x2="427.83" y2="458.58" stroke="#2f4b7d" stroke-width="0.8" /><line x1="422.03" y1="483.92" x2="427.83" y2="483.92" stroke="#2f4b7d" stroke-width="0.8" /><text transform="translate(324.40,460.30) rotate(-90) scale(0.608,1)" font-size="10.4" text-anchor="middle" fill="#0a0a0a" stroke="#0a0a0a" stroke-width="0.34" font-weight="normal">H3K9me3</text>
<rect x="0.5" y="0.5" width="519" height="639" fill="none" stroke="#000" stroke-width="1.55"/>
</svg></body></html>
